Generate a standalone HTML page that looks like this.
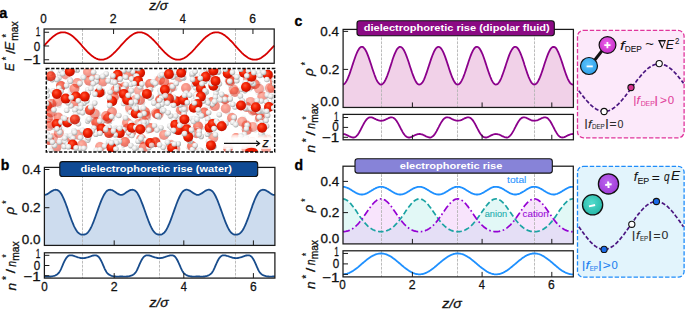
<!DOCTYPE html>
<html><head><meta charset="utf-8"><style>
html,body{margin:0;padding:0;background:#fff;width:685px;height:309px;overflow:hidden}
svg{display:block;font-family:"Liberation Sans", sans-serif}
</style></head><body>
<svg width="685" height="309" viewBox="0 0 685 309">
<defs><radialGradient id="gO" cx="40%" cy="35%" r="65%"><stop offset="0" stop-color="#ff5535"/><stop offset="0.5" stop-color="#f01e00"/><stop offset="1" stop-color="#c01000"/></radialGradient><radialGradient id="gH" cx="40%" cy="35%" r="65%"><stop offset="0" stop-color="#ffffff"/><stop offset="0.55" stop-color="#e6e6e6"/><stop offset="1" stop-color="#a6a6a6"/></radialGradient></defs>
<line x1="82.50" y1="29.00" x2="82.50" y2="63.30" stroke="#b4b4b4" stroke-width="0.9" stroke-dasharray="2.8,1.2"/>
<line x1="158.50" y1="29.00" x2="158.50" y2="63.30" stroke="#b4b4b4" stroke-width="0.9" stroke-dasharray="2.8,1.2"/>
<line x1="235.50" y1="29.00" x2="235.50" y2="63.30" stroke="#b4b4b4" stroke-width="0.9" stroke-dasharray="2.8,1.2"/>
<path d="M44.1,45.8L44.8,45.0L45.5,44.2L46.2,43.4L46.9,42.7L47.6,41.9L48.3,41.2L49.0,40.4L49.7,39.7L50.4,39.0L51.1,38.4L51.8,37.7L52.5,37.1L53.2,36.5L53.9,36.0L54.6,35.5L55.3,35.0L56.0,34.5L56.7,34.1L57.3,33.7L58.0,33.4L58.7,33.1L59.4,32.9L60.1,32.6L60.8,32.5L61.5,32.4L62.2,32.3L62.9,32.3L63.6,32.3L64.3,32.3L65.0,32.4L65.7,32.6L66.4,32.8L67.1,33.0L67.8,33.3L68.5,33.6L69.2,34.0L69.9,34.4L70.6,34.8L71.3,35.3L72.0,35.8L72.7,36.3L73.4,36.9L74.1,37.5L74.8,38.1L75.5,38.8L76.2,39.5L76.9,40.2L77.6,40.9L78.3,41.6L79.0,42.4L79.7,43.1L80.4,43.9L81.1,44.7L81.8,45.5L82.4,46.3L83.1,47.0L83.8,47.8L84.5,48.6L85.2,49.4L85.9,50.1L86.6,50.9L87.3,51.6L88.0,52.3L88.7,53.0L89.4,53.7L90.1,54.3L90.8,54.9L91.5,55.5L92.2,56.0L92.9,56.6L93.6,57.0L94.3,57.5L95.0,57.9L95.7,58.3L96.4,58.6L97.1,58.9L97.8,59.2L98.5,59.4L99.2,59.5L99.9,59.6L100.6,59.7L101.3,59.7L102.0,59.7L102.7,59.7L103.4,59.6L104.1,59.4L104.8,59.2L105.5,59.0L106.2,58.7L106.9,58.4L107.6,58.0L108.2,57.6L108.9,57.2L109.6,56.7L110.3,56.2L111.0,55.7L111.7,55.1L112.4,54.5L113.1,53.9L113.8,53.2L114.5,52.5L115.2,51.8L115.9,51.1L116.6,50.4L117.3,49.6L118.0,48.8L118.7,48.1L119.4,47.3L120.1,46.5L120.8,45.7L121.5,44.9L122.2,44.1L122.9,43.4L123.6,42.6L124.3,41.9L125.0,41.1L125.7,40.4L126.4,39.7L127.1,39.0L127.8,38.3L128.5,37.7L129.2,37.1L129.9,36.5L130.6,35.9L131.3,35.4L132.0,34.9L132.7,34.5L133.4,34.1L134.0,33.7L134.7,33.4L135.4,33.1L136.1,32.8L136.8,32.6L137.5,32.5L138.2,32.4L138.9,32.3L139.6,32.3L140.3,32.3L141.0,32.3L141.7,32.4L142.4,32.6L143.1,32.8L143.8,33.0L144.5,33.3L145.2,33.6L145.9,34.0L146.6,34.4L147.3,34.8L148.0,35.3L148.7,35.8L149.4,36.4L150.1,36.9L150.8,37.5L151.5,38.2L152.2,38.8L152.9,39.5L153.6,40.2L154.3,40.9L155.0,41.7L155.7,42.4L156.4,43.2L157.1,44.0L157.8,44.7L158.5,45.5L159.1,46.3L159.8,47.1L160.5,47.9L161.2,48.7L161.9,49.4L162.6,50.2L163.3,50.9L164.0,51.6L164.7,52.4L165.4,53.0L166.1,53.7L166.8,54.3L167.5,54.9L168.2,55.5L168.9,56.1L169.6,56.6L170.3,57.1L171.0,57.5L171.7,57.9L172.4,58.3L173.1,58.6L173.8,58.9L174.5,59.2L175.2,59.4L175.9,59.5L176.6,59.7L177.3,59.7L178.0,59.7L178.7,59.7L179.4,59.7L180.1,59.6L180.8,59.4L181.5,59.2L182.2,59.0L182.9,58.7L183.6,58.4L184.3,58.0L184.9,57.6L185.6,57.2L186.3,56.7L187.0,56.2L187.7,55.6L188.4,55.0L189.1,54.4L189.8,53.8L190.5,53.1L191.2,52.5L191.9,51.8L192.6,51.0L193.3,50.3L194.0,49.5L194.7,48.8L195.4,48.0L196.1,47.2L196.8,46.4L197.5,45.7L198.2,44.9L198.9,44.1L199.6,43.3L200.3,42.6L201.0,41.8L201.7,41.1L202.4,40.3L203.1,39.6L203.8,38.9L204.5,38.3L205.2,37.6L205.9,37.0L206.6,36.4L207.3,35.9L208.0,35.4L208.7,34.9L209.4,34.5L210.1,34.0L210.7,33.7L211.4,33.3L212.1,33.1L212.8,32.8L213.5,32.6L214.2,32.5L214.9,32.3L215.6,32.3L216.3,32.3L217.0,32.3L217.7,32.3L218.4,32.4L219.1,32.6L219.8,32.8L220.5,33.0L221.2,33.3L221.9,33.6L222.6,34.0L223.3,34.4L224.0,34.9L224.7,35.3L225.4,35.9L226.1,36.4L226.8,37.0L227.5,37.6L228.2,38.2L228.9,38.9L229.6,39.6L230.3,40.3L231.0,41.0L231.7,41.7L232.4,42.5L233.1,43.2L233.8,44.0L234.5,44.8L235.2,45.6L235.9,46.4L236.5,47.2L237.2,47.9L237.9,48.7L238.6,49.5L239.3,50.2L240.0,51.0L240.7,51.7L241.4,52.4L242.1,53.1L242.8,53.7L243.5,54.4L244.2,55.0L244.9,55.6L245.6,56.1L246.3,56.6L247.0,57.1L247.7,57.6L248.4,58.0L249.1,58.3L249.8,58.7L250.5,58.9L251.2,59.2L251.9,59.4L252.6,59.5L253.3,59.7L254.0,59.7L254.7,59.7L255.4,59.7L256.1,59.7L256.8,59.5L257.5,59.4L258.2,59.2L258.9,59.0L259.6,58.7L260.3,58.3L261.0,58.0L261.6,57.6L262.3,57.1L263.0,56.6L263.7,56.1L264.4,55.6L265.1,55.0L265.8,54.4L266.5,53.8L267.2,53.1L267.9,52.4L268.6,51.7L269.3,51.0L270.0,50.2L270.7,49.5L271.4,48.7L272.1,47.9L272.8,47.2L273.5,46.4L274.2,45.6" fill="none" stroke="#d60000" stroke-width="1.8"/>
<rect x="44.10" y="29.00" width="230.10" height="34.30" fill="none" stroke="#1a1a1a" stroke-width="1.25"/>
<line x1="44.10" y1="32.25" x2="49.10" y2="32.25" stroke="#1a1a1a" stroke-width="1.0"/>
<line x1="44.10" y1="46.00" x2="49.10" y2="46.00" stroke="#1a1a1a" stroke-width="1.0"/>
<line x1="44.10" y1="59.75" x2="49.10" y2="59.75" stroke="#1a1a1a" stroke-width="1.0"/>
<line x1="113.58" y1="29.00" x2="113.58" y2="34.00" stroke="#1a1a1a" stroke-width="1.0"/>
<line x1="183.26" y1="29.00" x2="183.26" y2="34.00" stroke="#1a1a1a" stroke-width="1.0"/>
<line x1="252.94" y1="29.00" x2="252.94" y2="34.00" stroke="#1a1a1a" stroke-width="1.0"/>
<text x="40.23" y="22.50" font-size="12.6" font-weight="normal" font-style="normal" fill="#111" stroke="#111" stroke-width="0.28" textLength="6.49" lengthAdjust="spacingAndGlyphs">0</text>
<text x="109.76" y="22.50" font-size="12.6" font-weight="normal" font-style="normal" fill="#111" stroke="#111" stroke-width="0.28" textLength="6.85" lengthAdjust="spacingAndGlyphs">2</text>
<text x="179.84" y="22.50" font-size="12.6" font-weight="normal" font-style="normal" fill="#111" stroke="#111" stroke-width="0.28" textLength="6.17" lengthAdjust="spacingAndGlyphs">4</text>
<text x="249.14" y="22.50" font-size="12.6" font-weight="normal" font-style="normal" fill="#111" stroke="#111" stroke-width="0.28" textLength="6.70" lengthAdjust="spacingAndGlyphs">6</text>
<text x="149.27" y="9.60" font-size="12.5" font-weight="normal" font-style="italic" fill="#111" stroke="#111" stroke-width="0.28" textLength="18.57" lengthAdjust="spacingAndGlyphs">z/σ</text>
<text x="35.68" y="36.30" font-size="12.6" font-weight="normal" font-style="normal" fill="#111" stroke="#111" stroke-width="0.28" textLength="4.60" lengthAdjust="spacingAndGlyphs">1</text>
<text x="33.83" y="50.80" font-size="12.6" font-weight="normal" font-style="normal" fill="#111" stroke="#111" stroke-width="0.28" textLength="6.49" lengthAdjust="spacingAndGlyphs">0</text>
<text x="23.34" y="64.30" font-size="12.6" font-weight="normal" font-style="normal" fill="#111" stroke="#111" stroke-width="0.28" textLength="17.24" lengthAdjust="spacingAndGlyphs">−1</text>
<text x="-0.80" y="18.10" font-size="14.5" text-anchor="start" font-weight="bold" font-style="normal" fill="#000" stroke="#000" stroke-width="0.35">a</text>
<text transform="rotate(-90)" x="-71.16" y="14.31" font-size="13.5" font-weight="normal" font-style="italic" fill="#111" stroke="#111" stroke-width="0.28" textLength="8.07" lengthAdjust="spacingAndGlyphs">E</text>
<text transform="rotate(-90)" x="-50.39" y="14.31" font-size="13.5" font-weight="normal" font-style="italic" fill="#111" stroke="#111" stroke-width="0.28" textLength="8.69" lengthAdjust="spacingAndGlyphs">E</text>
<text transform="rotate(-90)" x="-60.13" y="9.80" font-size="10" font-weight="normal" font-style="normal" fill="#111" stroke="#111" stroke-width="0.28" textLength="3.46" lengthAdjust="spacingAndGlyphs">*</text>
<text transform="rotate(-90)" x="-53.80" y="15.19" font-size="13.5" font-weight="normal" font-style="normal" fill="#111" stroke="#111" stroke-width="0.28" textLength="3.77" lengthAdjust="spacingAndGlyphs">/</text>
<text transform="rotate(-90)" x="-37.43" y="9.80" font-size="10" font-weight="normal" font-style="normal" fill="#111" stroke="#111" stroke-width="0.28" textLength="3.46" lengthAdjust="spacingAndGlyphs">*</text>
<text transform="rotate(-90)" x="-40.67" y="18.40" font-size="10" font-weight="normal" font-style="normal" fill="#111" stroke="#111" stroke-width="0.28" textLength="19.36" lengthAdjust="spacingAndGlyphs">max</text>
<clipPath id="mc"><rect x="46.3" y="68.4" width="228.39999999999998" height="83.5"/></clipPath>
<g clip-path="url(#mc)">
<g opacity="0.46"><circle cx="81.0" cy="81.4" r="2.3" fill="url(#gH)"/><circle cx="77.6" cy="87.0" r="2.3" fill="url(#gH)"/><circle cx="77.3" cy="83.0" r="5.0" fill="url(#gO)"/></g>
<g opacity="0.55"><circle cx="49.1" cy="100.8" r="2.3" fill="url(#gH)"/><circle cx="55.2" cy="102.8" r="2.3" fill="url(#gH)"/><circle cx="51.4" cy="104.0" r="5.0" fill="url(#gO)"/></g>
<g opacity="0.51"><circle cx="98.7" cy="77.5" r="2.3" fill="url(#gH)"/><circle cx="95.1" cy="82.9" r="2.3" fill="url(#gH)"/><circle cx="95.0" cy="78.9" r="5.0" fill="url(#gO)"/></g>
<g opacity="0.44"><circle cx="59.1" cy="89.5" r="2.3" fill="url(#gH)"/><circle cx="58.3" cy="83.1" r="2.3" fill="url(#gH)"/><circle cx="61.0" cy="86.0" r="5.0" fill="url(#gO)"/></g>
<g opacity="0.43"><circle cx="55.4" cy="131.1" r="2.3" fill="url(#gH)"/><circle cx="61.9" cy="130.5" r="2.3" fill="url(#gH)"/><circle cx="58.9" cy="133.1" r="5.0" fill="url(#gO)"/></g>
<g opacity="0.53"><circle cx="49.3" cy="110.5" r="2.3" fill="url(#gH)"/><circle cx="45.1" cy="105.4" r="2.3" fill="url(#gH)"/><circle cx="49.0" cy="106.5" r="5.0" fill="url(#gO)"/></g>
<g opacity="0.55"><circle cx="65.1" cy="146.1" r="2.3" fill="url(#gH)"/><circle cx="62.3" cy="140.2" r="2.3" fill="url(#gH)"/><circle cx="65.8" cy="142.2" r="5.0" fill="url(#gO)"/></g>
<g opacity="0.64"><circle cx="45.6" cy="137.9" r="2.3" fill="url(#gH)"/><circle cx="52.1" cy="137.4" r="2.3" fill="url(#gH)"/><circle cx="49.0" cy="140.0" r="5.0" fill="url(#gO)"/></g>
<g opacity="0.56"><circle cx="131.3" cy="77.8" r="2.3" fill="url(#gH)"/><circle cx="124.9" cy="76.4" r="2.3" fill="url(#gH)"/><circle cx="128.6" cy="74.8" r="5.0" fill="url(#gO)"/></g>
<g opacity="0.47"><circle cx="98.9" cy="80.5" r="2.3" fill="url(#gH)"/><circle cx="105.0" cy="78.3" r="2.3" fill="url(#gH)"/><circle cx="102.7" cy="81.6" r="5.0" fill="url(#gO)"/></g>
<g opacity="0.64"><circle cx="110.0" cy="115.5" r="2.3" fill="url(#gH)"/><circle cx="109.9" cy="122.0" r="2.3" fill="url(#gH)"/><circle cx="107.6" cy="118.7" r="5.0" fill="url(#gO)"/></g>
<g opacity="0.48"><circle cx="114.4" cy="115.2" r="2.3" fill="url(#gH)"/><circle cx="108.2" cy="113.2" r="2.3" fill="url(#gH)"/><circle cx="112.0" cy="112.0" r="5.0" fill="url(#gO)"/></g>
<g opacity="0.55"><circle cx="144.8" cy="108.0" r="2.3" fill="url(#gH)"/><circle cx="148.9" cy="113.1" r="2.3" fill="url(#gH)"/><circle cx="145.0" cy="112.0" r="5.0" fill="url(#gO)"/></g>
<g opacity="0.59"><circle cx="123.3" cy="145.6" r="2.3" fill="url(#gH)"/><circle cx="122.1" cy="139.2" r="2.3" fill="url(#gH)"/><circle cx="125.0" cy="142.0" r="5.0" fill="url(#gO)"/></g>
<g opacity="0.58"><circle cx="160.1" cy="111.4" r="2.3" fill="url(#gH)"/><circle cx="158.9" cy="117.8" r="2.3" fill="url(#gH)"/><circle cx="157.2" cy="114.2" r="5.0" fill="url(#gO)"/></g>
<g opacity="0.42"><circle cx="159.3" cy="118.0" r="2.3" fill="url(#gH)"/><circle cx="154.7" cy="113.5" r="2.3" fill="url(#gH)"/><circle cx="158.6" cy="114.1" r="5.0" fill="url(#gO)"/></g>
<g opacity="0.63"><circle cx="200.2" cy="112.4" r="2.3" fill="url(#gH)"/><circle cx="205.7" cy="108.9" r="2.3" fill="url(#gH)"/><circle cx="204.2" cy="112.6" r="5.0" fill="url(#gO)"/></g>
<g opacity="0.56"><circle cx="201.9" cy="127.7" r="2.3" fill="url(#gH)"/><circle cx="195.6" cy="129.4" r="2.3" fill="url(#gH)"/><circle cx="198.1" cy="126.3" r="5.0" fill="url(#gO)"/></g>
<g opacity="0.59"><circle cx="194.4" cy="149.2" r="2.3" fill="url(#gH)"/><circle cx="188.2" cy="147.3" r="2.3" fill="url(#gH)"/><circle cx="192.0" cy="146.0" r="5.0" fill="url(#gO)"/></g>
<g opacity="0.45"><circle cx="156.4" cy="78.3" r="2.3" fill="url(#gH)"/><circle cx="162.8" cy="77.1" r="2.3" fill="url(#gH)"/><circle cx="160.0" cy="80.0" r="5.0" fill="url(#gO)"/></g>
<g opacity="0.56"><circle cx="253.2" cy="80.7" r="2.3" fill="url(#gH)"/><circle cx="258.9" cy="83.8" r="2.3" fill="url(#gH)"/><circle cx="254.9" cy="84.3" r="5.0" fill="url(#gO)"/></g>
<g opacity="0.61"><circle cx="221.1" cy="98.4" r="2.3" fill="url(#gH)"/><circle cx="227.0" cy="95.7" r="2.3" fill="url(#gH)"/><circle cx="225.0" cy="99.2" r="5.0" fill="url(#gO)"/></g>
<g opacity="0.59"><circle cx="211.3" cy="105.9" r="2.3" fill="url(#gH)"/><circle cx="208.5" cy="100.1" r="2.3" fill="url(#gH)"/><circle cx="212.0" cy="102.0" r="5.0" fill="url(#gO)"/></g>
<g opacity="0.43"><circle cx="261.7" cy="92.5" r="2.3" fill="url(#gH)"/><circle cx="266.2" cy="97.2" r="2.3" fill="url(#gH)"/><circle cx="262.3" cy="96.5" r="5.0" fill="url(#gO)"/></g>
<g opacity="0.50"><circle cx="245.5" cy="126.3" r="2.3" fill="url(#gH)"/><circle cx="250.8" cy="130.1" r="2.3" fill="url(#gH)"/><circle cx="246.8" cy="130.1" r="5.0" fill="url(#gO)"/></g>
<g opacity="0.44"><circle cx="211.4" cy="141.2" r="2.3" fill="url(#gH)"/><circle cx="210.6" cy="134.8" r="2.3" fill="url(#gH)"/><circle cx="213.3" cy="137.7" r="5.0" fill="url(#gO)"/></g>
<g opacity="0.47"><circle cx="246.8" cy="148.0" r="2.3" fill="url(#gH)"/><circle cx="252.9" cy="146.0" r="2.3" fill="url(#gH)"/><circle cx="250.6" cy="149.2" r="5.0" fill="url(#gO)"/></g>
<g opacity="0.47"><circle cx="234.2" cy="88.1" r="2.3" fill="url(#gH)"/><circle cx="239.0" cy="92.6" r="2.3" fill="url(#gH)"/><circle cx="235.0" cy="92.0" r="5.0" fill="url(#gO)"/></g>
<g opacity="0.50"><circle cx="228.6" cy="120.1" r="2.3" fill="url(#gH)"/><circle cx="231.1" cy="114.1" r="2.3" fill="url(#gH)"/><circle cx="232.0" cy="118.0" r="5.0" fill="url(#gO)"/></g>
<g opacity="0.45"><circle cx="264.1" cy="141.0" r="2.3" fill="url(#gH)"/><circle cx="268.4" cy="136.0" r="2.3" fill="url(#gH)"/><circle cx="268.0" cy="140.0" r="5.0" fill="url(#gO)"/></g>
<g opacity="0.59"><circle cx="153.9" cy="128.7" r="2.3" fill="url(#gH)"/><circle cx="148.0" cy="131.5" r="2.3" fill="url(#gH)"/><circle cx="150.0" cy="128.0" r="5.0" fill="url(#gO)"/></g>
<g opacity="0.54"><circle cx="86.8" cy="107.6" r="2.3" fill="url(#gH)"/><circle cx="93.3" cy="107.7" r="2.3" fill="url(#gH)"/><circle cx="90.0" cy="110.0" r="5.0" fill="url(#gO)"/></g>
<g opacity="0.45"><circle cx="82.5" cy="141.0" r="2.3" fill="url(#gH)"/><circle cx="85.6" cy="146.8" r="2.3" fill="url(#gH)"/><circle cx="82.0" cy="145.0" r="5.0" fill="url(#gO)"/></g>
<g opacity="0.44"><circle cx="98.8" cy="143.2" r="2.3" fill="url(#gH)"/><circle cx="104.0" cy="147.1" r="2.3" fill="url(#gH)"/><circle cx="100.0" cy="147.0" r="5.0" fill="url(#gO)"/></g>
<g opacity="0.56"><circle cx="141.5" cy="96.3" r="2.3" fill="url(#gH)"/><circle cx="143.0" cy="102.7" r="2.3" fill="url(#gH)"/><circle cx="140.0" cy="100.0" r="5.0" fill="url(#gO)"/></g>
<g opacity="0.64"><circle cx="156.2" cy="101.1" r="2.3" fill="url(#gH)"/><circle cx="160.2" cy="96.0" r="2.3" fill="url(#gH)"/><circle cx="160.0" cy="100.0" r="5.0" fill="url(#gO)"/></g>
<g opacity="0.60"><circle cx="225.4" cy="145.0" r="2.3" fill="url(#gH)"/><circle cx="231.7" cy="146.5" r="2.3" fill="url(#gH)"/><circle cx="228.0" cy="148.0" r="5.0" fill="url(#gO)"/></g>
<g opacity="0.49"><circle cx="239.3" cy="135.7" r="2.3" fill="url(#gH)"/><circle cx="237.1" cy="141.8" r="2.3" fill="url(#gH)"/><circle cx="236.0" cy="138.0" r="5.0" fill="url(#gO)"/></g>
<g opacity="0.45"><circle cx="91.7" cy="70.4" r="2.3" fill="url(#gH)"/><circle cx="88.3" cy="76.0" r="2.3" fill="url(#gH)"/><circle cx="88.0" cy="72.0" r="5.0" fill="url(#gO)"/></g>
<g opacity="0.61"><circle cx="153.7" cy="85.5" r="2.3" fill="url(#gH)"/><circle cx="147.4" cy="87.0" r="2.3" fill="url(#gH)"/><circle cx="150.0" cy="84.0" r="5.0" fill="url(#gO)"/></g>
<g opacity="0.47"><circle cx="190.0" cy="87.4" r="2.3" fill="url(#gH)"/><circle cx="185.3" cy="91.9" r="2.3" fill="url(#gH)"/><circle cx="186.0" cy="88.0" r="5.0" fill="url(#gO)"/></g>
<g opacity="0.61"><circle cx="115.8" cy="91.4" r="2.3" fill="url(#gH)"/><circle cx="115.5" cy="84.9" r="2.3" fill="url(#gH)"/><circle cx="118.0" cy="88.0" r="5.0" fill="url(#gO)"/></g>
<g opacity="0.58"><circle cx="97.6" cy="118.3" r="2.3" fill="url(#gH)"/><circle cx="99.0" cy="124.7" r="2.3" fill="url(#gH)"/><circle cx="96.0" cy="122.0" r="5.0" fill="url(#gO)"/></g>
<g opacity="0.54"><circle cx="233.7" cy="81.5" r="2.3" fill="url(#gH)"/><circle cx="227.4" cy="83.0" r="2.3" fill="url(#gH)"/><circle cx="230.0" cy="80.0" r="5.0" fill="url(#gO)"/></g>
<g opacity="0.41"><circle cx="266.2" cy="86.7" r="2.3" fill="url(#gH)"/><circle cx="272.5" cy="84.9" r="2.3" fill="url(#gH)"/><circle cx="270.0" cy="88.0" r="5.0" fill="url(#gO)"/></g>
<g opacity="0.49"><circle cx="44.1" cy="117.3" r="2.3" fill="url(#gH)"/><circle cx="50.0" cy="114.5" r="2.3" fill="url(#gH)"/><circle cx="48.0" cy="118.0" r="5.0" fill="url(#gO)"/></g>
<g opacity="0.57"><circle cx="256.3" cy="119.5" r="2.3" fill="url(#gH)"/><circle cx="259.8" cy="114.0" r="2.3" fill="url(#gH)"/><circle cx="260.0" cy="118.0" r="5.0" fill="url(#gO)"/></g>
<g opacity="0.53"><circle cx="177.0" cy="109.6" r="2.3" fill="url(#gH)"/><circle cx="182.7" cy="106.4" r="2.3" fill="url(#gH)"/><circle cx="181.0" cy="110.0" r="5.0" fill="url(#gO)"/></g>
<g opacity="0.45"><circle cx="160.7" cy="137.3" r="2.3" fill="url(#gH)"/><circle cx="162.9" cy="131.2" r="2.3" fill="url(#gH)"/><circle cx="164.0" cy="135.0" r="5.0" fill="url(#gO)"/></g>
<g opacity="0.43"><circle cx="127.8" cy="111.3" r="2.3" fill="url(#gH)"/><circle cx="127.6" cy="104.8" r="2.3" fill="url(#gH)"/><circle cx="130.0" cy="108.0" r="5.0" fill="url(#gO)"/></g>
<g opacity="0.40"><circle cx="153.2" cy="110.4" r="2.5" fill="url(#gH)"/><circle cx="159.7" cy="111.4" r="2.5" fill="url(#gH)"/><circle cx="156.1" cy="113.2" r="5.0" fill="url(#gO)"/></g>
<g opacity="0.49"><circle cx="54.5" cy="113.8" r="2.5" fill="url(#gH)"/><circle cx="48.3" cy="115.6" r="2.5" fill="url(#gH)"/><circle cx="50.8" cy="112.5" r="5.0" fill="url(#gO)"/></g>
<g opacity="0.40"><circle cx="135.3" cy="96.2" r="2.5" fill="url(#gH)"/><circle cx="138.8" cy="101.7" r="2.5" fill="url(#gH)"/><circle cx="135.1" cy="100.2" r="5.0" fill="url(#gO)"/></g>
<g opacity="0.32"><circle cx="124.1" cy="101.0" r="2.5" fill="url(#gH)"/><circle cx="123.3" cy="94.5" r="2.5" fill="url(#gH)"/><circle cx="126.0" cy="97.5" r="5.0" fill="url(#gO)"/></g>
<g opacity="0.49"><circle cx="167.8" cy="147.4" r="2.5" fill="url(#gH)"/><circle cx="170.3" cy="141.4" r="2.5" fill="url(#gH)"/><circle cx="171.2" cy="145.3" r="5.0" fill="url(#gO)"/></g>
<g opacity="0.50"><circle cx="259.3" cy="136.5" r="2.5" fill="url(#gH)"/><circle cx="265.8" cy="136.3" r="2.5" fill="url(#gH)"/><circle cx="262.6" cy="138.7" r="5.0" fill="url(#gO)"/></g>
<g opacity="0.39"><circle cx="231.7" cy="93.1" r="2.5" fill="url(#gH)"/><circle cx="230.9" cy="86.6" r="2.5" fill="url(#gH)"/><circle cx="233.6" cy="89.6" r="5.0" fill="url(#gO)"/></g>
<g opacity="0.45"><circle cx="108.1" cy="119.6" r="2.5" fill="url(#gH)"/><circle cx="102.2" cy="116.9" r="2.5" fill="url(#gH)"/><circle cx="106.1" cy="116.1" r="5.0" fill="url(#gO)"/></g>
<g opacity="0.40"><circle cx="178.3" cy="81.0" r="2.5" fill="url(#gH)"/><circle cx="176.0" cy="74.9" r="2.5" fill="url(#gH)"/><circle cx="179.3" cy="77.1" r="5.0" fill="url(#gO)"/></g>
<g opacity="0.43"><circle cx="211.7" cy="76.2" r="2.5" fill="url(#gH)"/><circle cx="206.0" cy="79.4" r="2.5" fill="url(#gH)"/><circle cx="207.7" cy="75.8" r="5.0" fill="url(#gO)"/></g>
<g opacity="0.35"><circle cx="140.4" cy="127.6" r="2.5" fill="url(#gH)"/><circle cx="134.7" cy="124.4" r="2.5" fill="url(#gH)"/><circle cx="138.7" cy="124.0" r="5.0" fill="url(#gO)"/></g>
<g opacity="0.37"><circle cx="263.1" cy="88.7" r="2.5" fill="url(#gH)"/><circle cx="257.9" cy="92.6" r="2.5" fill="url(#gH)"/><circle cx="259.1" cy="88.8" r="5.0" fill="url(#gO)"/></g>
<g opacity="0.53"><circle cx="120.9" cy="89.8" r="2.5" fill="url(#gH)"/><circle cx="122.4" cy="83.5" r="2.5" fill="url(#gH)"/><circle cx="123.9" cy="87.2" r="5.0" fill="url(#gO)"/></g>
<g opacity="0.52"><circle cx="71.1" cy="102.6" r="2.5" fill="url(#gH)"/><circle cx="76.8" cy="99.4" r="2.5" fill="url(#gH)"/><circle cx="75.1" cy="103.1" r="5.0" fill="url(#gO)"/></g>
<g opacity="0.52"><circle cx="271.6" cy="83.0" r="2.5" fill="url(#gH)"/><circle cx="273.1" cy="76.7" r="2.5" fill="url(#gH)"/><circle cx="274.7" cy="80.4" r="5.0" fill="url(#gO)"/></g>
<g opacity="0.49"><circle cx="62.4" cy="118.1" r="2.5" fill="url(#gH)"/><circle cx="56.6" cy="121.1" r="2.5" fill="url(#gH)"/><circle cx="58.4" cy="117.5" r="5.0" fill="url(#gO)"/></g>
<g opacity="0.32"><circle cx="263.0" cy="110.2" r="2.5" fill="url(#gH)"/><circle cx="262.6" cy="116.7" r="2.5" fill="url(#gH)"/><circle cx="260.5" cy="113.3" r="5.0" fill="url(#gO)"/></g>
<g opacity="0.47"><circle cx="144.7" cy="141.2" r="2.5" fill="url(#gH)"/><circle cx="138.2" cy="141.7" r="2.5" fill="url(#gH)"/><circle cx="141.2" cy="139.1" r="5.0" fill="url(#gO)"/></g>
<g opacity="0.38"><circle cx="135.1" cy="89.2" r="2.5" fill="url(#gH)"/><circle cx="141.3" cy="87.4" r="2.5" fill="url(#gH)"/><circle cx="138.9" cy="90.5" r="5.0" fill="url(#gO)"/></g>
<g opacity="0.50"><circle cx="129.0" cy="135.6" r="2.5" fill="url(#gH)"/><circle cx="128.8" cy="129.1" r="2.5" fill="url(#gH)"/><circle cx="131.2" cy="132.3" r="5.0" fill="url(#gO)"/></g>
<g opacity="0.52"><circle cx="163.2" cy="85.6" r="2.5" fill="url(#gH)"/><circle cx="160.9" cy="79.5" r="2.5" fill="url(#gH)"/><circle cx="164.2" cy="81.8" r="5.0" fill="url(#gO)"/></g>
<g opacity="0.39"><circle cx="177.7" cy="145.7" r="2.5" fill="url(#gH)"/><circle cx="177.6" cy="152.2" r="2.5" fill="url(#gH)"/><circle cx="175.3" cy="149.0" r="5.0" fill="url(#gO)"/></g>
<g opacity="0.47"><circle cx="218.6" cy="127.8" r="2.5" fill="url(#gH)"/><circle cx="221.0" cy="121.8" r="2.5" fill="url(#gH)"/><circle cx="222.0" cy="125.7" r="5.0" fill="url(#gO)"/></g>
<g opacity="0.44"><circle cx="243.3" cy="127.9" r="2.5" fill="url(#gH)"/><circle cx="245.2" cy="121.7" r="2.5" fill="url(#gH)"/><circle cx="246.5" cy="125.5" r="5.0" fill="url(#gO)"/></g>
<g opacity="0.45"><circle cx="194.5" cy="95.0" r="2.5" fill="url(#gH)"/><circle cx="200.2" cy="91.8" r="2.5" fill="url(#gH)"/><circle cx="198.5" cy="95.4" r="5.0" fill="url(#gO)"/></g>
<g opacity="0.43"><circle cx="228.6" cy="105.7" r="2.5" fill="url(#gH)"/><circle cx="227.5" cy="112.1" r="2.5" fill="url(#gH)"/><circle cx="225.8" cy="108.5" r="5.0" fill="url(#gO)"/></g>
<g opacity="0.40"><circle cx="238.2" cy="122.0" r="2.5" fill="url(#gH)"/><circle cx="243.3" cy="118.0" r="2.5" fill="url(#gH)"/><circle cx="242.2" cy="121.8" r="5.0" fill="url(#gO)"/></g>
<g opacity="0.52"><circle cx="131.3" cy="126.6" r="2.5" fill="url(#gH)"/><circle cx="128.3" cy="132.4" r="2.5" fill="url(#gH)"/><circle cx="127.7" cy="128.4" r="5.0" fill="url(#gO)"/></g>
<g opacity="0.33"><circle cx="250.4" cy="148.4" r="2.5" fill="url(#gH)"/><circle cx="245.5" cy="152.7" r="2.5" fill="url(#gH)"/><circle cx="246.4" cy="148.8" r="5.0" fill="url(#gO)"/></g>
<g opacity="0.40"><circle cx="253.4" cy="104.6" r="2.5" fill="url(#gH)"/><circle cx="247.0" cy="103.8" r="2.5" fill="url(#gH)"/><circle cx="250.5" cy="101.9" r="5.0" fill="url(#gO)"/></g>
<g opacity="0.47"><circle cx="194.9" cy="85.3" r="2.5" fill="url(#gH)"/><circle cx="194.3" cy="78.8" r="2.5" fill="url(#gH)"/><circle cx="196.9" cy="81.9" r="5.0" fill="url(#gO)"/></g>
<g opacity="0.41"><circle cx="208.8" cy="66.1" r="2.5" fill="url(#gH)"/><circle cx="214.8" cy="68.5" r="2.5" fill="url(#gH)"/><circle cx="210.9" cy="69.4" r="5.0" fill="url(#gO)"/></g>
<g opacity="0.52"><circle cx="148.6" cy="118.3" r="2.5" fill="url(#gH)"/><circle cx="142.2" cy="117.0" r="2.5" fill="url(#gH)"/><circle cx="145.8" cy="115.4" r="5.0" fill="url(#gO)"/></g>
<g opacity="0.45"><circle cx="98.7" cy="114.1" r="2.5" fill="url(#gH)"/><circle cx="93.1" cy="117.3" r="2.5" fill="url(#gH)"/><circle cx="94.8" cy="113.7" r="5.0" fill="url(#gO)"/></g>
<g opacity="0.46"><circle cx="256.3" cy="141.7" r="2.5" fill="url(#gH)"/><circle cx="251.4" cy="146.0" r="2.5" fill="url(#gH)"/><circle cx="252.3" cy="142.1" r="5.0" fill="url(#gO)"/></g>
<g opacity="0.48"><circle cx="249.8" cy="89.1" r="2.5" fill="url(#gH)"/><circle cx="246.5" cy="83.5" r="2.5" fill="url(#gH)"/><circle cx="250.2" cy="85.1" r="5.0" fill="url(#gO)"/></g>
<g opacity="0.47"><circle cx="210.9" cy="106.4" r="2.5" fill="url(#gH)"/><circle cx="215.9" cy="102.2" r="2.5" fill="url(#gH)"/><circle cx="214.9" cy="106.1" r="5.0" fill="url(#gO)"/></g>
<g opacity="0.47"><circle cx="123.4" cy="124.6" r="2.5" fill="url(#gH)"/><circle cx="126.4" cy="118.9" r="2.5" fill="url(#gH)"/><circle cx="127.0" cy="122.8" r="5.0" fill="url(#gO)"/></g>
<g opacity="0.53"><circle cx="162.3" cy="100.4" r="2.5" fill="url(#gH)"/><circle cx="159.7" cy="94.4" r="2.5" fill="url(#gH)"/><circle cx="163.2" cy="96.5" r="5.0" fill="url(#gO)"/></g>
<g opacity="0.51"><circle cx="91.7" cy="77.7" r="2.5" fill="url(#gH)"/><circle cx="91.2" cy="84.2" r="2.5" fill="url(#gH)"/><circle cx="89.1" cy="80.8" r="5.0" fill="url(#gO)"/></g>
<g opacity="0.35"><circle cx="275.1" cy="90.8" r="2.5" fill="url(#gH)"/><circle cx="268.6" cy="90.1" r="2.5" fill="url(#gH)"/><circle cx="272.1" cy="88.1" r="5.0" fill="url(#gO)"/></g>
<g opacity="0.35"><circle cx="181.4" cy="105.4" r="2.5" fill="url(#gH)"/><circle cx="187.3" cy="108.2" r="2.5" fill="url(#gH)"/><circle cx="183.4" cy="108.9" r="5.0" fill="url(#gO)"/></g>
<g opacity="0.50"><circle cx="244.6" cy="103.8" r="2.5" fill="url(#gH)"/><circle cx="250.7" cy="106.1" r="2.5" fill="url(#gH)"/><circle cx="246.8" cy="107.1" r="5.0" fill="url(#gO)"/></g>
<g opacity="0.44"><circle cx="250.5" cy="111.1" r="2.5" fill="url(#gH)"/><circle cx="254.6" cy="106.1" r="2.5" fill="url(#gH)"/><circle cx="254.3" cy="110.1" r="5.0" fill="url(#gO)"/></g>
<g opacity="0.53"><circle cx="90.4" cy="106.3" r="2.5" fill="url(#gH)"/><circle cx="93.3" cy="112.2" r="2.5" fill="url(#gH)"/><circle cx="89.8" cy="110.3" r="5.0" fill="url(#gO)"/></g>
<g opacity="0.33"><circle cx="53.0" cy="127.4" r="2.5" fill="url(#gH)"/><circle cx="47.2" cy="124.3" r="2.5" fill="url(#gH)"/><circle cx="51.2" cy="123.8" r="5.0" fill="url(#gO)"/></g>
<g opacity="0.43"><circle cx="79.6" cy="131.0" r="2.5" fill="url(#gH)"/><circle cx="81.2" cy="137.3" r="2.5" fill="url(#gH)"/><circle cx="78.1" cy="134.8" r="5.0" fill="url(#gO)"/></g>
<g opacity="0.49"><circle cx="132.1" cy="107.4" r="2.5" fill="url(#gH)"/><circle cx="137.9" cy="110.5" r="2.5" fill="url(#gH)"/><circle cx="133.9" cy="111.0" r="5.0" fill="url(#gO)"/></g>
<g opacity="0.42"><circle cx="60.1" cy="82.2" r="2.5" fill="url(#gH)"/><circle cx="64.9" cy="86.6" r="2.5" fill="url(#gH)"/><circle cx="60.9" cy="86.1" r="5.0" fill="url(#gO)"/></g>
<g opacity="0.48"><circle cx="192.5" cy="133.7" r="2.5" fill="url(#gH)"/><circle cx="197.5" cy="129.4" r="2.5" fill="url(#gH)"/><circle cx="196.5" cy="133.3" r="5.0" fill="url(#gO)"/></g>
<g opacity="0.55"><circle cx="174.8" cy="88.4" r="2.5" fill="url(#gH)"/><circle cx="168.8" cy="90.9" r="2.5" fill="url(#gH)"/><circle cx="170.9" cy="87.5" r="5.0" fill="url(#gO)"/></g>
<g opacity="0.36"><circle cx="48.2" cy="122.1" r="2.5" fill="url(#gH)"/><circle cx="52.6" cy="126.9" r="2.5" fill="url(#gH)"/><circle cx="48.7" cy="126.1" r="5.0" fill="url(#gO)"/></g>
<g opacity="0.42"><circle cx="59.1" cy="105.3" r="2.5" fill="url(#gH)"/><circle cx="53.4" cy="102.2" r="2.5" fill="url(#gH)"/><circle cx="57.4" cy="101.7" r="5.0" fill="url(#gO)"/></g>
<g opacity="0.54"><circle cx="147.8" cy="146.3" r="2.5" fill="url(#gH)"/><circle cx="143.4" cy="151.0" r="2.5" fill="url(#gH)"/><circle cx="143.9" cy="147.1" r="5.0" fill="url(#gO)"/></g>
<g opacity="0.48"><circle cx="58.4" cy="150.4" r="2.5" fill="url(#gH)"/><circle cx="52.8" cy="147.1" r="2.5" fill="url(#gH)"/><circle cx="56.7" cy="146.7" r="5.0" fill="url(#gO)"/></g>
<g opacity="0.46"><circle cx="43.1" cy="105.1" r="2.5" fill="url(#gH)"/><circle cx="48.9" cy="102.2" r="2.5" fill="url(#gH)"/><circle cx="47.0" cy="105.7" r="5.0" fill="url(#gO)"/></g>
<g opacity="0.45"><circle cx="230.5" cy="85.2" r="2.5" fill="url(#gH)"/><circle cx="226.7" cy="79.9" r="2.5" fill="url(#gH)"/><circle cx="230.5" cy="81.2" r="5.0" fill="url(#gO)"/></g>
<g opacity="0.36"><circle cx="52.5" cy="142.2" r="2.5" fill="url(#gH)"/><circle cx="49.2" cy="136.5" r="2.5" fill="url(#gH)"/><circle cx="52.9" cy="138.2" r="5.0" fill="url(#gO)"/></g>
<g opacity="0.36"><circle cx="100.3" cy="120.3" r="2.5" fill="url(#gH)"/><circle cx="98.4" cy="126.5" r="2.5" fill="url(#gH)"/><circle cx="97.1" cy="122.8" r="5.0" fill="url(#gO)"/></g>
<g opacity="0.45"><circle cx="112.2" cy="88.1" r="2.5" fill="url(#gH)"/><circle cx="118.7" cy="87.3" r="2.5" fill="url(#gH)"/><circle cx="115.7" cy="90.0" r="5.0" fill="url(#gO)"/></g>
<g opacity="0.38"><circle cx="255.3" cy="130.1" r="2.5" fill="url(#gH)"/><circle cx="249.0" cy="128.3" r="2.5" fill="url(#gH)"/><circle cx="252.8" cy="126.9" r="5.0" fill="url(#gO)"/></g>
<g opacity="0.48"><circle cx="70.6" cy="89.8" r="2.5" fill="url(#gH)"/><circle cx="74.6" cy="84.7" r="2.5" fill="url(#gH)"/><circle cx="74.4" cy="88.7" r="5.0" fill="url(#gO)"/></g>
<g opacity="0.54"><circle cx="111.6" cy="93.9" r="2.5" fill="url(#gH)"/><circle cx="117.7" cy="96.0" r="2.5" fill="url(#gH)"/><circle cx="113.9" cy="97.1" r="5.0" fill="url(#gO)"/></g>
<g opacity="0.42"><circle cx="62.5" cy="71.8" r="2.5" fill="url(#gH)"/><circle cx="69.0" cy="72.2" r="2.5" fill="url(#gH)"/><circle cx="65.6" cy="74.4" r="5.0" fill="url(#gO)"/></g>
<g opacity="0.32"><circle cx="140.3" cy="118.8" r="2.5" fill="url(#gH)"/><circle cx="146.8" cy="119.2" r="2.5" fill="url(#gH)"/><circle cx="143.4" cy="121.3" r="5.0" fill="url(#gO)"/></g>
<g opacity="0.42"><circle cx="265.6" cy="152.4" r="2.5" fill="url(#gH)"/><circle cx="262.3" cy="146.7" r="2.5" fill="url(#gH)"/><circle cx="266.0" cy="148.4" r="5.0" fill="url(#gO)"/></g>
<g opacity="0.43"><circle cx="112.3" cy="118.8" r="2.5" fill="url(#gH)"/><circle cx="106.0" cy="120.6" r="2.5" fill="url(#gH)"/><circle cx="108.5" cy="117.5" r="5.0" fill="url(#gO)"/></g>
<g opacity="0.34"><circle cx="251.1" cy="107.1" r="2.5" fill="url(#gH)"/><circle cx="256.8" cy="110.1" r="2.5" fill="url(#gH)"/><circle cx="252.8" cy="110.7" r="5.0" fill="url(#gO)"/></g>
<g opacity="0.48"><circle cx="251.8" cy="80.2" r="2.5" fill="url(#gH)"/><circle cx="245.5" cy="81.7" r="2.5" fill="url(#gH)"/><circle cx="248.1" cy="78.7" r="5.0" fill="url(#gO)"/></g>
<g opacity="0.50"><circle cx="119.0" cy="76.8" r="2.5" fill="url(#gH)"/><circle cx="115.6" cy="82.3" r="2.5" fill="url(#gH)"/><circle cx="115.3" cy="78.3" r="5.0" fill="url(#gO)"/></g>
<circle cx="50.8" cy="73.1" r="2.8" fill="url(#gH)"/>
<circle cx="262.3" cy="133.7" r="2.8" fill="url(#gH)"/>
<circle cx="130.9" cy="84.5" r="2.8" fill="url(#gH)"/>
<circle cx="244.4" cy="134.2" r="2.8" fill="url(#gH)"/>
<circle cx="199.0" cy="112.7" r="2.8" fill="url(#gH)"/>
<circle cx="166.3" cy="150.1" r="2.8" fill="url(#gH)"/>
<circle cx="165.6" cy="75.4" r="2.8" fill="url(#gH)"/>
<circle cx="63.4" cy="118.1" r="2.8" fill="url(#gH)"/>
<circle cx="213.6" cy="120.9" r="2.8" fill="url(#gH)"/>
<circle cx="216.0" cy="93.0" r="2.8" fill="url(#gH)"/>
<circle cx="131.1" cy="90.6" r="2.8" fill="url(#gH)"/>
<circle cx="131.4" cy="90.7" r="2.8" fill="url(#gH)"/>
<circle cx="236.8" cy="80.7" r="2.8" fill="url(#gH)"/>
<circle cx="93.8" cy="128.0" r="2.8" fill="url(#gH)"/>
<circle cx="137.2" cy="96.9" r="2.8" fill="url(#gH)"/>
<circle cx="268.9" cy="143.0" r="2.8" fill="url(#gH)"/>
<circle cx="96.3" cy="81.4" r="2.8" fill="url(#gH)"/>
<circle cx="158.8" cy="116.3" r="2.8" fill="url(#gH)"/>
<circle cx="125.5" cy="117.8" r="2.8" fill="url(#gH)"/>
<circle cx="201.2" cy="136.4" r="2.8" fill="url(#gH)"/>
<circle cx="101.6" cy="122.3" r="2.8" fill="url(#gH)"/>
<circle cx="59.6" cy="73.8" r="2.8" fill="url(#gH)"/>
<circle cx="58.9" cy="78.1" r="2.8" fill="url(#gH)"/>
<circle cx="224.9" cy="99.4" r="2.8" fill="url(#gH)"/>
<circle cx="158.9" cy="106.1" r="2.8" fill="url(#gH)"/>
<circle cx="93.6" cy="72.2" r="2.8" fill="url(#gH)"/>
<circle cx="87.8" cy="140.1" r="2.8" fill="url(#gH)"/>
<circle cx="123.6" cy="103.5" r="2.8" fill="url(#gH)"/>
<circle cx="106.7" cy="130.3" r="2.8" fill="url(#gH)"/>
<circle cx="206.7" cy="100.4" r="2.8" fill="url(#gH)"/>
<circle cx="162.0" cy="101.5" r="2.8" fill="url(#gH)"/>
<circle cx="177.2" cy="118.0" r="2.8" fill="url(#gH)"/>
<circle cx="178.2" cy="143.7" r="2.8" fill="url(#gH)"/>
<circle cx="263.3" cy="72.7" r="2.8" fill="url(#gH)"/>
<circle cx="133.0" cy="71.8" r="2.8" fill="url(#gH)"/>
<circle cx="131.9" cy="135.5" r="2.8" fill="url(#gH)"/>
<circle cx="201.5" cy="115.8" r="2.8" fill="url(#gH)"/>
<circle cx="66.0" cy="136.1" r="2.8" fill="url(#gH)"/>
<circle cx="186.2" cy="93.7" r="2.8" fill="url(#gH)"/>
<circle cx="225.7" cy="71.7" r="2.8" fill="url(#gH)"/>
<circle cx="89.1" cy="134.3" r="2.8" fill="url(#gH)"/>
<circle cx="56.8" cy="79.4" r="2.8" fill="url(#gH)"/>
<circle cx="160.9" cy="127.7" r="2.8" fill="url(#gH)"/>
<circle cx="180.9" cy="71.5" r="2.8" fill="url(#gH)"/>
<circle cx="109.1" cy="127.4" r="2.8" fill="url(#gH)"/>
<circle cx="125.9" cy="84.6" r="2.8" fill="url(#gH)"/>
<circle cx="46.8" cy="90.3" r="2.8" fill="url(#gH)"/>
<circle cx="258.9" cy="72.5" r="2.8" fill="url(#gH)"/>
<circle cx="172.6" cy="144.4" r="2.8" fill="url(#gH)"/>
<circle cx="206.3" cy="91.9" r="2.8" fill="url(#gH)"/>
<circle cx="194.4" cy="78.4" r="2.8" fill="url(#gH)"/>
<circle cx="160.2" cy="90.4" r="2.8" fill="url(#gH)"/>
<circle cx="246.3" cy="140.7" r="2.8" fill="url(#gH)"/>
<circle cx="220.3" cy="99.8" r="2.8" fill="url(#gH)"/>
<circle cx="228.3" cy="150.2" r="2.8" fill="url(#gH)"/>
<circle cx="130.7" cy="112.3" r="2.8" fill="url(#gH)"/>
<circle cx="83.4" cy="77.4" r="2.8" fill="url(#gH)"/>
<circle cx="210.8" cy="73.4" r="2.8" fill="url(#gH)"/>
<circle cx="183.6" cy="77.9" r="2.8" fill="url(#gH)"/>
<circle cx="199.1" cy="131.3" r="2.8" fill="url(#gH)"/>
<circle cx="261.2" cy="101.0" r="2.8" fill="url(#gH)"/>
<circle cx="135.3" cy="101.8" r="2.8" fill="url(#gH)"/>
<circle cx="207.5" cy="134.2" r="2.8" fill="url(#gH)"/>
<circle cx="72.7" cy="95.5" r="2.8" fill="url(#gH)"/>
<circle cx="58.9" cy="88.0" r="2.8" fill="url(#gH)"/>
<circle cx="213.9" cy="146.6" r="2.8" fill="url(#gH)"/>
<circle cx="270.2" cy="74.1" r="2.8" fill="url(#gH)"/>
<circle cx="138.1" cy="141.2" r="2.8" fill="url(#gH)"/>
<circle cx="161.6" cy="97.6" r="2.8" fill="url(#gH)"/>
<circle cx="225.0" cy="140.6" r="2.8" fill="url(#gH)"/>
<circle cx="79.6" cy="111.6" r="2.8" fill="url(#gH)"/>
<circle cx="79.9" cy="83.4" r="2.8" fill="url(#gH)"/>
<circle cx="167.5" cy="89.5" r="2.8" fill="url(#gH)"/>
<circle cx="230.2" cy="98.9" r="2.8" fill="url(#gH)"/>
<circle cx="87.7" cy="120.9" r="2.8" fill="url(#gH)"/>
<circle cx="106.1" cy="73.9" r="2.8" fill="url(#gH)"/>
<circle cx="274.5" cy="83.8" r="2.8" fill="url(#gH)"/>
<circle cx="76.3" cy="108.5" r="2.8" fill="url(#gH)"/>
<circle cx="47.2" cy="134.3" r="2.8" fill="url(#gH)"/>
<circle cx="63.5" cy="71.7" r="2.8" fill="url(#gH)"/>
<circle cx="266.9" cy="111.5" r="2.8" fill="url(#gH)"/>
<circle cx="258.4" cy="143.3" r="2.8" fill="url(#gH)"/>
<circle cx="213.9" cy="70.9" r="2.8" fill="url(#gH)"/>
<circle cx="193.3" cy="73.8" r="2.8" fill="url(#gH)"/>
<circle cx="48.7" cy="138.9" r="2.8" fill="url(#gH)"/>
<circle cx="116.4" cy="130.8" r="2.8" fill="url(#gH)"/>
<circle cx="167.3" cy="133.9" r="2.8" fill="url(#gH)"/>
<circle cx="192.4" cy="149.6" r="2.8" fill="url(#gH)"/>
<circle cx="154.7" cy="139.6" r="2.8" fill="url(#gH)"/>
<circle cx="234.0" cy="117.4" r="2.8" fill="url(#gH)"/>
<circle cx="161.9" cy="104.3" r="2.8" fill="url(#gH)"/>
<circle cx="193.9" cy="84.8" r="2.8" fill="url(#gH)"/>
<circle cx="146.6" cy="122.4" r="2.8" fill="url(#gH)"/>
<circle cx="116.5" cy="86.5" r="2.8" fill="url(#gH)"/>
<circle cx="70.6" cy="135.6" r="2.8" fill="url(#gH)"/>
<circle cx="246.3" cy="138.0" r="2.8" fill="url(#gH)"/>
<circle cx="207.7" cy="118.9" r="2.8" fill="url(#gH)"/>
<circle cx="59.5" cy="141.9" r="2.8" fill="url(#gH)"/>
<circle cx="154.5" cy="125.7" r="2.8" fill="url(#gH)"/>
<circle cx="74.0" cy="130.7" r="2.8" fill="url(#gH)"/>
<circle cx="79.8" cy="148.4" r="2.8" fill="url(#gH)"/>
<circle cx="208.6" cy="112.7" r="2.8" fill="url(#gH)"/>
<circle cx="195.5" cy="87.6" r="2.8" fill="url(#gH)"/>
<circle cx="160.3" cy="75.6" r="2.8" fill="url(#gH)"/>
<circle cx="110.1" cy="92.2" r="2.8" fill="url(#gH)"/>
<circle cx="84.0" cy="103.1" r="2.8" fill="url(#gH)"/>
<circle cx="60.7" cy="70.6" r="2.8" fill="url(#gH)"/>
<circle cx="122.3" cy="151.2" r="2.8" fill="url(#gH)"/>
<circle cx="212.4" cy="104.1" r="2.8" fill="url(#gH)"/>
<circle cx="91.8" cy="78.5" r="2.8" fill="url(#gH)"/>
<circle cx="141.4" cy="123.0" r="2.8" fill="url(#gH)"/>
<circle cx="235.0" cy="107.0" r="2.8" fill="url(#gH)"/>
<circle cx="240.9" cy="136.1" r="2.8" fill="url(#gH)"/>
<circle cx="240.4" cy="96.1" r="2.8" fill="url(#gH)"/>
<circle cx="153.0" cy="81.8" r="2.8" fill="url(#gH)"/>
<circle cx="179.8" cy="71.9" r="2.8" fill="url(#gH)"/>
<circle cx="153.5" cy="82.1" r="2.8" fill="url(#gH)"/>
<circle cx="155.4" cy="83.5" r="2.8" fill="url(#gH)"/>
<circle cx="46.6" cy="103.6" r="2.8" fill="url(#gH)"/>
<circle cx="144.1" cy="113.6" r="2.8" fill="url(#gH)"/>
<circle cx="74.8" cy="110.0" r="2.8" fill="url(#gH)"/>
<circle cx="114.7" cy="75.2" r="2.8" fill="url(#gH)"/>
<circle cx="140.0" cy="124.1" r="2.8" fill="url(#gH)"/>
<circle cx="115.5" cy="128.0" r="2.8" fill="url(#gH)"/>
<circle cx="226.5" cy="69.6" r="2.8" fill="url(#gH)"/>
<circle cx="95.5" cy="92.1" r="2.8" fill="url(#gH)"/>
<circle cx="181.6" cy="109.1" r="2.8" fill="url(#gH)"/>
<circle cx="176.0" cy="74.6" r="2.8" fill="url(#gH)"/>
<circle cx="111.9" cy="81.8" r="2.8" fill="url(#gH)"/>
<circle cx="216.7" cy="125.5" r="2.8" fill="url(#gH)"/>
<circle cx="115.9" cy="141.6" r="2.8" fill="url(#gH)"/>
<circle cx="77.3" cy="69.9" r="2.8" fill="url(#gH)"/>
<circle cx="131.6" cy="124.2" r="2.8" fill="url(#gH)"/>
<circle cx="262.4" cy="110.9" r="2.8" fill="url(#gH)"/>
<circle cx="77.5" cy="118.3" r="2.8" fill="url(#gH)"/>
<circle cx="50.1" cy="136.7" r="2.8" fill="url(#gH)"/>
<circle cx="119.9" cy="76.9" r="2.8" fill="url(#gH)"/>
<circle cx="80.4" cy="137.6" r="2.8" fill="url(#gH)"/>
<circle cx="253.3" cy="83.8" r="2.8" fill="url(#gH)"/>
<circle cx="274.3" cy="140.2" r="2.8" fill="url(#gH)"/>
<circle cx="121.5" cy="72.7" r="2.8" fill="url(#gH)"/>
<circle cx="80.8" cy="104.8" r="2.8" fill="url(#gH)"/>
<circle cx="93.2" cy="83.6" r="2.8" fill="url(#gH)"/>
<circle cx="108.6" cy="141.7" r="2.8" fill="url(#gH)"/>
<circle cx="54.6" cy="145.4" r="2.8" fill="url(#gH)"/>
<circle cx="148.9" cy="130.0" r="2.8" fill="url(#gH)"/>
<circle cx="163.2" cy="147.3" r="2.8" fill="url(#gH)"/>
<circle cx="87.7" cy="89.7" r="2.8" fill="url(#gH)"/>
<circle cx="162.4" cy="110.8" r="2.8" fill="url(#gH)"/>
<circle cx="121.9" cy="93.9" r="2.8" fill="url(#gH)"/>
<circle cx="66.7" cy="110.3" r="2.8" fill="url(#gH)"/>
<circle cx="236.0" cy="140.8" r="2.8" fill="url(#gH)"/>
<circle cx="141.0" cy="150.2" r="2.8" fill="url(#gH)"/>
<circle cx="267.2" cy="95.1" r="2.8" fill="url(#gH)"/>
<circle cx="72.9" cy="138.2" r="2.8" fill="url(#gH)"/>
<circle cx="261.2" cy="122.6" r="2.8" fill="url(#gH)"/>
<circle cx="266.6" cy="108.3" r="2.8" fill="url(#gH)"/>
<circle cx="165.9" cy="74.6" r="2.8" fill="url(#gH)"/>
<circle cx="130.8" cy="145.6" r="2.8" fill="url(#gH)"/>
<circle cx="69.9" cy="79.9" r="2.8" fill="url(#gH)"/>
<circle cx="53.9" cy="109.8" r="2.8" fill="url(#gH)"/>
<circle cx="184.1" cy="112.9" r="2.8" fill="url(#gH)"/>
<circle cx="247.1" cy="125.2" r="2.8" fill="url(#gH)"/>
<circle cx="191.8" cy="118.7" r="2.8" fill="url(#gH)"/>
<circle cx="161.9" cy="74.6" r="2.8" fill="url(#gH)"/>
<circle cx="68.5" cy="122.2" r="2.8" fill="url(#gH)"/>
<circle cx="94.7" cy="103.1" r="2.8" fill="url(#gH)"/>
<circle cx="194.2" cy="118.5" r="2.8" fill="url(#gH)"/>
<circle cx="102.1" cy="90.7" r="2.8" fill="url(#gH)"/>
<circle cx="78.4" cy="123.7" r="2.8" fill="url(#gH)"/>
<circle cx="210.7" cy="79.4" r="2.8" fill="url(#gH)"/>
<circle cx="108.1" cy="80.8" r="2.8" fill="url(#gH)"/>
<circle cx="186.1" cy="93.1" r="2.8" fill="url(#gH)"/>
<circle cx="245.0" cy="90.6" r="2.8" fill="url(#gH)"/>
<circle cx="193.5" cy="121.5" r="2.8" fill="url(#gH)"/>
<circle cx="261.4" cy="128.8" r="2.8" fill="url(#gH)"/>
<circle cx="259.4" cy="117.2" r="2.8" fill="url(#gH)"/>
<circle cx="47.1" cy="95.7" r="2.8" fill="url(#gH)"/>
<circle cx="215.4" cy="97.0" r="2.8" fill="url(#gH)"/>
<circle cx="196.6" cy="78.2" r="2.8" fill="url(#gH)"/>
<circle cx="194.0" cy="100.6" r="2.8" fill="url(#gH)"/>
<circle cx="262.4" cy="74.4" r="2.8" fill="url(#gH)"/>
<circle cx="128.7" cy="132.5" r="2.8" fill="url(#gH)"/>
<circle cx="135.9" cy="107.0" r="2.8" fill="url(#gH)"/>
<circle cx="122.7" cy="76.5" r="2.8" fill="url(#gH)"/>
<circle cx="119.4" cy="141.6" r="2.8" fill="url(#gH)"/>
<circle cx="221.6" cy="94.3" r="2.8" fill="url(#gH)"/>
<circle cx="199.0" cy="134.7" r="2.8" fill="url(#gH)"/>
<circle cx="228.3" cy="73.0" r="2.8" fill="url(#gH)"/>
<circle cx="83.8" cy="148.2" r="2.8" fill="url(#gH)"/>
<circle cx="110.2" cy="133.4" r="2.8" fill="url(#gH)"/>
<circle cx="190.3" cy="141.2" r="2.8" fill="url(#gH)"/>
<circle cx="64.2" cy="146.4" r="2.8" fill="url(#gH)"/>
<circle cx="246.4" cy="88.3" r="2.8" fill="url(#gH)"/>
<circle cx="208.7" cy="68.9" r="2.8" fill="url(#gH)"/>
<circle cx="243.9" cy="103.0" r="2.8" fill="url(#gH)"/>
<circle cx="215.4" cy="134.8" r="2.8" fill="url(#gH)"/>
<circle cx="52.4" cy="142.1" r="2.8" fill="url(#gH)"/>
<circle cx="70.3" cy="81.3" r="2.8" fill="url(#gH)"/>
<circle cx="150.5" cy="89.6" r="2.8" fill="url(#gH)"/>
<circle cx="194.3" cy="84.3" r="2.8" fill="url(#gH)"/>
<circle cx="188.6" cy="132.0" r="2.8" fill="url(#gH)"/>
<circle cx="266.4" cy="101.7" r="2.8" fill="url(#gH)"/>
<circle cx="111.6" cy="116.6" r="2.8" fill="url(#gH)"/>
<circle cx="195.1" cy="145.5" r="2.8" fill="url(#gH)"/>
<circle cx="180.1" cy="105.0" r="2.8" fill="url(#gH)"/>
<circle cx="114.3" cy="129.0" r="2.8" fill="url(#gH)"/>
<circle cx="191.9" cy="74.4" r="2.8" fill="url(#gH)"/>
<circle cx="114.7" cy="82.4" r="2.8" fill="url(#gH)"/>
<circle cx="159.5" cy="100.2" r="2.8" fill="url(#gH)"/>
<circle cx="82.6" cy="112.6" r="2.8" fill="url(#gH)"/>
<circle cx="196.9" cy="96.9" r="2.8" fill="url(#gH)"/>
<circle cx="236.9" cy="76.9" r="2.8" fill="url(#gH)"/>
<circle cx="59.4" cy="127.5" r="2.8" fill="url(#gH)"/>
<circle cx="174.9" cy="131.2" r="2.8" fill="url(#gH)"/>
<circle cx="259.8" cy="111.1" r="2.8" fill="url(#gH)"/>
<circle cx="232.9" cy="122.5" r="2.8" fill="url(#gH)"/>
<circle cx="163.7" cy="110.4" r="2.8" fill="url(#gH)"/>
<circle cx="272.9" cy="97.3" r="2.8" fill="url(#gH)"/>
<circle cx="143.3" cy="108.0" r="2.8" fill="url(#gH)"/>
<circle cx="192.4" cy="73.5" r="2.8" fill="url(#gH)"/>
<circle cx="195.1" cy="71.6" r="2.8" fill="url(#gH)"/>
<circle cx="133.0" cy="105.3" r="2.8" fill="url(#gH)"/>
<circle cx="175.6" cy="116.1" r="2.8" fill="url(#gH)"/>
<circle cx="184.2" cy="70.4" r="2.8" fill="url(#gH)"/>
<circle cx="121.3" cy="130.0" r="2.8" fill="url(#gH)"/>
<circle cx="141.6" cy="137.4" r="2.8" fill="url(#gH)"/>
<circle cx="170.5" cy="115.9" r="2.8" fill="url(#gH)"/>
<circle cx="200.8" cy="150.5" r="2.8" fill="url(#gH)"/>
<circle cx="47.2" cy="78.3" r="2.8" fill="url(#gH)"/>
<circle cx="66.6" cy="85.6" r="2.8" fill="url(#gH)"/>
<circle cx="51.0" cy="150.9" r="2.8" fill="url(#gH)"/>
<circle cx="80.6" cy="108.0" r="2.8" fill="url(#gH)"/>
<circle cx="247.7" cy="108.0" r="2.8" fill="url(#gH)"/>
<circle cx="102.7" cy="92.8" r="2.8" fill="url(#gH)"/>
<circle cx="142.7" cy="94.1" r="2.8" fill="url(#gH)"/>
<circle cx="153.8" cy="102.9" r="2.8" fill="url(#gH)"/>
<circle cx="64.9" cy="141.4" r="2.8" fill="url(#gH)"/>
<circle cx="267.6" cy="115.4" r="2.8" fill="url(#gH)"/>
<circle cx="67.9" cy="144.3" r="2.8" fill="url(#gH)"/>
<circle cx="129.1" cy="100.3" r="2.8" fill="url(#gH)"/>
<circle cx="104.6" cy="146.0" r="2.8" fill="url(#gH)"/>
<circle cx="204.4" cy="93.5" r="2.8" fill="url(#gH)"/>
<circle cx="130.7" cy="103.7" r="2.8" fill="url(#gH)"/>
<circle cx="133.2" cy="124.5" r="2.8" fill="url(#gH)"/>
<circle cx="263.2" cy="72.0" r="2.8" fill="url(#gH)"/>
<circle cx="240.0" cy="139.3" r="2.8" fill="url(#gH)"/>
<circle cx="96.3" cy="150.1" r="2.8" fill="url(#gH)"/>
<circle cx="246.4" cy="128.7" r="2.8" fill="url(#gH)"/>
<circle cx="70.7" cy="105.8" r="2.8" fill="url(#gH)"/>
<circle cx="219.3" cy="114.7" r="2.8" fill="url(#gH)"/>
<circle cx="59.7" cy="132.2" r="2.8" fill="url(#gH)"/>
<circle cx="140.0" cy="86.8" r="2.8" fill="url(#gH)"/>
<circle cx="125.7" cy="77.1" r="2.8" fill="url(#gH)"/>
<circle cx="128.8" cy="69.7" r="2.8" fill="url(#gH)"/>
<circle cx="274.3" cy="79.8" r="2.8" fill="url(#gH)"/>
<circle cx="123.7" cy="93.5" r="2.8" fill="url(#gH)"/>
<circle cx="151.3" cy="96.7" r="2.8" fill="url(#gH)"/>
<circle cx="249.0" cy="84.0" r="2.8" fill="url(#gH)"/>
<circle cx="274.0" cy="101.2" r="2.8" fill="url(#gH)"/>
<circle cx="270.8" cy="96.3" r="2.8" fill="url(#gH)"/>
<circle cx="64.7" cy="138.0" r="2.8" fill="url(#gH)"/>
<circle cx="82.5" cy="130.4" r="2.8" fill="url(#gH)"/>
<circle cx="247.4" cy="86.6" r="2.8" fill="url(#gH)"/>
<circle cx="118.8" cy="115.5" r="2.8" fill="url(#gH)"/>
<circle cx="244.8" cy="139.8" r="2.8" fill="url(#gH)"/>
<circle cx="157.4" cy="115.7" r="2.8" fill="url(#gH)"/>
<circle cx="229.8" cy="81.3" r="2.8" fill="url(#gH)"/>
<circle cx="259.1" cy="140.5" r="2.8" fill="url(#gH)"/>
<circle cx="99.7" cy="120.9" r="2.8" fill="url(#gH)"/>
<circle cx="213.6" cy="122.5" r="2.8" fill="url(#gH)"/>
<circle cx="62.8" cy="73.6" r="2.8" fill="url(#gH)"/>
<circle cx="97.2" cy="77.1" r="2.8" fill="url(#gH)"/>
<circle cx="157.0" cy="130.0" r="2.8" fill="url(#gH)"/>
<circle cx="177.9" cy="144.0" r="2.8" fill="url(#gH)"/>
<circle cx="158.3" cy="105.9" r="2.8" fill="url(#gH)"/>
<circle cx="75.4" cy="148.0" r="2.8" fill="url(#gH)"/>
<circle cx="199.9" cy="150.3" r="2.8" fill="url(#gH)"/>
<circle cx="259.8" cy="75.5" r="2.8" fill="url(#gH)"/>
<circle cx="184.1" cy="109.1" r="2.8" fill="url(#gH)"/>
<circle cx="218.6" cy="72.1" r="2.8" fill="url(#gH)"/>
<circle cx="196.9" cy="119.4" r="2.8" fill="url(#gH)"/>
<circle cx="131.6" cy="78.9" r="2.8" fill="url(#gH)"/>
<circle cx="203.0" cy="72.4" r="2.8" fill="url(#gH)"/>
<circle cx="123.4" cy="70.7" r="2.8" fill="url(#gH)"/>
<circle cx="116.5" cy="89.2" r="2.8" fill="url(#gH)"/>
<circle cx="187.7" cy="125.5" r="2.8" fill="url(#gH)"/>
<circle cx="208.0" cy="102.7" r="2.8" fill="url(#gH)"/>
<circle cx="218.6" cy="123.5" r="2.8" fill="url(#gH)"/>
<circle cx="168.3" cy="133.5" r="2.8" fill="url(#gH)"/>
<circle cx="268.2" cy="108.5" r="2.8" fill="url(#gH)"/>
<circle cx="266.0" cy="120.5" r="2.8" fill="url(#gH)"/>
<circle cx="134.7" cy="108.2" r="2.8" fill="url(#gH)"/>
<circle cx="196.0" cy="94.7" r="2.8" fill="url(#gH)"/>
<circle cx="257.1" cy="100.6" r="2.8" fill="url(#gH)"/>
<circle cx="189.0" cy="140.2" r="2.8" fill="url(#gH)"/>
<circle cx="235.8" cy="124.6" r="2.8" fill="url(#gH)"/>
<circle cx="209.4" cy="131.6" r="2.8" fill="url(#gH)"/>
<circle cx="180.4" cy="104.5" r="2.8" fill="url(#gH)"/>
<circle cx="251.5" cy="81.8" r="2.8" fill="url(#gH)"/>
<circle cx="75.7" cy="94.5" r="2.8" fill="url(#gH)"/>
<circle cx="99.9" cy="149.7" r="2.8" fill="url(#gH)"/>
<circle cx="167.5" cy="142.3" r="2.8" fill="url(#gH)"/>
<circle cx="172.5" cy="86.5" r="2.8" fill="url(#gH)"/>
<circle cx="246.1" cy="142.0" r="2.8" fill="url(#gH)"/>
<circle cx="74.6" cy="132.4" r="2.8" fill="url(#gH)"/>
<circle cx="176.2" cy="83.4" r="2.8" fill="url(#gH)"/>
<circle cx="123.4" cy="129.7" r="2.8" fill="url(#gH)"/>
<circle cx="89.0" cy="119.1" r="2.8" fill="url(#gH)"/>
<circle cx="168.1" cy="112.7" r="2.8" fill="url(#gH)"/>
<circle cx="87.9" cy="137.3" r="2.8" fill="url(#gH)"/>
<circle cx="169.7" cy="126.0" r="2.8" fill="url(#gH)"/>
<circle cx="189.6" cy="95.1" r="2.8" fill="url(#gH)"/>
<circle cx="214.6" cy="101.6" r="2.8" fill="url(#gH)"/>
<circle cx="257.0" cy="106.6" r="2.8" fill="url(#gH)"/>
<circle cx="90.7" cy="107.2" r="2.8" fill="url(#gH)"/>
<circle cx="136.3" cy="147.8" r="2.8" fill="url(#gH)"/>
<circle cx="116.6" cy="142.7" r="2.8" fill="url(#gH)"/>
<circle cx="52.2" cy="79.6" r="2.8" fill="url(#gH)"/>
<circle cx="113.6" cy="130.3" r="2.8" fill="url(#gH)"/>
<circle cx="183.8" cy="103.2" r="2.8" fill="url(#gH)"/>
<circle cx="140.8" cy="138.7" r="2.8" fill="url(#gH)"/>
<circle cx="95.9" cy="134.2" r="2.8" fill="url(#gH)"/>
<circle cx="131.5" cy="126.2" r="2.8" fill="url(#gH)"/>
<circle cx="232.8" cy="104.3" r="2.8" fill="url(#gH)"/>
<circle cx="90.8" cy="88.5" r="2.8" fill="url(#gH)"/>
<circle cx="102.7" cy="76.4" r="2.8" fill="url(#gH)"/>
<circle cx="143.9" cy="122.2" r="2.8" fill="url(#gH)"/>
<circle cx="134.7" cy="148.3" r="2.8" fill="url(#gH)"/>
<circle cx="260.9" cy="133.3" r="2.8" fill="url(#gH)"/>
<g><circle cx="66.8" cy="67.7" r="2.8" fill="url(#gH)"/><circle cx="74.3" cy="69.8" r="2.8" fill="url(#gH)"/><circle cx="69.8" cy="71.4" r="5.0" fill="url(#gO)"/></g>
<g><circle cx="53.1" cy="90.9" r="2.8" fill="url(#gH)"/><circle cx="60.9" cy="91.3" r="2.8" fill="url(#gH)"/><circle cx="56.9" cy="93.9" r="5.0" fill="url(#gO)"/></g>
<g><circle cx="69.0" cy="95.1" r="2.8" fill="url(#gH)"/><circle cx="68.0" cy="102.8" r="2.8" fill="url(#gH)"/><circle cx="65.7" cy="98.6" r="5.0" fill="url(#gO)"/></g>
<g><circle cx="75.9" cy="96.6" r="5.0" fill="url(#gO)"/><circle cx="78.3" cy="100.7" r="2.8" fill="url(#gH)"/><circle cx="71.2" cy="97.5" r="2.8" fill="url(#gH)"/></g>
<g><circle cx="88.3" cy="93.3" r="2.8" fill="url(#gH)"/><circle cx="86.8" cy="101.0" r="2.8" fill="url(#gH)"/><circle cx="84.8" cy="96.6" r="5.0" fill="url(#gO)"/></g>
<g><circle cx="99.5" cy="92.5" r="5.0" fill="url(#gO)"/><circle cx="95.0" cy="94.1" r="2.8" fill="url(#gH)"/><circle cx="99.4" cy="87.7" r="2.8" fill="url(#gH)"/></g>
<g opacity="0.8"><circle cx="46.7" cy="78.7" r="2.8" fill="url(#gH)"/><circle cx="49.7" cy="71.5" r="2.8" fill="url(#gH)"/><circle cx="50.8" cy="76.2" r="5.0" fill="url(#gO)"/></g>
<g><circle cx="56.6" cy="124.0" r="5.0" fill="url(#gO)"/><circle cx="61.0" cy="122.1" r="2.8" fill="url(#gH)"/><circle cx="57.0" cy="128.8" r="2.8" fill="url(#gH)"/></g>
<g><circle cx="67.3" cy="122.5" r="5.0" fill="url(#gO)"/><circle cx="64.6" cy="118.5" r="2.8" fill="url(#gH)"/><circle cx="71.9" cy="121.2" r="2.8" fill="url(#gH)"/></g>
<g opacity="0.85"><circle cx="70.2" cy="120.3" r="2.8" fill="url(#gH)"/><circle cx="75.5" cy="114.6" r="2.8" fill="url(#gH)"/><circle cx="74.9" cy="119.4" r="5.0" fill="url(#gO)"/></g>
<g><circle cx="92.1" cy="130.9" r="2.8" fill="url(#gH)"/><circle cx="88.5" cy="137.8" r="2.8" fill="url(#gH)"/><circle cx="87.8" cy="133.1" r="5.0" fill="url(#gO)"/></g>
<g><circle cx="72.6" cy="144.5" r="5.0" fill="url(#gO)"/><circle cx="76.1" cy="147.8" r="2.8" fill="url(#gH)"/><circle cx="68.4" cy="146.8" r="2.8" fill="url(#gH)"/></g>
<g><circle cx="101.5" cy="128.6" r="5.0" fill="url(#gO)"/><circle cx="106.3" cy="128.5" r="2.8" fill="url(#gH)"/><circle cx="100.0" cy="133.2" r="2.8" fill="url(#gH)"/></g>
<g><circle cx="117.7" cy="74.8" r="5.0" fill="url(#gO)"/><circle cx="120.2" cy="78.9" r="2.8" fill="url(#gH)"/><circle cx="113.0" cy="75.8" r="2.8" fill="url(#gH)"/></g>
<g><circle cx="140.1" cy="72.8" r="5.0" fill="url(#gO)"/><circle cx="136.6" cy="76.1" r="2.8" fill="url(#gH)"/><circle cx="138.1" cy="68.4" r="2.8" fill="url(#gH)"/></g>
<g><circle cx="138.1" cy="80.9" r="5.0" fill="url(#gO)"/><circle cx="141.9" cy="83.9" r="2.8" fill="url(#gH)"/><circle cx="134.1" cy="83.5" r="2.8" fill="url(#gH)"/></g>
<g><circle cx="123.4" cy="89.1" r="2.8" fill="url(#gH)"/><circle cx="128.5" cy="95.0" r="2.8" fill="url(#gH)"/><circle cx="123.8" cy="93.9" r="5.0" fill="url(#gO)"/></g>
<g><circle cx="127.2" cy="100.0" r="5.0" fill="url(#gO)"/><circle cx="128.2" cy="95.3" r="2.8" fill="url(#gH)"/><circle cx="131.3" cy="102.4" r="2.8" fill="url(#gH)"/></g>
<g><circle cx="149.6" cy="90.0" r="2.8" fill="url(#gH)"/><circle cx="149.8" cy="97.8" r="2.8" fill="url(#gH)"/><circle cx="146.9" cy="93.9" r="5.0" fill="url(#gO)"/></g>
<g><circle cx="112.2" cy="101.3" r="5.0" fill="url(#gO)"/><circle cx="109.7" cy="105.4" r="2.8" fill="url(#gH)"/><circle cx="109.2" cy="97.6" r="2.8" fill="url(#gH)"/></g>
<g><circle cx="119.8" cy="133.1" r="5.0" fill="url(#gO)"/><circle cx="115.3" cy="134.8" r="2.8" fill="url(#gH)"/><circle cx="119.7" cy="128.3" r="2.8" fill="url(#gH)"/></g>
<g><circle cx="130.8" cy="123.1" r="2.8" fill="url(#gH)"/><circle cx="136.7" cy="128.3" r="2.8" fill="url(#gH)"/><circle cx="131.9" cy="127.8" r="5.0" fill="url(#gO)"/></g>
<g><circle cx="135.9" cy="127.4" r="2.8" fill="url(#gH)"/><circle cx="143.6" cy="125.8" r="2.8" fill="url(#gH)"/><circle cx="140.3" cy="129.3" r="5.0" fill="url(#gO)"/></g>
<g><circle cx="135.7" cy="113.4" r="5.0" fill="url(#gO)"/><circle cx="136.0" cy="108.6" r="2.8" fill="url(#gH)"/><circle cx="140.1" cy="115.3" r="2.8" fill="url(#gH)"/></g>
<g><circle cx="148.9" cy="147.6" r="2.8" fill="url(#gH)"/><circle cx="146.2" cy="140.3" r="2.8" fill="url(#gH)"/><circle cx="150.2" cy="143.0" r="5.0" fill="url(#gO)"/></g>
<g><circle cx="111.4" cy="147.6" r="5.0" fill="url(#gO)"/><circle cx="111.4" cy="142.8" r="2.8" fill="url(#gH)"/><circle cx="115.9" cy="149.1" r="2.8" fill="url(#gH)"/></g>
<g opacity="0.8"><circle cx="109.1" cy="133.1" r="5.0" fill="url(#gO)"/><circle cx="105.6" cy="129.8" r="2.8" fill="url(#gH)"/><circle cx="113.4" cy="130.9" r="2.8" fill="url(#gH)"/></g>
<g><circle cx="170.4" cy="69.5" r="2.8" fill="url(#gH)"/><circle cx="172.9" cy="76.9" r="2.8" fill="url(#gH)"/><circle cx="169.0" cy="74.1" r="5.0" fill="url(#gO)"/></g>
<g><circle cx="182.4" cy="77.4" r="2.8" fill="url(#gH)"/><circle cx="176.4" cy="72.5" r="2.8" fill="url(#gH)"/><circle cx="181.2" cy="72.8" r="5.0" fill="url(#gO)"/></g>
<g><circle cx="204.6" cy="81.5" r="2.8" fill="url(#gH)"/><circle cx="201.6" cy="74.2" r="2.8" fill="url(#gH)"/><circle cx="205.7" cy="76.8" r="5.0" fill="url(#gO)"/></g>
<g><circle cx="196.9" cy="81.6" r="5.0" fill="url(#gO)"/><circle cx="192.6" cy="79.4" r="2.8" fill="url(#gH)"/><circle cx="200.3" cy="78.2" r="2.8" fill="url(#gH)"/></g>
<g><circle cx="200.9" cy="88.4" r="5.0" fill="url(#gO)"/><circle cx="201.9" cy="83.7" r="2.8" fill="url(#gH)"/><circle cx="205.0" cy="90.9" r="2.8" fill="url(#gH)"/></g>
<g><circle cx="168.8" cy="92.6" r="2.8" fill="url(#gH)"/><circle cx="161.0" cy="92.6" r="2.8" fill="url(#gH)"/><circle cx="164.9" cy="89.8" r="5.0" fill="url(#gO)"/></g>
<g><circle cx="176.4" cy="101.3" r="5.0" fill="url(#gO)"/><circle cx="173.6" cy="105.2" r="2.8" fill="url(#gH)"/><circle cx="173.6" cy="97.4" r="2.8" fill="url(#gH)"/></g>
<g><circle cx="183.3" cy="100.0" r="5.0" fill="url(#gO)"/><circle cx="184.5" cy="95.3" r="2.8" fill="url(#gH)"/><circle cx="187.3" cy="102.6" r="2.8" fill="url(#gH)"/></g>
<g><circle cx="203.1" cy="100.9" r="2.8" fill="url(#gH)"/><circle cx="196.1" cy="97.3" r="2.8" fill="url(#gH)"/><circle cx="200.9" cy="96.6" r="5.0" fill="url(#gO)"/></g>
<g><circle cx="193.2" cy="106.2" r="2.8" fill="url(#gH)"/><circle cx="196.8" cy="99.2" r="2.8" fill="url(#gH)"/><circle cx="197.5" cy="104.0" r="5.0" fill="url(#gO)"/></g>
<g opacity="0.85"><circle cx="169.0" cy="98.6" r="5.0" fill="url(#gO)"/><circle cx="167.3" cy="103.1" r="2.8" fill="url(#gH)"/><circle cx="165.3" cy="95.6" r="2.8" fill="url(#gH)"/></g>
<g><circle cx="193.8" cy="107.8" r="5.0" fill="url(#gO)"/><circle cx="194.3" cy="103.0" r="2.8" fill="url(#gH)"/><circle cx="198.2" cy="109.8" r="2.8" fill="url(#gH)"/></g>
<g><circle cx="171.5" cy="127.8" r="2.8" fill="url(#gH)"/><circle cx="173.7" cy="120.3" r="2.8" fill="url(#gH)"/><circle cx="175.3" cy="124.8" r="5.0" fill="url(#gO)"/></g>
<g><circle cx="180.0" cy="121.2" r="2.8" fill="url(#gH)"/><circle cx="184.1" cy="114.6" r="2.8" fill="url(#gH)"/><circle cx="184.4" cy="119.4" r="5.0" fill="url(#gO)"/></g>
<g><circle cx="178.3" cy="130.1" r="5.0" fill="url(#gO)"/><circle cx="173.5" cy="130.2" r="2.8" fill="url(#gH)"/><circle cx="179.8" cy="125.5" r="2.8" fill="url(#gH)"/></g>
<g><circle cx="184.4" cy="134.0" r="2.8" fill="url(#gH)"/><circle cx="192.2" cy="134.2" r="2.8" fill="url(#gH)"/><circle cx="188.2" cy="136.9" r="5.0" fill="url(#gO)"/></g>
<g><circle cx="186.7" cy="129.3" r="5.0" fill="url(#gO)"/><circle cx="191.5" cy="129.9" r="2.8" fill="url(#gH)"/><circle cx="184.6" cy="133.6" r="2.8" fill="url(#gH)"/></g>
<g><circle cx="172.2" cy="148.3" r="5.0" fill="url(#gO)"/><circle cx="174.3" cy="144.0" r="2.8" fill="url(#gH)"/><circle cx="175.6" cy="151.7" r="2.8" fill="url(#gH)"/></g>
<g><circle cx="207.6" cy="123.4" r="2.8" fill="url(#gH)"/><circle cx="214.3" cy="127.5" r="2.8" fill="url(#gH)"/><circle cx="209.5" cy="127.8" r="5.0" fill="url(#gO)"/></g>
<g opacity="0.8"><circle cx="155.5" cy="142.2" r="5.0" fill="url(#gO)"/><circle cx="159.5" cy="144.8" r="2.8" fill="url(#gH)"/><circle cx="151.7" cy="145.2" r="2.8" fill="url(#gH)"/></g>
<g><circle cx="212.7" cy="66.0" r="2.8" fill="url(#gH)"/><circle cx="218.1" cy="71.6" r="2.8" fill="url(#gH)"/><circle cx="213.4" cy="70.7" r="5.0" fill="url(#gO)"/></g>
<g><circle cx="227.7" cy="73.4" r="5.0" fill="url(#gO)"/><circle cx="225.3" cy="69.3" r="2.8" fill="url(#gH)"/><circle cx="232.4" cy="72.4" r="2.8" fill="url(#gH)"/></g>
<g><circle cx="244.0" cy="72.8" r="5.0" fill="url(#gO)"/><circle cx="240.7" cy="69.3" r="2.8" fill="url(#gH)"/><circle cx="248.4" cy="70.8" r="2.8" fill="url(#gH)"/></g>
<g><circle cx="251.5" cy="76.8" r="5.0" fill="url(#gO)"/><circle cx="246.8" cy="75.8" r="2.8" fill="url(#gH)"/><circle cx="253.9" cy="72.7" r="2.8" fill="url(#gH)"/></g>
<g><circle cx="267.8" cy="74.8" r="5.0" fill="url(#gO)"/><circle cx="266.9" cy="79.5" r="2.8" fill="url(#gH)"/><circle cx="263.6" cy="72.4" r="2.8" fill="url(#gH)"/></g>
<g><circle cx="215.1" cy="81.2" r="2.8" fill="url(#gH)"/><circle cx="217.1" cy="88.8" r="2.8" fill="url(#gH)"/><circle cx="213.4" cy="85.7" r="5.0" fill="url(#gO)"/></g>
<g><circle cx="219.4" cy="83.8" r="2.8" fill="url(#gH)"/><circle cx="211.6" cy="83.6" r="2.8" fill="url(#gH)"/><circle cx="215.5" cy="80.9" r="5.0" fill="url(#gO)"/></g>
<g><circle cx="241.8" cy="89.2" r="2.8" fill="url(#gH)"/><circle cx="245.3" cy="82.3" r="2.8" fill="url(#gH)"/><circle cx="246.0" cy="87.0" r="5.0" fill="url(#gO)"/></g>
<g><circle cx="242.2" cy="100.9" r="2.8" fill="url(#gH)"/><circle cx="245.0" cy="108.2" r="2.8" fill="url(#gH)"/><circle cx="241.0" cy="105.5" r="5.0" fill="url(#gO)"/></g>
<g><circle cx="258.5" cy="111.3" r="2.8" fill="url(#gH)"/><circle cx="251.2" cy="108.6" r="2.8" fill="url(#gH)"/><circle cx="255.8" cy="107.3" r="5.0" fill="url(#gO)"/></g>
<g><circle cx="269.0" cy="107.0" r="5.0" fill="url(#gO)"/><circle cx="273.7" cy="107.8" r="2.8" fill="url(#gH)"/><circle cx="266.7" cy="111.2" r="2.8" fill="url(#gH)"/></g>
<g><circle cx="212.6" cy="124.0" r="5.0" fill="url(#gO)"/><circle cx="216.5" cy="121.2" r="2.8" fill="url(#gH)"/><circle cx="214.0" cy="128.6" r="2.8" fill="url(#gH)"/></g>
<g><circle cx="218.0" cy="123.3" r="2.8" fill="url(#gH)"/><circle cx="225.8" cy="123.7" r="2.8" fill="url(#gH)"/><circle cx="221.7" cy="126.3" r="5.0" fill="url(#gO)"/></g>
<g><circle cx="259.0" cy="124.1" r="2.8" fill="url(#gH)"/><circle cx="266.6" cy="126.1" r="2.8" fill="url(#gH)"/><circle cx="262.1" cy="127.8" r="5.0" fill="url(#gO)"/></g>
<g><circle cx="207.8" cy="149.0" r="2.8" fill="url(#gH)"/><circle cx="208.6" cy="141.2" r="2.8" fill="url(#gH)"/><circle cx="211.0" cy="145.4" r="5.0" fill="url(#gO)"/></g>
</g>
<defs><linearGradient id="wb" x1="0" y1="0" x2="0" y2="1"><stop offset="0" stop-color="#fff" stop-opacity="0.5"/><stop offset="0.25" stop-color="#fff" stop-opacity="0.95"/><stop offset="0.8" stop-color="#fff" stop-opacity="0.95"/><stop offset="1" stop-color="#fff" stop-opacity="0.7"/></linearGradient></defs>
<rect x="221.5" y="134.5" width="53" height="14.5" fill="url(#wb)"/>
<g clip-path="url(#mc)"><ellipse cx="251.5" cy="151.2" rx="6.5" ry="3.5" fill="#e81a00"/></g>
<line x1="224" y1="143.4" x2="259.2" y2="143.4" stroke="#111" stroke-width="1.1"/>
<path d="M256.2,140.8L259.6,143.4L256.2,146.0" fill="none" stroke="#111" stroke-width="1.1"/>
<text x="262.6" y="146.6" font-size="12.5" font-style="italic" fill="#111" stroke="#111" stroke-width="0.25">z</text>
<rect x="46.3" y="68.4" width="228.4" height="83.5" fill="none" stroke="#0a0a0a" stroke-width="1.45" stroke-dasharray="3.3,1.6"/>
<path d="M44.4,194.9L45.1,194.9L45.8,194.7L46.5,194.5L47.2,194.1L47.9,193.7L48.6,193.3L49.3,192.8L50.0,192.3L50.7,191.8L51.4,191.4L52.1,190.9L52.8,190.6L53.5,190.2L54.2,190.0L54.9,189.8L55.6,189.7L56.3,189.8L57.0,189.9L57.7,190.2L58.4,190.6L59.1,191.1L59.8,191.8L60.5,192.7L61.2,193.7L61.9,195.0L62.6,196.3L63.3,197.8L64.0,199.4L64.7,201.1L65.4,202.8L66.1,204.7L66.8,206.6L67.5,208.5L68.1,210.5L68.8,212.5L69.5,214.4L70.2,216.4L70.9,218.3L71.6,220.2L72.3,222.0L73.0,223.7L73.7,225.3L74.4,226.8L75.1,228.2L75.8,229.5L76.5,230.6L77.2,231.6L77.9,232.4L78.6,233.1L79.3,233.6L80.0,234.0L80.7,234.3L81.4,234.5L82.1,234.6L82.8,234.6L83.5,234.6L84.2,234.5L84.9,234.4L85.6,234.1L86.3,233.7L87.0,233.2L87.7,232.6L88.4,231.8L89.1,230.8L89.8,229.7L90.5,228.5L91.2,227.1L91.9,225.6L92.6,224.0L93.3,222.3L94.0,220.5L94.7,218.6L95.4,216.7L96.1,214.8L96.8,212.8L97.5,210.9L98.2,208.9L98.9,206.9L99.6,205.0L100.3,203.2L101.0,201.4L101.7,199.7L102.4,198.1L103.1,196.6L103.8,195.2L104.5,194.0L105.2,192.9L105.9,192.0L106.6,191.2L107.3,190.6L108.0,190.2L108.7,189.9L109.4,189.8L110.1,189.7L110.8,189.8L111.5,190.0L112.2,190.2L112.9,190.5L113.6,190.9L114.2,191.3L114.9,191.7L115.6,192.2L116.3,192.7L117.0,193.2L117.7,193.6L118.4,194.1L119.1,194.4L119.8,194.7L120.5,194.9L121.2,194.9L121.9,194.8L122.6,194.6L123.3,194.3L124.0,194.0L124.7,193.5L125.4,193.1L126.1,192.6L126.8,192.1L127.5,191.6L128.2,191.2L128.9,190.8L129.6,190.4L130.3,190.1L131.0,189.9L131.7,189.8L132.4,189.7L133.1,189.8L133.8,190.0L134.5,190.3L135.2,190.8L135.9,191.4L136.6,192.1L137.3,193.1L138.0,194.2L138.7,195.5L139.4,196.9L140.1,198.4L140.8,200.0L141.5,201.8L142.2,203.6L142.9,205.4L143.6,207.4L144.3,209.3L145.0,211.3L145.7,213.3L146.4,215.2L147.1,217.1L147.8,219.0L148.5,220.9L149.2,222.6L149.9,224.3L150.6,225.9L151.3,227.4L152.0,228.7L152.7,230.0L153.4,231.0L154.1,232.0L154.8,232.7L155.5,233.3L156.2,233.8L156.9,234.2L157.6,234.4L158.3,234.5L159.0,234.6L159.7,234.6L160.3,234.6L161.0,234.5L161.7,234.3L162.4,234.0L163.1,233.5L163.8,233.0L164.5,232.3L165.2,231.4L165.9,230.4L166.6,229.2L167.3,227.9L168.0,226.5L168.7,225.0L169.4,223.3L170.1,221.6L170.8,219.8L171.5,217.9L172.2,216.0L172.9,214.0L173.6,212.1L174.3,210.1L175.0,208.1L175.7,206.2L176.4,204.3L177.1,202.5L177.8,200.7L178.5,199.0L179.2,197.5L179.9,196.0L180.6,194.7L181.3,193.5L182.0,192.5L182.7,191.7L183.4,191.0L184.1,190.5L184.8,190.1L185.5,189.9L186.2,189.7L186.9,189.7L187.6,189.8L188.3,190.0L189.0,190.3L189.7,190.6L190.4,191.0L191.1,191.5L191.8,191.9L192.5,192.4L193.2,192.9L193.9,193.4L194.6,193.8L195.3,194.2L196.0,194.5L196.7,194.8L197.4,194.9L198.1,194.9L198.8,194.8L199.5,194.5L200.2,194.2L200.9,193.8L201.6,193.4L202.3,192.9L203.0,192.4L203.7,191.9L204.4,191.5L205.1,191.0L205.8,190.6L206.4,190.3L207.1,190.0L207.8,189.8L208.5,189.7L209.2,189.7L209.9,189.9L210.6,190.1L211.3,190.5L212.0,191.0L212.7,191.7L213.4,192.5L214.1,193.5L214.8,194.7L215.5,196.0L216.2,197.5L216.9,199.0L217.6,200.7L218.3,202.5L219.0,204.3L219.7,206.2L220.4,208.1L221.1,210.1L221.8,212.0L222.5,214.0L223.2,216.0L223.9,217.9L224.6,219.8L225.3,221.6L226.0,223.3L226.7,225.0L227.4,226.5L228.1,227.9L228.8,229.2L229.5,230.4L230.2,231.4L230.9,232.3L231.6,233.0L232.3,233.5L233.0,234.0L233.7,234.3L234.4,234.5L235.1,234.6L235.8,234.6L236.5,234.6L237.2,234.5L237.9,234.4L238.6,234.2L239.3,233.8L240.0,233.3L240.7,232.7L241.4,232.0L242.1,231.0L242.8,230.0L243.5,228.7L244.2,227.4L244.9,225.9L245.6,224.3L246.3,222.7L247.0,220.9L247.7,219.1L248.4,217.2L249.1,215.2L249.8,213.3L250.5,211.3L251.2,209.3L251.9,207.4L252.5,205.4L253.2,203.6L253.9,201.8L254.6,200.0L255.3,198.4L256.0,196.9L256.7,195.5L257.4,194.2L258.1,193.1L258.8,192.1L259.5,191.4L260.2,190.8L260.9,190.3L261.6,190.0L262.3,189.8L263.0,189.7L263.7,189.8L264.4,189.9L265.1,190.1L265.8,190.4L266.5,190.8L267.2,191.2L267.9,191.6L268.6,192.1L269.3,192.6L270.0,193.1L270.7,193.5L271.4,194.0L272.1,194.3L272.8,194.6L273.5,194.8L274.2,194.9L274.9,194.9L274.90,245.40L44.40,245.40Z" fill="#cddcee" stroke="none"/>
<line x1="82.50" y1="167.40" x2="82.50" y2="245.40" stroke="#b4b4b4" stroke-width="0.9" stroke-dasharray="2.8,1.2"/>
<line x1="159.50" y1="167.40" x2="159.50" y2="245.40" stroke="#b4b4b4" stroke-width="0.9" stroke-dasharray="2.8,1.2"/>
<line x1="235.50" y1="167.40" x2="235.50" y2="245.40" stroke="#b4b4b4" stroke-width="0.9" stroke-dasharray="2.8,1.2"/>
<path d="M44.4,194.9L45.1,194.9L45.8,194.7L46.5,194.5L47.2,194.1L47.9,193.7L48.6,193.3L49.3,192.8L50.0,192.3L50.7,191.8L51.4,191.4L52.1,190.9L52.8,190.6L53.5,190.2L54.2,190.0L54.9,189.8L55.6,189.7L56.3,189.8L57.0,189.9L57.7,190.2L58.4,190.6L59.1,191.1L59.8,191.8L60.5,192.7L61.2,193.7L61.9,195.0L62.6,196.3L63.3,197.8L64.0,199.4L64.7,201.1L65.4,202.8L66.1,204.7L66.8,206.6L67.5,208.5L68.1,210.5L68.8,212.5L69.5,214.4L70.2,216.4L70.9,218.3L71.6,220.2L72.3,222.0L73.0,223.7L73.7,225.3L74.4,226.8L75.1,228.2L75.8,229.5L76.5,230.6L77.2,231.6L77.9,232.4L78.6,233.1L79.3,233.6L80.0,234.0L80.7,234.3L81.4,234.5L82.1,234.6L82.8,234.6L83.5,234.6L84.2,234.5L84.9,234.4L85.6,234.1L86.3,233.7L87.0,233.2L87.7,232.6L88.4,231.8L89.1,230.8L89.8,229.7L90.5,228.5L91.2,227.1L91.9,225.6L92.6,224.0L93.3,222.3L94.0,220.5L94.7,218.6L95.4,216.7L96.1,214.8L96.8,212.8L97.5,210.9L98.2,208.9L98.9,206.9L99.6,205.0L100.3,203.2L101.0,201.4L101.7,199.7L102.4,198.1L103.1,196.6L103.8,195.2L104.5,194.0L105.2,192.9L105.9,192.0L106.6,191.2L107.3,190.6L108.0,190.2L108.7,189.9L109.4,189.8L110.1,189.7L110.8,189.8L111.5,190.0L112.2,190.2L112.9,190.5L113.6,190.9L114.2,191.3L114.9,191.7L115.6,192.2L116.3,192.7L117.0,193.2L117.7,193.6L118.4,194.1L119.1,194.4L119.8,194.7L120.5,194.9L121.2,194.9L121.9,194.8L122.6,194.6L123.3,194.3L124.0,194.0L124.7,193.5L125.4,193.1L126.1,192.6L126.8,192.1L127.5,191.6L128.2,191.2L128.9,190.8L129.6,190.4L130.3,190.1L131.0,189.9L131.7,189.8L132.4,189.7L133.1,189.8L133.8,190.0L134.5,190.3L135.2,190.8L135.9,191.4L136.6,192.1L137.3,193.1L138.0,194.2L138.7,195.5L139.4,196.9L140.1,198.4L140.8,200.0L141.5,201.8L142.2,203.6L142.9,205.4L143.6,207.4L144.3,209.3L145.0,211.3L145.7,213.3L146.4,215.2L147.1,217.1L147.8,219.0L148.5,220.9L149.2,222.6L149.9,224.3L150.6,225.9L151.3,227.4L152.0,228.7L152.7,230.0L153.4,231.0L154.1,232.0L154.8,232.7L155.5,233.3L156.2,233.8L156.9,234.2L157.6,234.4L158.3,234.5L159.0,234.6L159.7,234.6L160.3,234.6L161.0,234.5L161.7,234.3L162.4,234.0L163.1,233.5L163.8,233.0L164.5,232.3L165.2,231.4L165.9,230.4L166.6,229.2L167.3,227.9L168.0,226.5L168.7,225.0L169.4,223.3L170.1,221.6L170.8,219.8L171.5,217.9L172.2,216.0L172.9,214.0L173.6,212.1L174.3,210.1L175.0,208.1L175.7,206.2L176.4,204.3L177.1,202.5L177.8,200.7L178.5,199.0L179.2,197.5L179.9,196.0L180.6,194.7L181.3,193.5L182.0,192.5L182.7,191.7L183.4,191.0L184.1,190.5L184.8,190.1L185.5,189.9L186.2,189.7L186.9,189.7L187.6,189.8L188.3,190.0L189.0,190.3L189.7,190.6L190.4,191.0L191.1,191.5L191.8,191.9L192.5,192.4L193.2,192.9L193.9,193.4L194.6,193.8L195.3,194.2L196.0,194.5L196.7,194.8L197.4,194.9L198.1,194.9L198.8,194.8L199.5,194.5L200.2,194.2L200.9,193.8L201.6,193.4L202.3,192.9L203.0,192.4L203.7,191.9L204.4,191.5L205.1,191.0L205.8,190.6L206.4,190.3L207.1,190.0L207.8,189.8L208.5,189.7L209.2,189.7L209.9,189.9L210.6,190.1L211.3,190.5L212.0,191.0L212.7,191.7L213.4,192.5L214.1,193.5L214.8,194.7L215.5,196.0L216.2,197.5L216.9,199.0L217.6,200.7L218.3,202.5L219.0,204.3L219.7,206.2L220.4,208.1L221.1,210.1L221.8,212.0L222.5,214.0L223.2,216.0L223.9,217.9L224.6,219.8L225.3,221.6L226.0,223.3L226.7,225.0L227.4,226.5L228.1,227.9L228.8,229.2L229.5,230.4L230.2,231.4L230.9,232.3L231.6,233.0L232.3,233.5L233.0,234.0L233.7,234.3L234.4,234.5L235.1,234.6L235.8,234.6L236.5,234.6L237.2,234.5L237.9,234.4L238.6,234.2L239.3,233.8L240.0,233.3L240.7,232.7L241.4,232.0L242.1,231.0L242.8,230.0L243.5,228.7L244.2,227.4L244.9,225.9L245.6,224.3L246.3,222.7L247.0,220.9L247.7,219.1L248.4,217.2L249.1,215.2L249.8,213.3L250.5,211.3L251.2,209.3L251.9,207.4L252.5,205.4L253.2,203.6L253.9,201.8L254.6,200.0L255.3,198.4L256.0,196.9L256.7,195.5L257.4,194.2L258.1,193.1L258.8,192.1L259.5,191.4L260.2,190.8L260.9,190.3L261.6,190.0L262.3,189.8L263.0,189.7L263.7,189.8L264.4,189.9L265.1,190.1L265.8,190.4L266.5,190.8L267.2,191.2L267.9,191.6L268.6,192.1L269.3,192.6L270.0,193.1L270.7,193.5L271.4,194.0L272.1,194.3L272.8,194.6L273.5,194.8L274.2,194.9L274.9,194.9" fill="none" stroke="#184c8c" stroke-width="1.8"/>
<rect x="44.40" y="167.40" width="230.50" height="78.00" fill="none" stroke="#1a1a1a" stroke-width="1.25"/>
<line x1="44.40" y1="169.50" x2="49.40" y2="169.50" stroke="#1a1a1a" stroke-width="1.0"/>
<line x1="44.40" y1="207.70" x2="49.40" y2="207.70" stroke="#1a1a1a" stroke-width="1.0"/>
<line x1="114.20" y1="245.40" x2="114.20" y2="240.40" stroke="#1a1a1a" stroke-width="1.0"/>
<line x1="183.80" y1="245.40" x2="183.80" y2="240.40" stroke="#1a1a1a" stroke-width="1.0"/>
<line x1="253.40" y1="245.40" x2="253.40" y2="240.40" stroke="#1a1a1a" stroke-width="1.0"/>
<text x="22.16" y="174.00" font-size="12.6" font-weight="normal" font-style="normal" fill="#111" stroke="#111" stroke-width="0.28" textLength="18.64" lengthAdjust="spacingAndGlyphs">0.4</text>
<text x="21.66" y="212.00" font-size="12.6" font-weight="normal" font-style="normal" fill="#111" stroke="#111" stroke-width="0.28" textLength="18.93" lengthAdjust="spacingAndGlyphs">0.2</text>
<text x="21.66" y="244.00" font-size="12.6" font-weight="normal" font-style="normal" fill="#111" stroke="#111" stroke-width="0.28" textLength="18.71" lengthAdjust="spacingAndGlyphs">0.0</text>
<rect x="59.8" y="161.6" width="197.9" height="14.9" rx="2.6" fill="#0f4a94" stroke="#111" stroke-width="1.1"/>
<text x="80.56" y="172.20" font-size="9.6" font-weight="bold" font-style="normal" fill="#fff" textLength="151.45" lengthAdjust="spacingAndGlyphs">dielectrophoretic rise (water)</text>
<line x1="82.50" y1="252.80" x2="82.50" y2="278.10" stroke="#b4b4b4" stroke-width="0.9" stroke-dasharray="2.8,1.2"/>
<line x1="159.50" y1="252.80" x2="159.50" y2="278.10" stroke="#b4b4b4" stroke-width="0.9" stroke-dasharray="2.8,1.2"/>
<line x1="235.50" y1="252.80" x2="235.50" y2="278.10" stroke="#b4b4b4" stroke-width="0.9" stroke-dasharray="2.8,1.2"/>
<path d="M44.4,276.5L45.1,276.5L45.8,276.5L46.5,276.5L47.2,276.6L47.9,276.6L48.6,276.6L49.3,276.6L50.0,276.6L50.7,276.5L51.4,276.4L52.1,276.3L52.8,276.2L53.5,276.0L54.2,275.8L54.9,275.6L55.6,275.3L56.3,274.9L57.0,274.5L57.7,273.9L58.4,273.3L59.1,272.4L59.8,271.4L60.5,270.1L61.2,268.6L61.9,267.0L62.6,265.4L63.3,263.7L64.0,262.2L64.7,260.7L65.4,259.4L66.1,258.3L66.8,257.4L67.5,256.6L68.1,256.0L68.8,255.6L69.5,255.4L70.2,255.3L70.9,255.3L71.6,255.3L72.3,255.4L73.0,255.6L73.7,255.8L74.4,256.0L75.1,256.3L75.8,256.5L76.5,256.8L77.2,257.0L77.9,257.3L78.6,257.5L79.3,257.7L80.0,257.8L80.7,258.0L81.4,258.1L82.1,258.1L82.8,258.2L83.5,258.1L84.2,258.1L84.9,258.0L85.6,257.9L86.3,257.7L87.0,257.5L87.7,257.3L88.4,257.1L89.1,256.8L89.8,256.6L90.5,256.3L91.2,256.1L91.9,255.8L92.6,255.6L93.3,255.5L94.0,255.3L94.7,255.3L95.4,255.3L96.1,255.4L96.8,255.6L97.5,256.0L98.2,256.5L98.9,257.2L99.6,258.1L100.3,259.2L101.0,260.5L101.7,261.9L102.4,263.4L103.1,265.1L103.8,266.7L104.5,268.3L105.2,269.8L105.9,271.1L106.6,272.2L107.3,273.1L108.0,273.8L108.7,274.4L109.4,274.8L110.1,275.2L110.8,275.5L111.5,275.8L112.2,276.0L112.9,276.2L113.6,276.3L114.2,276.4L114.9,276.5L115.6,276.5L116.3,276.6L117.0,276.6L117.7,276.6L118.4,276.6L119.1,276.6L119.8,276.5L120.5,276.5L121.2,276.5L121.9,276.5L122.6,276.5L123.3,276.6L124.0,276.6L124.7,276.6L125.4,276.6L126.1,276.6L126.8,276.5L127.5,276.5L128.2,276.4L128.9,276.3L129.6,276.1L130.3,276.0L131.0,275.7L131.7,275.5L132.4,275.1L133.1,274.8L133.8,274.3L134.5,273.7L135.2,273.0L135.9,272.0L136.6,270.9L137.3,269.5L138.0,268.0L138.7,266.4L139.4,264.7L140.1,263.1L140.8,261.6L141.5,260.2L142.2,259.0L142.9,257.9L143.6,257.0L144.3,256.4L145.0,255.9L145.7,255.5L146.4,255.3L147.1,255.3L147.8,255.3L148.5,255.4L149.2,255.5L149.9,255.7L150.6,255.9L151.3,256.1L152.0,256.4L152.7,256.6L153.4,256.9L154.1,257.1L154.8,257.3L155.5,257.5L156.2,257.7L156.9,257.9L157.6,258.0L158.3,258.1L159.0,258.1L159.7,258.2L160.3,258.1L161.0,258.0L161.7,257.9L162.4,257.8L163.1,257.6L163.8,257.4L164.5,257.2L165.2,257.0L165.9,256.7L166.6,256.5L167.3,256.2L168.0,256.0L168.7,255.8L169.4,255.6L170.1,255.4L170.8,255.3L171.5,255.3L172.2,255.3L172.9,255.4L173.6,255.7L174.3,256.1L175.0,256.7L175.7,257.5L176.4,258.5L177.1,259.7L177.8,261.0L178.5,262.5L179.2,264.1L179.9,265.7L180.6,267.4L181.3,268.9L182.0,270.4L182.7,271.6L183.4,272.6L184.1,273.4L184.8,274.1L185.5,274.6L186.2,275.0L186.9,275.3L187.6,275.6L188.3,275.9L189.0,276.1L189.7,276.2L190.4,276.4L191.1,276.5L191.8,276.5L192.5,276.6L193.2,276.6L193.9,276.6L194.6,276.6L195.3,276.6L196.0,276.5L196.7,276.5L197.4,276.5L198.1,276.5L198.8,276.5L199.5,276.5L200.2,276.6L200.9,276.6L201.6,276.6L202.3,276.6L203.0,276.6L203.7,276.5L204.4,276.5L205.1,276.4L205.8,276.2L206.4,276.1L207.1,275.9L207.8,275.6L208.5,275.3L209.2,275.0L209.9,274.6L210.6,274.1L211.3,273.4L212.0,272.6L212.7,271.6L213.4,270.4L214.1,268.9L214.8,267.4L215.5,265.7L216.2,264.1L216.9,262.5L217.6,261.0L218.3,259.7L219.0,258.5L219.7,257.6L220.4,256.8L221.1,256.1L221.8,255.7L222.5,255.4L223.2,255.3L223.9,255.3L224.6,255.3L225.3,255.4L226.0,255.6L226.7,255.8L227.4,256.0L228.1,256.2L228.8,256.5L229.5,256.7L230.2,257.0L230.9,257.2L231.6,257.4L232.3,257.6L233.0,257.8L233.7,257.9L234.4,258.0L235.1,258.1L235.8,258.2L236.5,258.1L237.2,258.1L237.9,258.0L238.6,257.9L239.3,257.7L240.0,257.5L240.7,257.3L241.4,257.1L242.1,256.9L242.8,256.6L243.5,256.4L244.2,256.1L244.9,255.9L245.6,255.7L246.3,255.5L247.0,255.4L247.7,255.3L248.4,255.3L249.1,255.3L249.8,255.5L250.5,255.9L251.2,256.4L251.9,257.0L252.5,257.9L253.2,259.0L253.9,260.2L254.6,261.6L255.3,263.1L256.0,264.7L256.7,266.4L257.4,268.0L258.1,269.5L258.8,270.9L259.5,272.0L260.2,272.9L260.9,273.7L261.6,274.3L262.3,274.8L263.0,275.1L263.7,275.5L264.4,275.7L265.1,276.0L265.8,276.1L266.5,276.3L267.2,276.4L267.9,276.5L268.6,276.5L269.3,276.6L270.0,276.6L270.7,276.6L271.4,276.6L272.1,276.6L272.8,276.5L273.5,276.5L274.2,276.5L274.9,276.5" fill="none" stroke="#184c8c" stroke-width="1.8"/>
<rect x="44.40" y="252.80" width="230.50" height="25.30" fill="none" stroke="#1a1a1a" stroke-width="1.25"/>
<line x1="44.40" y1="255.30" x2="49.40" y2="255.30" stroke="#1a1a1a" stroke-width="1.0"/>
<line x1="44.40" y1="265.50" x2="49.40" y2="265.50" stroke="#1a1a1a" stroke-width="1.0"/>
<line x1="44.40" y1="275.70" x2="49.40" y2="275.70" stroke="#1a1a1a" stroke-width="1.0"/>
<line x1="114.20" y1="278.10" x2="114.20" y2="273.10" stroke="#1a1a1a" stroke-width="1.0"/>
<line x1="183.80" y1="278.10" x2="183.80" y2="273.10" stroke="#1a1a1a" stroke-width="1.0"/>
<line x1="253.40" y1="278.10" x2="253.40" y2="273.10" stroke="#1a1a1a" stroke-width="1.0"/>
<text x="35.68" y="258.10" font-size="12.6" font-weight="normal" font-style="normal" fill="#111" stroke="#111" stroke-width="0.28" textLength="4.60" lengthAdjust="spacingAndGlyphs">1</text>
<text x="33.83" y="269.60" font-size="12.6" font-weight="normal" font-style="normal" fill="#111" stroke="#111" stroke-width="0.28" textLength="6.49" lengthAdjust="spacingAndGlyphs">0</text>
<text x="23.34" y="281.40" font-size="12.6" font-weight="normal" font-style="normal" fill="#111" stroke="#111" stroke-width="0.28" textLength="17.24" lengthAdjust="spacingAndGlyphs">−1</text>
<text x="41.33" y="291.10" font-size="12.6" font-weight="normal" font-style="normal" fill="#111" stroke="#111" stroke-width="0.28" textLength="6.49" lengthAdjust="spacingAndGlyphs">0</text>
<text x="110.78" y="291.10" font-size="12.6" font-weight="normal" font-style="normal" fill="#111" stroke="#111" stroke-width="0.28" textLength="6.85" lengthAdjust="spacingAndGlyphs">2</text>
<text x="180.78" y="291.10" font-size="12.6" font-weight="normal" font-style="normal" fill="#111" stroke="#111" stroke-width="0.28" textLength="6.17" lengthAdjust="spacingAndGlyphs">4</text>
<text x="250.00" y="291.10" font-size="12.6" font-weight="normal" font-style="normal" fill="#111" stroke="#111" stroke-width="0.28" textLength="6.70" lengthAdjust="spacingAndGlyphs">6</text>
<text x="149.47" y="307.40" font-size="12.8" font-weight="normal" font-style="italic" fill="#111" stroke="#111" stroke-width="0.28" textLength="19.06" lengthAdjust="spacingAndGlyphs">z/σ</text>
<text x="0.80" y="169.60" font-size="14" text-anchor="start" font-weight="bold" font-style="normal" fill="#000" stroke="#000" stroke-width="0.35">b</text>
<text transform="rotate(-90)" x="-214.46" y="14.36" font-size="12.7" font-weight="normal" font-style="italic" fill="#111" stroke="#111" stroke-width="0.28" textLength="7.70" lengthAdjust="spacingAndGlyphs">ρ</text>
<text transform="rotate(-90)" x="-203.72" y="10.30" font-size="10" font-weight="normal" font-style="normal" fill="#111" stroke="#111" stroke-width="0.28" textLength="3.13" lengthAdjust="spacingAndGlyphs">*</text>
<text transform="rotate(-90)" x="-290.41" y="15.52" font-size="13" font-weight="normal" font-style="italic" fill="#111" stroke="#111" stroke-width="0.28" textLength="7.64" lengthAdjust="spacingAndGlyphs">n</text>
<text transform="rotate(-90)" x="-266.66" y="15.52" font-size="13" font-weight="normal" font-style="italic" fill="#111" stroke="#111" stroke-width="0.28" textLength="5.84" lengthAdjust="spacingAndGlyphs">n</text>
<text transform="rotate(-90)" x="-280.05" y="10.30" font-size="10" font-weight="normal" font-style="normal" fill="#111" stroke="#111" stroke-width="0.28" textLength="4.00" lengthAdjust="spacingAndGlyphs">*</text>
<text transform="rotate(-90)" x="-273.20" y="15.32" font-size="13" font-weight="normal" font-style="normal" fill="#111" stroke="#111" stroke-width="0.28" textLength="4.27" lengthAdjust="spacingAndGlyphs">/</text>
<text transform="rotate(-90)" x="-257.42" y="10.30" font-size="10" font-weight="normal" font-style="normal" fill="#111" stroke="#111" stroke-width="0.28" textLength="3.03" lengthAdjust="spacingAndGlyphs">*</text>
<text transform="rotate(-90)" x="-260.67" y="18.80" font-size="10" font-weight="normal" font-style="normal" fill="#111" stroke="#111" stroke-width="0.28" textLength="19.36" lengthAdjust="spacingAndGlyphs">max</text>
<path d="M343.1,84.6L343.8,84.3L344.5,83.8L345.2,83.0L345.9,82.1L346.6,80.9L347.3,79.5L348.0,77.9L348.7,76.2L349.4,74.4L350.1,72.4L350.8,70.3L351.5,68.2L352.2,66.0L352.9,63.9L353.6,61.7L354.3,59.7L355.0,57.7L355.7,55.8L356.4,54.0L357.1,52.4L357.8,50.9L358.5,49.7L359.2,48.6L359.8,47.8L360.5,47.2L361.2,46.9L361.9,46.8L362.6,46.9L363.3,47.3L364.0,48.0L364.7,48.8L365.4,49.9L366.1,51.2L366.8,52.7L367.5,54.4L368.2,56.2L368.9,58.1L369.6,60.1L370.3,62.2L371.0,64.3L371.7,66.5L372.4,68.7L373.1,70.8L373.8,72.8L374.5,74.8L375.2,76.6L375.9,78.3L376.6,79.8L377.3,81.2L378.0,82.3L378.7,83.2L379.4,83.9L380.1,84.4L380.8,84.6L381.5,84.5L382.2,84.3L382.9,83.7L383.6,83.0L384.3,82.0L385.0,80.8L385.7,79.4L386.4,77.8L387.1,76.1L387.8,74.2L388.5,72.2L389.2,70.2L389.9,68.0L390.6,65.9L391.3,63.7L392.0,61.6L392.6,59.5L393.3,57.5L394.0,55.6L394.7,53.9L395.4,52.3L396.1,50.8L396.8,49.6L397.5,48.6L398.2,47.8L398.9,47.2L399.6,46.9L400.3,46.8L401.0,47.0L401.7,47.4L402.4,48.0L403.1,48.9L403.8,50.0L404.5,51.3L405.2,52.8L405.9,54.5L406.6,56.3L407.3,58.2L408.0,60.2L408.7,62.3L409.4,64.5L410.1,66.7L410.8,68.8L411.5,70.9L412.2,73.0L412.9,74.9L413.6,76.7L414.3,78.4L415.0,79.9L415.7,81.2L416.4,82.4L417.1,83.3L417.8,84.0L418.5,84.4L419.2,84.6L419.9,84.5L420.6,84.2L421.3,83.7L422.0,82.9L422.7,81.9L423.4,80.7L424.1,79.3L424.8,77.7L425.4,76.0L426.1,74.1L426.8,72.1L427.5,70.0L428.2,67.9L428.9,65.7L429.6,63.6L430.3,61.5L431.0,59.4L431.7,57.4L432.4,55.5L433.1,53.8L433.8,52.2L434.5,50.7L435.2,49.5L435.9,48.5L436.6,47.7L437.3,47.2L438.0,46.9L438.7,46.8L439.4,47.0L440.1,47.4L440.8,48.1L441.5,49.0L442.2,50.1L442.9,51.4L443.6,52.9L444.3,54.6L445.0,56.4L445.7,58.4L446.4,60.4L447.1,62.5L447.8,64.6L448.5,66.8L449.2,69.0L449.9,71.1L450.6,73.1L451.3,75.0L452.0,76.8L452.7,78.5L453.4,80.0L454.1,81.3L454.8,82.4L455.5,83.3L456.2,84.0L456.9,84.4L457.6,84.6L458.2,84.5L458.9,84.2L459.6,83.7L460.3,82.9L461.0,81.8L461.7,80.6L462.4,79.2L463.1,77.6L463.8,75.8L464.5,74.0L465.2,72.0L465.9,69.9L466.6,67.7L467.3,65.6L468.0,63.4L468.7,61.3L469.4,59.2L470.1,57.3L470.8,55.4L471.5,53.6L472.2,52.1L472.9,50.6L473.6,49.4L474.3,48.4L475.0,47.7L475.7,47.1L476.4,46.8L477.1,46.8L477.8,47.0L478.5,47.4L479.2,48.1L479.9,49.0L480.6,50.2L481.3,51.5L482.0,53.0L482.7,54.7L483.4,56.5L484.1,58.5L484.8,60.5L485.5,62.6L486.2,64.8L486.9,67.0L487.6,69.1L488.3,71.2L489.0,73.2L489.7,75.2L490.4,77.0L491.1,78.6L491.7,80.1L492.4,81.4L493.1,82.5L493.8,83.4L494.5,84.0L495.2,84.4L495.9,84.6L496.6,84.5L497.3,84.2L498.0,83.6L498.7,82.8L499.4,81.8L500.1,80.5L500.8,79.1L501.5,77.5L502.2,75.7L502.9,73.8L503.6,71.8L504.3,69.7L505.0,67.6L505.7,65.4L506.4,63.3L507.1,61.2L507.8,59.1L508.5,57.1L509.2,55.2L509.9,53.5L510.6,51.9L511.3,50.6L512.0,49.4L512.7,48.4L513.4,47.6L514.1,47.1L514.8,46.8L515.5,46.8L516.2,47.0L516.9,47.5L517.6,48.2L518.3,49.1L519.0,50.3L519.7,51.6L520.4,53.1L521.1,54.8L521.8,56.7L522.5,58.6L523.2,60.7L523.9,62.8L524.5,64.9L525.2,67.1L525.9,69.2L526.6,71.3L527.3,73.4L528.0,75.3L528.7,77.1L529.4,78.7L530.1,80.2L530.8,81.5L531.5,82.6L532.2,83.4L532.9,84.1L533.6,84.5L534.3,84.6L535.0,84.5L535.7,84.1L536.4,83.6L537.1,82.7L537.8,81.7L538.5,80.4L539.2,79.0L539.9,77.4L540.6,75.6L541.3,73.7L542.0,71.7L542.7,69.6L543.4,67.5L544.1,65.3L544.8,63.1L545.5,61.0L546.2,59.0L546.9,57.0L547.6,55.1L548.3,53.4L549.0,51.8L549.7,50.5L550.4,49.3L551.1,48.3L551.8,47.6L552.5,47.1L553.2,46.8L553.9,46.8L554.6,47.1L555.3,47.5L556.0,48.2L556.7,49.2L557.3,50.4L558.0,51.7L558.7,53.3L559.4,55.0L560.1,56.8L560.8,58.8L561.5,60.8L562.2,62.9L562.9,65.1L563.6,67.3L564.3,69.4L565.0,71.5L565.7,73.5L566.4,75.4L567.1,77.2L567.8,78.8L568.5,80.3L569.2,81.6L569.9,82.6L570.6,83.5L571.3,84.1L572.0,84.5L572.7,84.6L573.4,84.5L573.40,107.45L343.10,107.45Z" fill="#f1d1e8" stroke="none"/>
<line x1="381.50" y1="29.40" x2="381.50" y2="107.45" stroke="#b4b4b4" stroke-width="0.9" stroke-dasharray="2.8,1.2"/>
<line x1="457.50" y1="29.40" x2="457.50" y2="107.45" stroke="#b4b4b4" stroke-width="0.9" stroke-dasharray="2.8,1.2"/>
<line x1="534.50" y1="29.40" x2="534.50" y2="107.45" stroke="#b4b4b4" stroke-width="0.9" stroke-dasharray="2.8,1.2"/>
<path d="M343.1,84.6L343.8,84.3L344.5,83.8L345.2,83.0L345.9,82.1L346.6,80.9L347.3,79.5L348.0,77.9L348.7,76.2L349.4,74.4L350.1,72.4L350.8,70.3L351.5,68.2L352.2,66.0L352.9,63.9L353.6,61.7L354.3,59.7L355.0,57.7L355.7,55.8L356.4,54.0L357.1,52.4L357.8,50.9L358.5,49.7L359.2,48.6L359.8,47.8L360.5,47.2L361.2,46.9L361.9,46.8L362.6,46.9L363.3,47.3L364.0,48.0L364.7,48.8L365.4,49.9L366.1,51.2L366.8,52.7L367.5,54.4L368.2,56.2L368.9,58.1L369.6,60.1L370.3,62.2L371.0,64.3L371.7,66.5L372.4,68.7L373.1,70.8L373.8,72.8L374.5,74.8L375.2,76.6L375.9,78.3L376.6,79.8L377.3,81.2L378.0,82.3L378.7,83.2L379.4,83.9L380.1,84.4L380.8,84.6L381.5,84.5L382.2,84.3L382.9,83.7L383.6,83.0L384.3,82.0L385.0,80.8L385.7,79.4L386.4,77.8L387.1,76.1L387.8,74.2L388.5,72.2L389.2,70.2L389.9,68.0L390.6,65.9L391.3,63.7L392.0,61.6L392.6,59.5L393.3,57.5L394.0,55.6L394.7,53.9L395.4,52.3L396.1,50.8L396.8,49.6L397.5,48.6L398.2,47.8L398.9,47.2L399.6,46.9L400.3,46.8L401.0,47.0L401.7,47.4L402.4,48.0L403.1,48.9L403.8,50.0L404.5,51.3L405.2,52.8L405.9,54.5L406.6,56.3L407.3,58.2L408.0,60.2L408.7,62.3L409.4,64.5L410.1,66.7L410.8,68.8L411.5,70.9L412.2,73.0L412.9,74.9L413.6,76.7L414.3,78.4L415.0,79.9L415.7,81.2L416.4,82.4L417.1,83.3L417.8,84.0L418.5,84.4L419.2,84.6L419.9,84.5L420.6,84.2L421.3,83.7L422.0,82.9L422.7,81.9L423.4,80.7L424.1,79.3L424.8,77.7L425.4,76.0L426.1,74.1L426.8,72.1L427.5,70.0L428.2,67.9L428.9,65.7L429.6,63.6L430.3,61.5L431.0,59.4L431.7,57.4L432.4,55.5L433.1,53.8L433.8,52.2L434.5,50.7L435.2,49.5L435.9,48.5L436.6,47.7L437.3,47.2L438.0,46.9L438.7,46.8L439.4,47.0L440.1,47.4L440.8,48.1L441.5,49.0L442.2,50.1L442.9,51.4L443.6,52.9L444.3,54.6L445.0,56.4L445.7,58.4L446.4,60.4L447.1,62.5L447.8,64.6L448.5,66.8L449.2,69.0L449.9,71.1L450.6,73.1L451.3,75.0L452.0,76.8L452.7,78.5L453.4,80.0L454.1,81.3L454.8,82.4L455.5,83.3L456.2,84.0L456.9,84.4L457.6,84.6L458.2,84.5L458.9,84.2L459.6,83.7L460.3,82.9L461.0,81.8L461.7,80.6L462.4,79.2L463.1,77.6L463.8,75.8L464.5,74.0L465.2,72.0L465.9,69.9L466.6,67.7L467.3,65.6L468.0,63.4L468.7,61.3L469.4,59.2L470.1,57.3L470.8,55.4L471.5,53.6L472.2,52.1L472.9,50.6L473.6,49.4L474.3,48.4L475.0,47.7L475.7,47.1L476.4,46.8L477.1,46.8L477.8,47.0L478.5,47.4L479.2,48.1L479.9,49.0L480.6,50.2L481.3,51.5L482.0,53.0L482.7,54.7L483.4,56.5L484.1,58.5L484.8,60.5L485.5,62.6L486.2,64.8L486.9,67.0L487.6,69.1L488.3,71.2L489.0,73.2L489.7,75.2L490.4,77.0L491.1,78.6L491.7,80.1L492.4,81.4L493.1,82.5L493.8,83.4L494.5,84.0L495.2,84.4L495.9,84.6L496.6,84.5L497.3,84.2L498.0,83.6L498.7,82.8L499.4,81.8L500.1,80.5L500.8,79.1L501.5,77.5L502.2,75.7L502.9,73.8L503.6,71.8L504.3,69.7L505.0,67.6L505.7,65.4L506.4,63.3L507.1,61.2L507.8,59.1L508.5,57.1L509.2,55.2L509.9,53.5L510.6,51.9L511.3,50.6L512.0,49.4L512.7,48.4L513.4,47.6L514.1,47.1L514.8,46.8L515.5,46.8L516.2,47.0L516.9,47.5L517.6,48.2L518.3,49.1L519.0,50.3L519.7,51.6L520.4,53.1L521.1,54.8L521.8,56.7L522.5,58.6L523.2,60.7L523.9,62.8L524.5,64.9L525.2,67.1L525.9,69.2L526.6,71.3L527.3,73.4L528.0,75.3L528.7,77.1L529.4,78.7L530.1,80.2L530.8,81.5L531.5,82.6L532.2,83.4L532.9,84.1L533.6,84.5L534.3,84.6L535.0,84.5L535.7,84.1L536.4,83.6L537.1,82.7L537.8,81.7L538.5,80.4L539.2,79.0L539.9,77.4L540.6,75.6L541.3,73.7L542.0,71.7L542.7,69.6L543.4,67.5L544.1,65.3L544.8,63.1L545.5,61.0L546.2,59.0L546.9,57.0L547.6,55.1L548.3,53.4L549.0,51.8L549.7,50.5L550.4,49.3L551.1,48.3L551.8,47.6L552.5,47.1L553.2,46.8L553.9,46.8L554.6,47.1L555.3,47.5L556.0,48.2L556.7,49.2L557.3,50.4L558.0,51.7L558.7,53.3L559.4,55.0L560.1,56.8L560.8,58.8L561.5,60.8L562.2,62.9L562.9,65.1L563.6,67.3L564.3,69.4L565.0,71.5L565.7,73.5L566.4,75.4L567.1,77.2L567.8,78.8L568.5,80.3L569.2,81.6L569.9,82.6L570.6,83.5L571.3,84.1L572.0,84.5L572.7,84.6L573.4,84.5" fill="none" stroke="#8b008b" stroke-width="1.8"/>
<rect x="343.10" y="29.40" width="230.30" height="78.05" fill="none" stroke="#1a1a1a" stroke-width="1.25"/>
<line x1="343.10" y1="31.40" x2="348.10" y2="31.40" stroke="#1a1a1a" stroke-width="1.0"/>
<line x1="343.10" y1="69.40" x2="348.10" y2="69.40" stroke="#1a1a1a" stroke-width="1.0"/>
<line x1="412.40" y1="107.45" x2="412.40" y2="102.45" stroke="#1a1a1a" stroke-width="1.0"/>
<line x1="482.10" y1="107.45" x2="482.10" y2="102.45" stroke="#1a1a1a" stroke-width="1.0"/>
<line x1="551.80" y1="107.45" x2="551.80" y2="102.45" stroke="#1a1a1a" stroke-width="1.0"/>
<text x="320.36" y="35.80" font-size="12.6" font-weight="normal" font-style="normal" fill="#111" stroke="#111" stroke-width="0.28" textLength="18.64" lengthAdjust="spacingAndGlyphs">0.4</text>
<text x="320.36" y="73.70" font-size="12.6" font-weight="normal" font-style="normal" fill="#111" stroke="#111" stroke-width="0.28" textLength="18.93" lengthAdjust="spacingAndGlyphs">0.2</text>
<text x="320.36" y="105.90" font-size="12.6" font-weight="normal" font-style="normal" fill="#111" stroke="#111" stroke-width="0.28" textLength="18.71" lengthAdjust="spacingAndGlyphs">0.0</text>
<rect x="357.0" y="20.8" width="197.3" height="14.9" rx="2.6" fill="#8b0a84" stroke="#111" stroke-width="1.1"/>
<text x="363.76" y="31.20" font-size="9.6" font-weight="bold" font-style="normal" fill="#fff" textLength="185.95" lengthAdjust="spacingAndGlyphs">dielectrophoretic rise (dipolar fluid)</text>
<line x1="381.50" y1="114.40" x2="381.50" y2="139.80" stroke="#b4b4b4" stroke-width="0.9" stroke-dasharray="2.8,1.2"/>
<line x1="457.50" y1="114.40" x2="457.50" y2="139.80" stroke="#b4b4b4" stroke-width="0.9" stroke-dasharray="2.8,1.2"/>
<line x1="534.50" y1="114.40" x2="534.50" y2="139.80" stroke="#b4b4b4" stroke-width="0.9" stroke-dasharray="2.8,1.2"/>
<path d="M343.1,134.0L343.8,134.1L344.5,134.2L345.2,134.4L345.9,134.7L346.6,134.9L347.3,135.3L348.0,135.6L348.7,136.0L349.4,136.3L350.1,136.6L350.8,137.0L351.5,137.2L352.2,137.4L352.9,137.5L353.6,137.5L354.3,137.3L355.0,137.1L355.7,136.7L356.4,136.1L357.1,135.4L357.8,134.6L358.5,133.6L359.2,132.5L359.8,131.2L360.5,130.0L361.2,128.6L361.9,127.3L362.6,125.9L363.3,124.6L364.0,123.3L364.7,122.1L365.4,121.0L366.1,120.1L366.8,119.2L367.5,118.6L368.2,118.0L368.9,117.7L369.6,117.4L370.3,117.3L371.0,117.3L371.7,117.4L372.4,117.6L373.1,117.9L373.8,118.2L374.5,118.6L375.2,118.9L375.9,119.3L376.6,119.6L377.3,119.9L378.0,120.2L378.7,120.4L379.4,120.6L380.1,120.7L380.8,120.8L381.5,120.8L382.2,120.7L382.9,120.6L383.6,120.4L384.3,120.1L385.0,119.8L385.7,119.5L386.4,119.2L387.1,118.8L387.8,118.5L388.5,118.1L389.2,117.8L389.9,117.6L390.6,117.4L391.3,117.3L392.0,117.3L392.6,117.5L393.3,117.7L394.0,118.2L394.7,118.7L395.4,119.5L396.1,120.3L396.8,121.3L397.5,122.4L398.2,123.6L398.9,124.9L399.6,126.3L400.3,127.6L401.0,129.0L401.7,130.3L402.4,131.6L403.1,132.8L403.8,133.9L404.5,134.8L405.2,135.6L405.9,136.3L406.6,136.8L407.3,137.2L408.0,137.4L408.7,137.5L409.4,137.5L410.1,137.3L410.8,137.1L411.5,136.9L412.2,136.6L412.9,136.2L413.6,135.8L414.3,135.5L415.0,135.2L415.7,134.8L416.4,134.6L417.1,134.4L417.8,134.2L418.5,134.1L419.2,134.0L419.9,134.0L420.6,134.1L421.3,134.3L422.0,134.4L422.7,134.7L423.4,135.0L424.1,135.3L424.8,135.6L425.4,136.0L426.1,136.4L426.8,136.7L427.5,137.0L428.2,137.2L428.9,137.4L429.6,137.5L430.3,137.5L431.0,137.3L431.7,137.0L432.4,136.6L433.1,136.0L433.8,135.3L434.5,134.4L435.2,133.4L435.9,132.3L436.6,131.1L437.3,129.8L438.0,128.4L438.7,127.1L439.4,125.7L440.1,124.4L440.8,123.1L441.5,121.9L442.2,120.9L442.9,119.9L443.6,119.1L444.3,118.5L445.0,118.0L445.7,117.6L446.4,117.4L447.1,117.3L447.8,117.3L448.5,117.5L449.2,117.7L449.9,117.9L450.6,118.3L451.3,118.6L452.0,119.0L452.7,119.3L453.4,119.7L454.1,120.0L454.8,120.2L455.5,120.5L456.2,120.6L456.9,120.7L457.6,120.8L458.2,120.7L458.9,120.7L459.6,120.5L460.3,120.3L461.0,120.1L461.7,119.8L462.4,119.5L463.1,119.1L463.8,118.8L464.5,118.4L465.2,118.1L465.9,117.8L466.6,117.5L467.3,117.4L468.0,117.3L468.7,117.3L469.4,117.5L470.1,117.8L470.8,118.2L471.5,118.8L472.2,119.6L472.9,120.4L473.6,121.5L474.3,122.6L475.0,123.8L475.7,125.1L476.4,126.5L477.1,127.8L477.8,129.2L478.5,130.5L479.2,131.8L479.9,132.9L480.6,134.0L481.3,134.9L482.0,135.7L482.7,136.4L483.4,136.9L484.1,137.2L484.8,137.4L485.5,137.5L486.2,137.5L486.9,137.3L487.6,137.1L488.3,136.8L489.0,136.5L489.7,136.2L490.4,135.8L491.1,135.4L491.7,135.1L492.4,134.8L493.1,134.5L493.8,134.3L494.5,134.2L495.2,134.1L495.9,134.0L496.6,134.1L497.3,134.1L498.0,134.3L498.7,134.5L499.4,134.7L500.1,135.0L500.8,135.3L501.5,135.7L502.2,136.1L502.9,136.4L503.6,136.7L504.3,137.0L505.0,137.3L505.7,137.4L506.4,137.5L507.1,137.5L507.8,137.3L508.5,137.0L509.2,136.5L509.9,135.9L510.6,135.2L511.3,134.3L512.0,133.3L512.7,132.1L513.4,130.9L514.1,129.6L514.8,128.2L515.5,126.9L516.2,125.5L516.9,124.2L517.6,122.9L518.3,121.8L519.0,120.7L519.7,119.8L520.4,119.0L521.1,118.4L521.8,117.9L522.5,117.6L523.2,117.4L523.9,117.3L524.5,117.3L525.2,117.5L525.9,117.7L526.6,118.0L527.3,118.3L528.0,118.7L528.7,119.0L529.4,119.4L530.1,119.7L530.8,120.0L531.5,120.3L532.2,120.5L532.9,120.6L533.6,120.7L534.3,120.8L535.0,120.7L535.7,120.7L536.4,120.5L537.1,120.3L537.8,120.1L538.5,119.8L539.2,119.4L539.9,119.1L540.6,118.7L541.3,118.4L542.0,118.0L542.7,117.8L543.4,117.5L544.1,117.4L544.8,117.3L545.5,117.4L546.2,117.5L546.9,117.8L547.6,118.3L548.3,118.9L549.0,119.7L549.7,120.6L550.4,121.6L551.1,122.8L551.8,124.0L552.5,125.3L553.2,126.7L553.9,128.0L554.6,129.4L555.3,130.7L556.0,131.9L556.7,133.1L557.3,134.1L558.0,135.0L558.7,135.8L559.4,136.4L560.1,136.9L560.8,137.2L561.5,137.4L562.2,137.5L562.9,137.4L563.6,137.3L564.3,137.1L565.0,136.8L565.7,136.5L566.4,136.1L567.1,135.7L567.8,135.4L568.5,135.1L569.2,134.8L569.9,134.5L570.6,134.3L571.3,134.2L572.0,134.1L572.7,134.0L573.4,134.1" fill="none" stroke="#8b008b" stroke-width="1.8"/>
<rect x="343.10" y="114.40" width="230.30" height="25.40" fill="none" stroke="#1a1a1a" stroke-width="1.25"/>
<line x1="343.10" y1="117.50" x2="348.10" y2="117.50" stroke="#1a1a1a" stroke-width="1.0"/>
<line x1="343.10" y1="127.40" x2="348.10" y2="127.40" stroke="#1a1a1a" stroke-width="1.0"/>
<line x1="343.10" y1="137.30" x2="348.10" y2="137.30" stroke="#1a1a1a" stroke-width="1.0"/>
<line x1="412.40" y1="139.80" x2="412.40" y2="134.80" stroke="#1a1a1a" stroke-width="1.0"/>
<line x1="482.10" y1="139.80" x2="482.10" y2="134.80" stroke="#1a1a1a" stroke-width="1.0"/>
<line x1="551.80" y1="139.80" x2="551.80" y2="134.80" stroke="#1a1a1a" stroke-width="1.0"/>
<text x="333.98" y="120.80" font-size="12.6" font-weight="normal" font-style="normal" fill="#111" stroke="#111" stroke-width="0.28" textLength="4.60" lengthAdjust="spacingAndGlyphs">1</text>
<text x="332.33" y="131.00" font-size="12.6" font-weight="normal" font-style="normal" fill="#111" stroke="#111" stroke-width="0.28" textLength="6.49" lengthAdjust="spacingAndGlyphs">0</text>
<text x="321.84" y="141.70" font-size="12.6" font-weight="normal" font-style="normal" fill="#111" stroke="#111" stroke-width="0.28" textLength="17.24" lengthAdjust="spacingAndGlyphs">−1</text>
<text x="294.60" y="25.80" font-size="14" text-anchor="start" font-weight="bold" font-style="normal" fill="#000" stroke="#000" stroke-width="0.35">c</text>
<text transform="rotate(-90)" x="-75.96" y="313.36" font-size="12.7" font-weight="normal" font-style="italic" fill="#111" stroke="#111" stroke-width="0.28" textLength="7.70" lengthAdjust="spacingAndGlyphs">ρ</text>
<text transform="rotate(-90)" x="-65.22" y="309.30" font-size="10" font-weight="normal" font-style="normal" fill="#111" stroke="#111" stroke-width="0.28" textLength="3.13" lengthAdjust="spacingAndGlyphs">*</text>
<text transform="rotate(-90)" x="-152.61" y="314.72" font-size="13" font-weight="normal" font-style="italic" fill="#111" stroke="#111" stroke-width="0.28" textLength="7.64" lengthAdjust="spacingAndGlyphs">n</text>
<text transform="rotate(-90)" x="-128.86" y="314.72" font-size="13" font-weight="normal" font-style="italic" fill="#111" stroke="#111" stroke-width="0.28" textLength="5.84" lengthAdjust="spacingAndGlyphs">n</text>
<text transform="rotate(-90)" x="-142.25" y="309.50" font-size="10" font-weight="normal" font-style="normal" fill="#111" stroke="#111" stroke-width="0.28" textLength="4.00" lengthAdjust="spacingAndGlyphs">*</text>
<text transform="rotate(-90)" x="-135.40" y="314.52" font-size="13" font-weight="normal" font-style="normal" fill="#111" stroke="#111" stroke-width="0.28" textLength="4.27" lengthAdjust="spacingAndGlyphs">/</text>
<text transform="rotate(-90)" x="-119.62" y="309.50" font-size="10" font-weight="normal" font-style="normal" fill="#111" stroke="#111" stroke-width="0.28" textLength="3.03" lengthAdjust="spacingAndGlyphs">*</text>
<text transform="rotate(-90)" x="-122.87" y="318.00" font-size="10" font-weight="normal" font-style="normal" fill="#111" stroke="#111" stroke-width="0.28" textLength="19.36" lengthAdjust="spacingAndGlyphs">max</text>
<path d="M343.0,198.9L343.7,199.0L344.4,199.1L345.1,199.4L345.8,199.7L346.5,200.0L347.2,200.5L347.9,201.0L348.6,201.6L349.3,202.2L350.0,203.0L350.7,203.7L351.4,204.5L352.1,205.4L352.8,206.3L353.5,207.2L354.2,208.1L354.9,209.1L355.6,210.1L356.3,211.1L357.0,212.1L357.7,213.2L358.4,214.2L359.1,215.2L359.7,216.2L360.4,217.2L361.1,218.2L361.8,219.1L362.5,220.0L363.2,220.9L363.9,221.8L364.6,222.6L365.3,223.4L366.0,224.2L366.7,224.9L367.4,225.6L368.1,226.3L368.8,226.9L369.5,227.4L370.2,228.0L370.9,228.4L371.6,228.9L372.3,229.3L373.0,229.7L373.7,230.0L374.4,230.3L375.1,230.6L375.8,230.8L376.5,231.1L377.2,231.2L377.9,231.4L378.6,231.5L379.3,231.6L380.0,231.6L380.7,231.7L381.4,231.7L382.1,231.6L382.8,231.6L383.5,231.5L384.2,231.4L384.9,231.2L385.6,231.1L386.3,230.8L387.0,230.6L387.7,230.3L388.4,230.0L389.1,229.7L389.8,229.3L390.5,228.9L391.2,228.5L391.9,228.0L392.5,227.4L393.2,226.9L393.9,226.3L394.6,225.6L395.3,224.9L396.0,224.2L396.7,223.4L397.4,222.6L398.1,221.8L398.8,220.9L399.5,220.0L400.2,219.1L400.9,218.2L401.6,217.2L402.3,216.2L403.0,215.2L403.7,214.2L404.4,213.2L405.1,212.1L405.8,211.1L406.5,210.1L407.2,209.1L407.9,208.1L408.6,207.2L409.3,206.3L410.0,205.4L410.7,204.5L411.4,203.7L412.1,203.0L412.8,202.2L413.5,201.6L414.2,201.0L414.9,200.5L415.6,200.0L416.3,199.7L417.0,199.4L417.7,199.1L418.4,199.0L419.1,198.9L419.8,198.9L420.5,199.0L421.2,199.2L421.9,199.4L422.6,199.7L423.3,200.1L424.0,200.6L424.7,201.1L425.3,201.7L426.0,202.3L426.7,203.1L427.4,203.8L428.1,204.6L428.8,205.5L429.5,206.4L430.2,207.3L430.9,208.3L431.6,209.3L432.3,210.3L433.0,211.3L433.7,212.3L434.4,213.3L435.1,214.3L435.8,215.3L436.5,216.3L437.2,217.3L437.9,218.3L438.6,219.2L439.3,220.2L440.0,221.1L440.7,221.9L441.4,222.8L442.1,223.5L442.8,224.3L443.5,225.0L444.2,225.7L444.9,226.3L445.6,226.9L446.3,227.5L447.0,228.0L447.7,228.5L448.4,229.0L449.1,229.4L449.8,229.7L450.5,230.1L451.2,230.4L451.9,230.6L452.6,230.9L453.3,231.1L454.0,231.3L454.7,231.4L455.4,231.5L456.1,231.6L456.8,231.6L457.5,231.7L458.1,231.7L458.8,231.6L459.5,231.6L460.2,231.5L460.9,231.4L461.6,231.2L462.3,231.0L463.0,230.8L463.7,230.6L464.4,230.3L465.1,230.0L465.8,229.6L466.5,229.3L467.2,228.8L467.9,228.4L468.6,227.9L469.3,227.4L470.0,226.8L470.7,226.2L471.4,225.5L472.1,224.8L472.8,224.1L473.5,223.3L474.2,222.5L474.9,221.7L475.6,220.8L476.3,219.9L477.0,219.0L477.7,218.0L478.4,217.1L479.1,216.1L479.8,215.1L480.5,214.0L481.2,213.0L481.9,212.0L482.6,211.0L483.3,210.0L484.0,209.0L484.7,208.0L485.4,207.1L486.1,206.1L486.8,205.3L487.5,204.4L488.2,203.6L488.9,202.9L489.6,202.2L490.3,201.5L491.0,200.9L491.6,200.4L492.3,200.0L493.0,199.6L493.7,199.3L494.4,199.1L495.1,199.0L495.8,198.9L496.5,198.9L497.2,199.0L497.9,199.2L498.6,199.4L499.3,199.8L500.0,200.2L500.7,200.6L501.4,201.2L502.1,201.8L502.8,202.4L503.5,203.2L504.2,203.9L504.9,204.7L505.6,205.6L506.3,206.5L507.0,207.4L507.7,208.4L508.4,209.4L509.1,210.4L509.8,211.4L510.5,212.4L511.2,213.4L511.9,214.5L512.6,215.5L513.3,216.5L514.0,217.5L514.7,218.4L515.4,219.4L516.1,220.3L516.8,221.2L517.5,222.0L518.2,222.9L518.9,223.7L519.6,224.4L520.3,225.1L521.0,225.8L521.7,226.4L522.4,227.0L523.1,227.6L523.8,228.1L524.4,228.6L525.1,229.0L525.8,229.4L526.5,229.8L527.2,230.1L527.9,230.4L528.6,230.7L529.3,230.9L530.0,231.1L530.7,231.3L531.4,231.4L532.1,231.5L532.8,231.6L533.5,231.6L534.2,231.7L534.9,231.7L535.6,231.6L536.3,231.6L537.0,231.5L537.7,231.3L538.4,231.2L539.1,231.0L539.8,230.8L540.5,230.5L541.2,230.3L541.9,229.9L542.6,229.6L543.3,229.2L544.0,228.8L544.7,228.3L545.4,227.8L546.1,227.3L546.8,226.7L547.5,226.1L548.2,225.4L548.9,224.7L549.6,224.0L550.3,223.2L551.0,222.4L551.7,221.6L552.4,220.7L553.1,219.8L553.8,218.9L554.5,217.9L555.2,216.9L555.9,215.9L556.6,214.9L557.2,213.9L557.9,212.9L558.6,211.9L559.3,210.8L560.0,209.8L560.7,208.8L561.4,207.9L562.1,206.9L562.8,206.0L563.5,205.1L564.2,204.3L564.9,203.5L565.6,202.8L566.3,202.1L567.0,201.4L567.7,200.9L568.4,200.4L569.1,199.9L569.8,199.6L570.5,199.3L571.2,199.1L571.9,199.0L572.6,198.9L573.3,198.9L573.30,243.90L343.00,243.90Z" fill="#a6ebe3" fill-opacity="0.33" stroke="none"/>
<path d="M343.0,231.7L343.7,231.6L344.4,231.6L345.1,231.5L345.8,231.4L346.5,231.2L347.2,231.1L347.9,230.9L348.6,230.6L349.3,230.4L350.0,230.1L350.7,229.7L351.4,229.3L352.1,228.9L352.8,228.5L353.5,228.0L354.2,227.5L354.9,226.9L355.6,226.3L356.3,225.7L357.0,225.0L357.7,224.3L358.4,223.5L359.1,222.7L359.7,221.9L360.4,221.0L361.1,220.1L361.8,219.2L362.5,218.2L363.2,217.3L363.9,216.3L364.6,215.3L365.3,214.3L366.0,213.2L366.7,212.2L367.4,211.2L368.1,210.2L368.8,209.2L369.5,208.2L370.2,207.3L370.9,206.3L371.6,205.4L372.3,204.6L373.0,203.8L373.7,203.0L374.4,202.3L375.1,201.6L375.8,201.1L376.5,200.5L377.2,200.1L377.9,199.7L378.6,199.4L379.3,199.1L380.0,199.0L380.7,198.9L381.4,198.9L382.1,199.0L382.8,199.1L383.5,199.4L384.2,199.7L384.9,200.1L385.6,200.5L386.3,201.1L387.0,201.6L387.7,202.3L388.4,203.0L389.1,203.8L389.8,204.6L390.5,205.4L391.2,206.3L391.9,207.3L392.5,208.2L393.2,209.2L393.9,210.2L394.6,211.2L395.3,212.2L396.0,213.2L396.7,214.3L397.4,215.3L398.1,216.3L398.8,217.3L399.5,218.2L400.2,219.2L400.9,220.1L401.6,221.0L402.3,221.9L403.0,222.7L403.7,223.5L404.4,224.3L405.1,225.0L405.8,225.7L406.5,226.3L407.2,226.9L407.9,227.5L408.6,228.0L409.3,228.5L410.0,228.9L410.7,229.3L411.4,229.7L412.1,230.1L412.8,230.4L413.5,230.6L414.2,230.9L414.9,231.1L415.6,231.2L416.3,231.4L417.0,231.5L417.7,231.6L418.4,231.6L419.1,231.7L419.8,231.7L420.5,231.6L421.2,231.6L421.9,231.5L422.6,231.4L423.3,231.2L424.0,231.0L424.7,230.8L425.3,230.6L426.0,230.3L426.7,230.0L427.4,229.7L428.1,229.3L428.8,228.9L429.5,228.4L430.2,227.9L430.9,227.4L431.6,226.8L432.3,226.2L433.0,225.6L433.7,224.9L434.4,224.1L435.1,223.4L435.8,222.6L436.5,221.7L437.2,220.9L437.9,220.0L438.6,219.1L439.3,218.1L440.0,217.1L440.7,216.1L441.4,215.1L442.1,214.1L442.8,213.1L443.5,212.1L444.2,211.1L444.9,210.0L445.6,209.1L446.3,208.1L447.0,207.1L447.7,206.2L448.4,205.3L449.1,204.5L449.8,203.7L450.5,202.9L451.2,202.2L451.9,201.6L452.6,201.0L453.3,200.5L454.0,200.0L454.7,199.6L455.4,199.3L456.1,199.1L456.8,199.0L457.5,198.9L458.1,198.9L458.8,199.0L459.5,199.2L460.2,199.4L460.9,199.7L461.6,200.1L462.3,200.6L463.0,201.1L463.7,201.7L464.4,202.4L465.1,203.1L465.8,203.9L466.5,204.7L467.2,205.6L467.9,206.4L468.6,207.4L469.3,208.3L470.0,209.3L470.7,210.3L471.4,211.3L472.1,212.4L472.8,213.4L473.5,214.4L474.2,215.4L474.9,216.4L475.6,217.4L476.3,218.4L477.0,219.3L477.7,220.2L478.4,221.1L479.1,222.0L479.8,222.8L480.5,223.6L481.2,224.4L481.9,225.1L482.6,225.7L483.3,226.4L484.0,227.0L484.7,227.5L485.4,228.1L486.1,228.5L486.8,229.0L487.5,229.4L488.2,229.8L488.9,230.1L489.6,230.4L490.3,230.7L491.0,230.9L491.6,231.1L492.3,231.3L493.0,231.4L493.7,231.5L494.4,231.6L495.1,231.6L495.8,231.7L496.5,231.7L497.2,231.6L497.9,231.6L498.6,231.5L499.3,231.3L500.0,231.2L500.7,231.0L501.4,230.8L502.1,230.6L502.8,230.3L503.5,230.0L504.2,229.6L504.9,229.2L505.6,228.8L506.3,228.4L507.0,227.9L507.7,227.3L508.4,226.7L509.1,226.1L509.8,225.5L510.5,224.8L511.2,224.0L511.9,223.3L512.6,222.5L513.3,221.6L514.0,220.8L514.7,219.9L515.4,218.9L516.1,218.0L516.8,217.0L517.5,216.0L518.2,215.0L518.9,214.0L519.6,213.0L520.3,211.9L521.0,210.9L521.7,209.9L522.4,208.9L523.1,207.9L523.8,207.0L524.4,206.1L525.1,205.2L525.8,204.3L526.5,203.6L527.2,202.8L527.9,202.1L528.6,201.5L529.3,200.9L530.0,200.4L530.7,200.0L531.4,199.6L532.1,199.3L532.8,199.1L533.5,199.0L534.2,198.9L534.9,198.9L535.6,199.0L536.3,199.2L537.0,199.5L537.7,199.8L538.4,200.2L539.1,200.7L539.8,201.2L540.5,201.8L541.2,202.5L541.9,203.2L542.6,204.0L543.3,204.8L544.0,205.7L544.7,206.6L545.4,207.5L546.1,208.5L546.8,209.5L547.5,210.5L548.2,211.5L548.9,212.5L549.6,213.5L550.3,214.5L551.0,215.6L551.7,216.6L552.4,217.5L553.1,218.5L553.8,219.4L554.5,220.4L555.2,221.2L555.9,222.1L556.6,222.9L557.2,223.7L557.9,224.5L558.6,225.2L559.3,225.8L560.0,226.5L560.7,227.1L561.4,227.6L562.1,228.1L562.8,228.6L563.5,229.0L564.2,229.4L564.9,229.8L565.6,230.1L566.3,230.4L567.0,230.7L567.7,230.9L568.4,231.1L569.1,231.3L569.8,231.4L570.5,231.5L571.2,231.6L571.9,231.6L572.6,231.7L573.3,231.7L573.30,243.90L343.00,243.90Z" fill="#ebb5f7" fill-opacity="0.36" stroke="none"/>
<line x1="381.50" y1="166.20" x2="381.50" y2="243.90" stroke="#b4b4b4" stroke-width="0.9" stroke-dasharray="2.8,1.2"/>
<line x1="457.50" y1="166.20" x2="457.50" y2="243.90" stroke="#b4b4b4" stroke-width="0.9" stroke-dasharray="2.8,1.2"/>
<line x1="534.50" y1="166.20" x2="534.50" y2="243.90" stroke="#b4b4b4" stroke-width="0.9" stroke-dasharray="2.8,1.2"/>
<path d="M343.0,186.8L343.7,186.8L344.4,186.9L345.1,187.1L345.8,187.3L346.5,187.5L347.2,187.8L347.9,188.1L348.6,188.4L349.3,188.8L350.0,189.2L350.7,189.6L351.4,190.1L352.1,190.5L352.8,190.9L353.5,191.4L354.2,191.8L354.9,192.2L355.6,192.6L356.3,193.0L357.0,193.3L357.7,193.6L358.4,193.9L359.1,194.1L359.7,194.3L360.4,194.4L361.1,194.5L361.8,194.5L362.5,194.5L363.2,194.4L363.9,194.3L364.6,194.1L365.3,193.9L366.0,193.6L366.7,193.3L367.4,193.0L368.1,192.6L368.8,192.3L369.5,191.8L370.2,191.4L370.9,191.0L371.6,190.5L372.3,190.1L373.0,189.7L373.7,189.2L374.4,188.8L375.1,188.5L375.8,188.1L376.5,187.8L377.2,187.5L377.9,187.3L378.6,187.1L379.3,186.9L380.0,186.8L380.7,186.8L381.4,186.8L382.1,186.8L382.8,186.9L383.5,187.1L384.2,187.3L384.9,187.5L385.6,187.8L386.3,188.1L387.0,188.5L387.7,188.8L388.4,189.2L389.1,189.7L389.8,190.1L390.5,190.5L391.2,191.0L391.9,191.4L392.5,191.8L393.2,192.3L393.9,192.6L394.6,193.0L395.3,193.3L396.0,193.6L396.7,193.9L397.4,194.1L398.1,194.3L398.8,194.4L399.5,194.5L400.2,194.5L400.9,194.5L401.6,194.4L402.3,194.3L403.0,194.1L403.7,193.9L404.4,193.6L405.1,193.3L405.8,193.0L406.5,192.6L407.2,192.2L407.9,191.8L408.6,191.4L409.3,190.9L410.0,190.5L410.7,190.1L411.4,189.6L412.1,189.2L412.8,188.8L413.5,188.4L414.2,188.1L414.9,187.8L415.6,187.5L416.3,187.3L417.0,187.1L417.7,186.9L418.4,186.8L419.1,186.8L419.8,186.8L420.5,186.8L421.2,186.9L421.9,187.1L422.6,187.3L423.3,187.5L424.0,187.8L424.7,188.1L425.3,188.5L426.0,188.9L426.7,189.3L427.4,189.7L428.1,190.1L428.8,190.6L429.5,191.0L430.2,191.4L430.9,191.9L431.6,192.3L432.3,192.7L433.0,193.0L433.7,193.4L434.4,193.7L435.1,193.9L435.8,194.1L436.5,194.3L437.2,194.4L437.9,194.5L438.6,194.5L439.3,194.5L440.0,194.4L440.7,194.3L441.4,194.1L442.1,193.9L442.8,193.6L443.5,193.3L444.2,193.0L444.9,192.6L445.6,192.2L446.3,191.8L447.0,191.4L447.7,190.9L448.4,190.5L449.1,190.0L449.8,189.6L450.5,189.2L451.2,188.8L451.9,188.4L452.6,188.1L453.3,187.7L454.0,187.5L454.7,187.2L455.4,187.0L456.1,186.9L456.8,186.8L457.5,186.8L458.1,186.8L458.8,186.8L459.5,186.9L460.2,187.1L460.9,187.3L461.6,187.5L462.3,187.8L463.0,188.2L463.7,188.5L464.4,188.9L465.1,189.3L465.8,189.7L466.5,190.2L467.2,190.6L467.9,191.0L468.6,191.5L469.3,191.9L470.0,192.3L470.7,192.7L471.4,193.1L472.1,193.4L472.8,193.7L473.5,193.9L474.2,194.1L474.9,194.3L475.6,194.4L476.3,194.5L477.0,194.5L477.7,194.5L478.4,194.4L479.1,194.3L479.8,194.1L480.5,193.8L481.2,193.6L481.9,193.3L482.6,192.9L483.3,192.6L484.0,192.2L484.7,191.8L485.4,191.3L486.1,190.9L486.8,190.4L487.5,190.0L488.2,189.6L488.9,189.2L489.6,188.8L490.3,188.4L491.0,188.0L491.6,187.7L492.3,187.5L493.0,187.2L493.7,187.0L494.4,186.9L495.1,186.8L495.8,186.8L496.5,186.8L497.2,186.8L497.9,187.0L498.6,187.1L499.3,187.3L500.0,187.6L500.7,187.9L501.4,188.2L502.1,188.5L502.8,188.9L503.5,189.3L504.2,189.7L504.9,190.2L505.6,190.6L506.3,191.1L507.0,191.5L507.7,191.9L508.4,192.3L509.1,192.7L509.8,193.1L510.5,193.4L511.2,193.7L511.9,193.9L512.6,194.2L513.3,194.3L514.0,194.4L514.7,194.5L515.4,194.5L516.1,194.5L516.8,194.4L517.5,194.2L518.2,194.1L518.9,193.8L519.6,193.6L520.3,193.3L521.0,192.9L521.7,192.5L522.4,192.1L523.1,191.7L523.8,191.3L524.4,190.9L525.1,190.4L525.8,190.0L526.5,189.5L527.2,189.1L527.9,188.7L528.6,188.4L529.3,188.0L530.0,187.7L530.7,187.4L531.4,187.2L532.1,187.0L532.8,186.9L533.5,186.8L534.2,186.8L534.9,186.8L535.6,186.8L536.3,187.0L537.0,187.1L537.7,187.3L538.4,187.6L539.1,187.9L539.8,188.2L540.5,188.6L541.2,188.9L541.9,189.4L542.6,189.8L543.3,190.2L544.0,190.7L544.7,191.1L545.4,191.5L546.1,192.0L546.8,192.4L547.5,192.7L548.2,193.1L548.9,193.4L549.6,193.7L550.3,194.0L551.0,194.2L551.7,194.3L552.4,194.4L553.1,194.5L553.8,194.5L554.5,194.5L555.2,194.4L555.9,194.2L556.6,194.0L557.2,193.8L557.9,193.5L558.6,193.2L559.3,192.9L560.0,192.5L560.7,192.1L561.4,191.7L562.1,191.3L562.8,190.8L563.5,190.4L564.2,189.9L564.9,189.5L565.6,189.1L566.3,188.7L567.0,188.3L567.7,188.0L568.4,187.7L569.1,187.4L569.8,187.2L570.5,187.0L571.2,186.9L571.9,186.8L572.6,186.8L573.3,186.8" fill="none" stroke="#1e90ff" stroke-width="1.8"/>
<path d="M343.0,198.9L343.7,199.0L344.4,199.1L345.1,199.4L345.8,199.7L346.5,200.0L347.2,200.5L347.9,201.0L348.6,201.6L349.3,202.2L350.0,203.0L350.7,203.7L351.4,204.5L352.1,205.4L352.8,206.3L353.5,207.2L354.2,208.1L354.9,209.1L355.6,210.1L356.3,211.1L357.0,212.1L357.7,213.2L358.4,214.2L359.1,215.2L359.7,216.2L360.4,217.2L361.1,218.2L361.8,219.1L362.5,220.0L363.2,220.9L363.9,221.8L364.6,222.6L365.3,223.4L366.0,224.2L366.7,224.9L367.4,225.6L368.1,226.3L368.8,226.9L369.5,227.4L370.2,228.0L370.9,228.4L371.6,228.9L372.3,229.3L373.0,229.7L373.7,230.0L374.4,230.3L375.1,230.6L375.8,230.8L376.5,231.1L377.2,231.2L377.9,231.4L378.6,231.5L379.3,231.6L380.0,231.6L380.7,231.7L381.4,231.7L382.1,231.6L382.8,231.6L383.5,231.5L384.2,231.4L384.9,231.2L385.6,231.1L386.3,230.8L387.0,230.6L387.7,230.3L388.4,230.0L389.1,229.7L389.8,229.3L390.5,228.9L391.2,228.5L391.9,228.0L392.5,227.4L393.2,226.9L393.9,226.3L394.6,225.6L395.3,224.9L396.0,224.2L396.7,223.4L397.4,222.6L398.1,221.8L398.8,220.9L399.5,220.0L400.2,219.1L400.9,218.2L401.6,217.2L402.3,216.2L403.0,215.2L403.7,214.2L404.4,213.2L405.1,212.1L405.8,211.1L406.5,210.1L407.2,209.1L407.9,208.1L408.6,207.2L409.3,206.3L410.0,205.4L410.7,204.5L411.4,203.7L412.1,203.0L412.8,202.2L413.5,201.6L414.2,201.0L414.9,200.5L415.6,200.0L416.3,199.7L417.0,199.4L417.7,199.1L418.4,199.0L419.1,198.9L419.8,198.9L420.5,199.0L421.2,199.2L421.9,199.4L422.6,199.7L423.3,200.1L424.0,200.6L424.7,201.1L425.3,201.7L426.0,202.3L426.7,203.1L427.4,203.8L428.1,204.6L428.8,205.5L429.5,206.4L430.2,207.3L430.9,208.3L431.6,209.3L432.3,210.3L433.0,211.3L433.7,212.3L434.4,213.3L435.1,214.3L435.8,215.3L436.5,216.3L437.2,217.3L437.9,218.3L438.6,219.2L439.3,220.2L440.0,221.1L440.7,221.9L441.4,222.8L442.1,223.5L442.8,224.3L443.5,225.0L444.2,225.7L444.9,226.3L445.6,226.9L446.3,227.5L447.0,228.0L447.7,228.5L448.4,229.0L449.1,229.4L449.8,229.7L450.5,230.1L451.2,230.4L451.9,230.6L452.6,230.9L453.3,231.1L454.0,231.3L454.7,231.4L455.4,231.5L456.1,231.6L456.8,231.6L457.5,231.7L458.1,231.7L458.8,231.6L459.5,231.6L460.2,231.5L460.9,231.4L461.6,231.2L462.3,231.0L463.0,230.8L463.7,230.6L464.4,230.3L465.1,230.0L465.8,229.6L466.5,229.3L467.2,228.8L467.9,228.4L468.6,227.9L469.3,227.4L470.0,226.8L470.7,226.2L471.4,225.5L472.1,224.8L472.8,224.1L473.5,223.3L474.2,222.5L474.9,221.7L475.6,220.8L476.3,219.9L477.0,219.0L477.7,218.0L478.4,217.1L479.1,216.1L479.8,215.1L480.5,214.0L481.2,213.0L481.9,212.0L482.6,211.0L483.3,210.0L484.0,209.0L484.7,208.0L485.4,207.1L486.1,206.1L486.8,205.3L487.5,204.4L488.2,203.6L488.9,202.9L489.6,202.2L490.3,201.5L491.0,200.9L491.6,200.4L492.3,200.0L493.0,199.6L493.7,199.3L494.4,199.1L495.1,199.0L495.8,198.9L496.5,198.9L497.2,199.0L497.9,199.2L498.6,199.4L499.3,199.8L500.0,200.2L500.7,200.6L501.4,201.2L502.1,201.8L502.8,202.4L503.5,203.2L504.2,203.9L504.9,204.7L505.6,205.6L506.3,206.5L507.0,207.4L507.7,208.4L508.4,209.4L509.1,210.4L509.8,211.4L510.5,212.4L511.2,213.4L511.9,214.5L512.6,215.5L513.3,216.5L514.0,217.5L514.7,218.4L515.4,219.4L516.1,220.3L516.8,221.2L517.5,222.0L518.2,222.9L518.9,223.7L519.6,224.4L520.3,225.1L521.0,225.8L521.7,226.4L522.4,227.0L523.1,227.6L523.8,228.1L524.4,228.6L525.1,229.0L525.8,229.4L526.5,229.8L527.2,230.1L527.9,230.4L528.6,230.7L529.3,230.9L530.0,231.1L530.7,231.3L531.4,231.4L532.1,231.5L532.8,231.6L533.5,231.6L534.2,231.7L534.9,231.7L535.6,231.6L536.3,231.6L537.0,231.5L537.7,231.3L538.4,231.2L539.1,231.0L539.8,230.8L540.5,230.5L541.2,230.3L541.9,229.9L542.6,229.6L543.3,229.2L544.0,228.8L544.7,228.3L545.4,227.8L546.1,227.3L546.8,226.7L547.5,226.1L548.2,225.4L548.9,224.7L549.6,224.0L550.3,223.2L551.0,222.4L551.7,221.6L552.4,220.7L553.1,219.8L553.8,218.9L554.5,217.9L555.2,216.9L555.9,215.9L556.6,214.9L557.2,213.9L557.9,212.9L558.6,211.9L559.3,210.8L560.0,209.8L560.7,208.8L561.4,207.9L562.1,206.9L562.8,206.0L563.5,205.1L564.2,204.3L564.9,203.5L565.6,202.8L566.3,202.1L567.0,201.4L567.7,200.9L568.4,200.4L569.1,199.9L569.8,199.6L570.5,199.3L571.2,199.1L571.9,199.0L572.6,198.9L573.3,198.9" fill="none" stroke="#1aa3a3" stroke-width="1.7" stroke-dasharray="5.6,2.6"/>
<path d="M343.0,231.7L343.7,231.6L344.4,231.6L345.1,231.5L345.8,231.4L346.5,231.2L347.2,231.1L347.9,230.9L348.6,230.6L349.3,230.4L350.0,230.1L350.7,229.7L351.4,229.3L352.1,228.9L352.8,228.5L353.5,228.0L354.2,227.5L354.9,226.9L355.6,226.3L356.3,225.7L357.0,225.0L357.7,224.3L358.4,223.5L359.1,222.7L359.7,221.9L360.4,221.0L361.1,220.1L361.8,219.2L362.5,218.2L363.2,217.3L363.9,216.3L364.6,215.3L365.3,214.3L366.0,213.2L366.7,212.2L367.4,211.2L368.1,210.2L368.8,209.2L369.5,208.2L370.2,207.3L370.9,206.3L371.6,205.4L372.3,204.6L373.0,203.8L373.7,203.0L374.4,202.3L375.1,201.6L375.8,201.1L376.5,200.5L377.2,200.1L377.9,199.7L378.6,199.4L379.3,199.1L380.0,199.0L380.7,198.9L381.4,198.9L382.1,199.0L382.8,199.1L383.5,199.4L384.2,199.7L384.9,200.1L385.6,200.5L386.3,201.1L387.0,201.6L387.7,202.3L388.4,203.0L389.1,203.8L389.8,204.6L390.5,205.4L391.2,206.3L391.9,207.3L392.5,208.2L393.2,209.2L393.9,210.2L394.6,211.2L395.3,212.2L396.0,213.2L396.7,214.3L397.4,215.3L398.1,216.3L398.8,217.3L399.5,218.2L400.2,219.2L400.9,220.1L401.6,221.0L402.3,221.9L403.0,222.7L403.7,223.5L404.4,224.3L405.1,225.0L405.8,225.7L406.5,226.3L407.2,226.9L407.9,227.5L408.6,228.0L409.3,228.5L410.0,228.9L410.7,229.3L411.4,229.7L412.1,230.1L412.8,230.4L413.5,230.6L414.2,230.9L414.9,231.1L415.6,231.2L416.3,231.4L417.0,231.5L417.7,231.6L418.4,231.6L419.1,231.7L419.8,231.7L420.5,231.6L421.2,231.6L421.9,231.5L422.6,231.4L423.3,231.2L424.0,231.0L424.7,230.8L425.3,230.6L426.0,230.3L426.7,230.0L427.4,229.7L428.1,229.3L428.8,228.9L429.5,228.4L430.2,227.9L430.9,227.4L431.6,226.8L432.3,226.2L433.0,225.6L433.7,224.9L434.4,224.1L435.1,223.4L435.8,222.6L436.5,221.7L437.2,220.9L437.9,220.0L438.6,219.1L439.3,218.1L440.0,217.1L440.7,216.1L441.4,215.1L442.1,214.1L442.8,213.1L443.5,212.1L444.2,211.1L444.9,210.0L445.6,209.1L446.3,208.1L447.0,207.1L447.7,206.2L448.4,205.3L449.1,204.5L449.8,203.7L450.5,202.9L451.2,202.2L451.9,201.6L452.6,201.0L453.3,200.5L454.0,200.0L454.7,199.6L455.4,199.3L456.1,199.1L456.8,199.0L457.5,198.9L458.1,198.9L458.8,199.0L459.5,199.2L460.2,199.4L460.9,199.7L461.6,200.1L462.3,200.6L463.0,201.1L463.7,201.7L464.4,202.4L465.1,203.1L465.8,203.9L466.5,204.7L467.2,205.6L467.9,206.4L468.6,207.4L469.3,208.3L470.0,209.3L470.7,210.3L471.4,211.3L472.1,212.4L472.8,213.4L473.5,214.4L474.2,215.4L474.9,216.4L475.6,217.4L476.3,218.4L477.0,219.3L477.7,220.2L478.4,221.1L479.1,222.0L479.8,222.8L480.5,223.6L481.2,224.4L481.9,225.1L482.6,225.7L483.3,226.4L484.0,227.0L484.7,227.5L485.4,228.1L486.1,228.5L486.8,229.0L487.5,229.4L488.2,229.8L488.9,230.1L489.6,230.4L490.3,230.7L491.0,230.9L491.6,231.1L492.3,231.3L493.0,231.4L493.7,231.5L494.4,231.6L495.1,231.6L495.8,231.7L496.5,231.7L497.2,231.6L497.9,231.6L498.6,231.5L499.3,231.3L500.0,231.2L500.7,231.0L501.4,230.8L502.1,230.6L502.8,230.3L503.5,230.0L504.2,229.6L504.9,229.2L505.6,228.8L506.3,228.4L507.0,227.9L507.7,227.3L508.4,226.7L509.1,226.1L509.8,225.5L510.5,224.8L511.2,224.0L511.9,223.3L512.6,222.5L513.3,221.6L514.0,220.8L514.7,219.9L515.4,218.9L516.1,218.0L516.8,217.0L517.5,216.0L518.2,215.0L518.9,214.0L519.6,213.0L520.3,211.9L521.0,210.9L521.7,209.9L522.4,208.9L523.1,207.9L523.8,207.0L524.4,206.1L525.1,205.2L525.8,204.3L526.5,203.6L527.2,202.8L527.9,202.1L528.6,201.5L529.3,200.9L530.0,200.4L530.7,200.0L531.4,199.6L532.1,199.3L532.8,199.1L533.5,199.0L534.2,198.9L534.9,198.9L535.6,199.0L536.3,199.2L537.0,199.5L537.7,199.8L538.4,200.2L539.1,200.7L539.8,201.2L540.5,201.8L541.2,202.5L541.9,203.2L542.6,204.0L543.3,204.8L544.0,205.7L544.7,206.6L545.4,207.5L546.1,208.5L546.8,209.5L547.5,210.5L548.2,211.5L548.9,212.5L549.6,213.5L550.3,214.5L551.0,215.6L551.7,216.6L552.4,217.5L553.1,218.5L553.8,219.4L554.5,220.4L555.2,221.2L555.9,222.1L556.6,222.9L557.2,223.7L557.9,224.5L558.6,225.2L559.3,225.8L560.0,226.5L560.7,227.1L561.4,227.6L562.1,228.1L562.8,228.6L563.5,229.0L564.2,229.4L564.9,229.8L565.6,230.1L566.3,230.4L567.0,230.7L567.7,230.9L568.4,231.1L569.1,231.3L569.8,231.4L570.5,231.5L571.2,231.6L571.9,231.6L572.6,231.7L573.3,231.7" fill="none" stroke="#9400d3" stroke-width="1.7" stroke-dasharray="7,2.6,1.6,2.6"/>
<rect x="343.00" y="166.20" width="230.30" height="77.70" fill="none" stroke="#1a1a1a" stroke-width="1.25"/>
<line x1="343.00" y1="181.40" x2="348.00" y2="181.40" stroke="#1a1a1a" stroke-width="1.0"/>
<line x1="343.00" y1="212.60" x2="348.00" y2="212.60" stroke="#1a1a1a" stroke-width="1.0"/>
<line x1="412.40" y1="243.90" x2="412.40" y2="238.90" stroke="#1a1a1a" stroke-width="1.0"/>
<line x1="482.10" y1="243.90" x2="482.10" y2="238.90" stroke="#1a1a1a" stroke-width="1.0"/>
<line x1="551.80" y1="243.90" x2="551.80" y2="238.90" stroke="#1a1a1a" stroke-width="1.0"/>
<text x="320.46" y="185.90" font-size="12.6" font-weight="normal" font-style="normal" fill="#111" stroke="#111" stroke-width="0.28" textLength="18.64" lengthAdjust="spacingAndGlyphs">0.4</text>
<text x="320.46" y="216.50" font-size="12.6" font-weight="normal" font-style="normal" fill="#111" stroke="#111" stroke-width="0.28" textLength="18.93" lengthAdjust="spacingAndGlyphs">0.2</text>
<text x="320.46" y="243.00" font-size="12.6" font-weight="normal" font-style="normal" fill="#111" stroke="#111" stroke-width="0.28" textLength="18.71" lengthAdjust="spacingAndGlyphs">0.0</text>
<text x="507.05" y="183.30" font-size="9.6" font-weight="normal" font-style="normal" fill="#2b95ff" stroke="#2b95ff" stroke-width="0.1" textLength="19.32" lengthAdjust="spacingAndGlyphs">total</text>
<text x="484.63" y="216.80" font-size="9.8" font-weight="normal" font-style="normal" fill="#22adad" stroke="#22adad" stroke-width="0.1" textLength="22.59" lengthAdjust="spacingAndGlyphs">anion</text>
<text x="522.61" y="216.80" font-size="9.8" font-weight="normal" font-style="normal" fill="#9a10d8" stroke="#9a10d8" stroke-width="0.1" textLength="26.06" lengthAdjust="spacingAndGlyphs">cation</text>
<rect x="355.0" y="158.8" width="197.3" height="14.3" rx="2.6" fill="#8783d8" stroke="#111" stroke-width="1.1"/>
<text x="399.86" y="169.20" font-size="9.6" font-weight="bold" font-style="normal" fill="#fff" textLength="102.44" lengthAdjust="spacingAndGlyphs">electrophoretic rise</text>
<line x1="381.50" y1="250.80" x2="381.50" y2="276.90" stroke="#b4b4b4" stroke-width="0.9" stroke-dasharray="2.8,1.2"/>
<line x1="457.50" y1="250.80" x2="457.50" y2="276.90" stroke="#b4b4b4" stroke-width="0.9" stroke-dasharray="2.8,1.2"/>
<line x1="534.50" y1="250.80" x2="534.50" y2="276.90" stroke="#b4b4b4" stroke-width="0.9" stroke-dasharray="2.8,1.2"/>
<path d="M343.0,274.3L343.7,274.3L344.4,274.2L345.1,274.1L345.8,274.0L346.5,273.9L347.2,273.7L347.9,273.4L348.6,273.2L349.3,272.9L350.0,272.5L350.7,272.2L351.4,271.8L352.1,271.4L352.8,271.0L353.5,270.5L354.2,270.1L354.9,269.6L355.6,269.1L356.3,268.5L357.0,268.0L357.7,267.4L358.4,266.9L359.1,266.3L359.7,265.7L360.4,265.1L361.1,264.5L361.8,263.9L362.5,263.3L363.2,262.7L363.9,262.1L364.6,261.6L365.3,261.0L366.0,260.4L366.7,259.8L367.4,259.3L368.1,258.8L368.8,258.3L369.5,257.8L370.2,257.3L370.9,256.8L371.6,256.4L372.3,256.0L373.0,255.6L373.7,255.3L374.4,255.0L375.1,254.7L375.8,254.4L376.5,254.2L377.2,254.0L377.9,253.8L378.6,253.7L379.3,253.6L380.0,253.5L380.7,253.5L381.4,253.5L382.1,253.5L382.8,253.6L383.5,253.7L384.2,253.8L384.9,254.0L385.6,254.2L386.3,254.4L387.0,254.7L387.7,255.0L388.4,255.3L389.1,255.6L389.8,256.0L390.5,256.4L391.2,256.8L391.9,257.3L392.5,257.8L393.2,258.3L393.9,258.8L394.6,259.3L395.3,259.8L396.0,260.4L396.7,261.0L397.4,261.5L398.1,262.1L398.8,262.7L399.5,263.3L400.2,263.9L400.9,264.5L401.6,265.1L402.3,265.7L403.0,266.3L403.7,266.9L404.4,267.4L405.1,268.0L405.8,268.5L406.5,269.1L407.2,269.6L407.9,270.1L408.6,270.5L409.3,271.0L410.0,271.4L410.7,271.8L411.4,272.2L412.1,272.5L412.8,272.9L413.5,273.2L414.2,273.4L414.9,273.7L415.6,273.8L416.3,274.0L417.0,274.1L417.7,274.2L418.4,274.3L419.1,274.3L419.8,274.3L420.5,274.3L421.2,274.2L421.9,274.1L422.6,274.0L423.3,273.8L424.0,273.6L424.7,273.4L425.3,273.1L426.0,272.8L426.7,272.5L427.4,272.1L428.1,271.8L428.8,271.4L429.5,270.9L430.2,270.5L430.9,270.0L431.6,269.5L432.3,269.0L433.0,268.5L433.7,267.9L434.4,267.4L435.1,266.8L435.8,266.2L436.5,265.6L437.2,265.0L437.9,264.4L438.6,263.8L439.3,263.2L440.0,262.6L440.7,262.1L441.4,261.5L442.1,260.9L442.8,260.3L443.5,259.8L444.2,259.2L444.9,258.7L445.6,258.2L446.3,257.7L447.0,257.2L447.7,256.8L448.4,256.4L449.1,256.0L449.8,255.6L450.5,255.2L451.2,254.9L451.9,254.6L452.6,254.4L453.3,254.1L454.0,253.9L454.7,253.8L455.4,253.6L456.1,253.5L456.8,253.5L457.5,253.5L458.1,253.5L458.8,253.5L459.5,253.6L460.2,253.7L460.9,253.8L461.6,254.0L462.3,254.2L463.0,254.4L463.7,254.7L464.4,255.0L465.1,255.3L465.8,255.7L466.5,256.1L467.2,256.5L467.9,256.9L468.6,257.4L469.3,257.8L470.0,258.3L470.7,258.8L471.4,259.4L472.1,259.9L472.8,260.5L473.5,261.1L474.2,261.6L474.9,262.2L475.6,262.8L476.3,263.4L477.0,264.0L477.7,264.6L478.4,265.2L479.1,265.8L479.8,266.4L480.5,266.9L481.2,267.5L481.9,268.1L482.6,268.6L483.3,269.1L484.0,269.6L484.7,270.1L485.4,270.6L486.1,271.0L486.8,271.5L487.5,271.9L488.2,272.2L488.9,272.6L489.6,272.9L490.3,273.2L491.0,273.5L491.6,273.7L492.3,273.9L493.0,274.0L493.7,274.2L494.4,274.3L495.1,274.3L495.8,274.3L496.5,274.3L497.2,274.3L497.9,274.2L498.6,274.1L499.3,274.0L500.0,273.8L500.7,273.6L501.4,273.4L502.1,273.1L502.8,272.8L503.5,272.5L504.2,272.1L504.9,271.7L505.6,271.3L506.3,270.9L507.0,270.4L507.7,269.9L508.4,269.4L509.1,268.9L509.8,268.4L510.5,267.8L511.2,267.3L511.9,266.7L512.6,266.1L513.3,265.5L514.0,264.9L514.7,264.4L515.4,263.8L516.1,263.2L516.8,262.6L517.5,262.0L518.2,261.4L518.9,260.8L519.6,260.2L520.3,259.7L521.0,259.2L521.7,258.6L522.4,258.1L523.1,257.6L523.8,257.2L524.4,256.7L525.1,256.3L525.8,255.9L526.5,255.5L527.2,255.2L527.9,254.9L528.6,254.6L529.3,254.3L530.0,254.1L530.7,253.9L531.4,253.8L532.1,253.6L532.8,253.5L533.5,253.5L534.2,253.5L534.9,253.5L535.6,253.5L536.3,253.6L537.0,253.7L537.7,253.8L538.4,254.0L539.1,254.2L539.8,254.5L540.5,254.7L541.2,255.0L541.9,255.4L542.6,255.7L543.3,256.1L544.0,256.5L544.7,257.0L545.4,257.4L546.1,257.9L546.8,258.4L547.5,258.9L548.2,259.5L548.9,260.0L549.6,260.6L550.3,261.1L551.0,261.7L551.7,262.3L552.4,262.9L553.1,263.5L553.8,264.1L554.5,264.7L555.2,265.3L555.9,265.9L556.6,266.5L557.2,267.0L557.9,267.6L558.6,268.1L559.3,268.7L560.0,269.2L560.7,269.7L561.4,270.2L562.1,270.7L562.8,271.1L563.5,271.5L564.2,271.9L564.9,272.3L565.6,272.6L566.3,273.0L567.0,273.2L567.7,273.5L568.4,273.7L569.1,273.9L569.8,274.1L570.5,274.2L571.2,274.3L571.9,274.3L572.6,274.3L573.3,274.3" fill="none" stroke="#1e90ff" stroke-width="1.8"/>
<rect x="343.00" y="250.80" width="230.30" height="26.10" fill="none" stroke="#1a1a1a" stroke-width="1.25"/>
<line x1="343.00" y1="253.45" x2="348.00" y2="253.45" stroke="#1a1a1a" stroke-width="1.0"/>
<line x1="343.00" y1="263.90" x2="348.00" y2="263.90" stroke="#1a1a1a" stroke-width="1.0"/>
<line x1="343.00" y1="274.35" x2="348.00" y2="274.35" stroke="#1a1a1a" stroke-width="1.0"/>
<line x1="412.40" y1="276.90" x2="412.40" y2="271.90" stroke="#1a1a1a" stroke-width="1.0"/>
<line x1="482.10" y1="276.90" x2="482.10" y2="271.90" stroke="#1a1a1a" stroke-width="1.0"/>
<line x1="551.80" y1="276.90" x2="551.80" y2="271.90" stroke="#1a1a1a" stroke-width="1.0"/>
<text x="334.28" y="256.10" font-size="12.6" font-weight="normal" font-style="normal" fill="#111" stroke="#111" stroke-width="0.28" textLength="4.60" lengthAdjust="spacingAndGlyphs">1</text>
<text x="332.63" y="268.30" font-size="12.6" font-weight="normal" font-style="normal" fill="#111" stroke="#111" stroke-width="0.28" textLength="6.49" lengthAdjust="spacingAndGlyphs">0</text>
<text x="322.14" y="282.00" font-size="12.6" font-weight="normal" font-style="normal" fill="#111" stroke="#111" stroke-width="0.28" textLength="17.24" lengthAdjust="spacingAndGlyphs">−1</text>
<text x="339.13" y="289.40" font-size="12.6" font-weight="normal" font-style="normal" fill="#111" stroke="#111" stroke-width="0.28" textLength="6.49" lengthAdjust="spacingAndGlyphs">0</text>
<text x="408.68" y="289.40" font-size="12.6" font-weight="normal" font-style="normal" fill="#111" stroke="#111" stroke-width="0.28" textLength="6.85" lengthAdjust="spacingAndGlyphs">2</text>
<text x="478.78" y="289.40" font-size="12.6" font-weight="normal" font-style="normal" fill="#111" stroke="#111" stroke-width="0.28" textLength="6.17" lengthAdjust="spacingAndGlyphs">4</text>
<text x="548.10" y="289.40" font-size="12.6" font-weight="normal" font-style="normal" fill="#111" stroke="#111" stroke-width="0.28" textLength="6.70" lengthAdjust="spacingAndGlyphs">6</text>
<text x="442.27" y="307.50" font-size="12.8" font-weight="normal" font-style="italic" fill="#111" stroke="#111" stroke-width="0.28" textLength="19.45" lengthAdjust="spacingAndGlyphs">z/σ</text>
<text x="294.60" y="169.50" font-size="14" text-anchor="start" font-weight="bold" font-style="normal" fill="#000" stroke="#000" stroke-width="0.35">d</text>
<text transform="rotate(-90)" x="-212.56" y="313.36" font-size="12.7" font-weight="normal" font-style="italic" fill="#111" stroke="#111" stroke-width="0.28" textLength="7.70" lengthAdjust="spacingAndGlyphs">ρ</text>
<text transform="rotate(-90)" x="-201.82" y="309.30" font-size="10" font-weight="normal" font-style="normal" fill="#111" stroke="#111" stroke-width="0.28" textLength="3.13" lengthAdjust="spacingAndGlyphs">*</text>
<text transform="rotate(-90)" x="-289.11" y="314.82" font-size="13" font-weight="normal" font-style="italic" fill="#111" stroke="#111" stroke-width="0.28" textLength="7.64" lengthAdjust="spacingAndGlyphs">n</text>
<text transform="rotate(-90)" x="-265.36" y="314.82" font-size="13" font-weight="normal" font-style="italic" fill="#111" stroke="#111" stroke-width="0.28" textLength="5.84" lengthAdjust="spacingAndGlyphs">n</text>
<text transform="rotate(-90)" x="-278.75" y="309.60" font-size="10" font-weight="normal" font-style="normal" fill="#111" stroke="#111" stroke-width="0.28" textLength="4.00" lengthAdjust="spacingAndGlyphs">*</text>
<text transform="rotate(-90)" x="-271.90" y="314.62" font-size="13" font-weight="normal" font-style="normal" fill="#111" stroke="#111" stroke-width="0.28" textLength="4.27" lengthAdjust="spacingAndGlyphs">/</text>
<text transform="rotate(-90)" x="-256.12" y="309.60" font-size="10" font-weight="normal" font-style="normal" fill="#111" stroke="#111" stroke-width="0.28" textLength="3.03" lengthAdjust="spacingAndGlyphs">*</text>
<text transform="rotate(-90)" x="-259.37" y="318.10" font-size="10" font-weight="normal" font-style="normal" fill="#111" stroke="#111" stroke-width="0.28" textLength="19.36" lengthAdjust="spacingAndGlyphs">max</text>
<defs><radialGradient id="gm" cx="45%" cy="40%" r="60%"><stop offset="0" stop-color="#ea62ea"/><stop offset="1" stop-color="#c82ec8"/></radialGradient><radialGradient id="gb" cx="45%" cy="40%" r="60%"><stop offset="0" stop-color="#5cc4ff"/><stop offset="1" stop-color="#2e9fe8"/></radialGradient><radialGradient id="gp" cx="45%" cy="40%" r="60%"><stop offset="0" stop-color="#bb66ee"/><stop offset="1" stop-color="#a03ad8"/></radialGradient><radialGradient id="gt" cx="45%" cy="40%" r="60%"><stop offset="0" stop-color="#52dccd"/><stop offset="1" stop-color="#26b8a8"/></radialGradient></defs>
<rect x="577.5" y="30.4" width="106.6" height="107.4" rx="6" fill="#fce9fa" stroke="#e0359c" stroke-width="1.3" stroke-dasharray="4.4,1.9"/>
<path d="M578.8,90.7L580.1,92.5L581.5,94.2L582.8,95.9L584.1,97.6L585.4,99.2L586.8,100.8L588.1,102.2L589.4,103.6L590.7,104.9L592.1,106.1L593.4,107.2L594.7,108.2L596.0,109.0L597.4,109.8L598.7,110.4L600.0,110.9L601.3,111.2L602.7,111.4L604.0,111.5L605.3,111.4L606.6,111.3L608.0,110.9L609.3,110.5L610.6,109.9L611.9,109.2L613.3,108.3L614.6,107.4L615.9,106.3L617.2,105.1L618.6,103.8L619.9,102.5L621.2,101.0L622.5,99.5L623.9,97.9L625.2,96.2L626.5,94.5L627.8,92.8L629.2,91.0L630.5,89.2L631.8,87.4L633.1,85.6L634.5,83.8L635.8,82.1L637.1,80.3L638.4,78.6L639.8,77.0L641.1,75.4L642.4,73.9L643.7,72.5L645.1,71.1L646.4,69.9L647.7,68.7L649.0,67.7L650.4,66.8L651.7,66.0L653.0,65.3L654.3,64.7L655.7,64.3L657.0,64.0L658.3,63.8L659.6,63.8L661.0,63.9L662.3,64.2L663.6,64.6L664.9,65.1L666.3,65.7L667.6,66.5L668.9,67.4L670.2,68.4L671.6,69.5L672.9,70.7L674.2,72.0L675.5,73.4L676.9,74.9L678.2,76.5L679.5,78.1L680.8,79.8L682.2,81.5L683.5,83.3" fill="none" stroke="#4a1580" stroke-width="1.7" stroke-dasharray="4,2"/>
<circle cx="604.1" cy="111.5" r="3.1" fill="#fff" stroke="#111" stroke-width="1.1"/>
<circle cx="659.2" cy="63.6" r="3.1" fill="#fff" stroke="#111" stroke-width="1.1"/>
<circle cx="631.0" cy="87.5" r="3.1" fill="#d6338f" stroke="#111" stroke-width="1.1"/>
<line x1="594" y1="61" x2="603" y2="49.5" stroke="#111" stroke-width="2.9"/>
<circle cx="607.5" cy="45.0" r="8.4" fill="url(#gm)" stroke="#111" stroke-width="1.2"/>
<circle cx="589.0" cy="66.0" r="8.5" fill="url(#gb)" stroke="#111" stroke-width="1.2"/>
<path d="M604.3,45.2h6.2M607.4,42.1v6.2" stroke="#fff" stroke-width="1.8"/>
<path d="M586.6,66.4h6.2" stroke="#fff" stroke-width="1.8"/>
<text x="620.12" y="49.72" font-size="13" font-weight="normal" font-style="italic" fill="#111" stroke="#111" stroke-width="0.08" textLength="4.63" lengthAdjust="spacingAndGlyphs">f</text>
<text x="624.74" y="51.65" font-size="9.2" font-weight="normal" font-style="normal" fill="#111" stroke="#111" stroke-width="0.08" textLength="17.09" lengthAdjust="spacingAndGlyphs">DEP</text>
<text x="645.24" y="48.34" font-size="13" font-weight="normal" font-style="normal" fill="#111" stroke="#111" stroke-width="0.08" textLength="8.61" lengthAdjust="spacingAndGlyphs">~</text>
<path fill-rule="evenodd" fill="#111" d="M658.0,39.9H666.0L662.1,49.0Z M660.2,41.4H664.5L662.4,46.4Z"/>
<text x="665.63" y="48.87" font-size="13" font-weight="normal" font-style="italic" fill="#111" stroke="#111" stroke-width="0.08" textLength="8.17" lengthAdjust="spacingAndGlyphs">E</text>
<text x="675.00" y="43.75" font-size="8.5" font-weight="normal" font-style="normal" fill="#111" stroke="#111" stroke-width="0.08" textLength="4.40" lengthAdjust="spacingAndGlyphs">2</text>
<text x="633.38" y="104.14" font-size="11.5" font-weight="normal" font-style="normal" fill="#e23f9a" stroke="#e23f9a" stroke-width="0.08" textLength="3.25" lengthAdjust="spacingAndGlyphs">|</text>
<text x="636.47" y="104.14" font-size="11.5" font-weight="normal" font-style="italic" fill="#e23f9a" stroke="#e23f9a" stroke-width="0.08" textLength="3.45" lengthAdjust="spacingAndGlyphs">f</text>
<text x="640.65" y="105.89" font-size="6.5" font-weight="normal" font-style="normal" fill="#e23f9a" stroke="#e23f9a" stroke-width="0.08" textLength="14.10" lengthAdjust="spacingAndGlyphs">DEP</text>
<text x="654.25" y="104.14" font-size="11.5" font-weight="normal" font-style="normal" fill="#e23f9a" stroke="#e23f9a" stroke-width="0.08" textLength="3.90" lengthAdjust="spacingAndGlyphs">|</text>
<text x="660.10" y="104.37" font-size="11.5" font-weight="normal" font-style="normal" fill="#e23f9a" stroke="#e23f9a" stroke-width="0.08" textLength="6.98" lengthAdjust="spacingAndGlyphs">></text>
<text x="667.84" y="103.85" font-size="11.5" font-weight="normal" font-style="normal" fill="#e23f9a" stroke="#e23f9a" stroke-width="0.08" textLength="6.37" lengthAdjust="spacingAndGlyphs">0</text>
<text x="584.26" y="127.44" font-size="11.5" font-weight="normal" font-style="normal" fill="#2a2a2a" stroke="#2a2a2a" stroke-width="0.08" textLength="3.57" lengthAdjust="spacingAndGlyphs">|</text>
<text x="588.13" y="127.84" font-size="11.5" font-weight="normal" font-style="italic" fill="#2a2a2a" stroke="#2a2a2a" stroke-width="0.08" textLength="3.70" lengthAdjust="spacingAndGlyphs">f</text>
<text x="591.90" y="128.88" font-size="6.5" font-weight="normal" font-style="normal" fill="#2a2a2a" stroke="#2a2a2a" stroke-width="0.08" textLength="12.82" lengthAdjust="spacingAndGlyphs">DEP</text>
<text x="605.05" y="127.44" font-size="11.5" font-weight="normal" font-style="normal" fill="#2a2a2a" stroke="#2a2a2a" stroke-width="0.08" textLength="3.90" lengthAdjust="spacingAndGlyphs">|</text>
<text x="609.50" y="127.64" font-size="11.5" font-weight="normal" font-style="normal" fill="#2a2a2a" stroke="#2a2a2a" stroke-width="0.08" textLength="6.98" lengthAdjust="spacingAndGlyphs">=</text>
<text x="617.38" y="127.55" font-size="11.5" font-weight="normal" font-style="normal" fill="#2a2a2a" stroke="#2a2a2a" stroke-width="0.08" textLength="5.91" lengthAdjust="spacingAndGlyphs">0</text>
<rect x="577.5" y="166.3" width="106.6" height="110.9" rx="6" fill="#e2f4fc" stroke="#1e8cfa" stroke-width="1.3" stroke-dasharray="4.4,1.9"/>
<path d="M578.8,226.7L580.1,228.6L581.5,230.4L582.8,232.3L584.1,234.1L585.4,235.8L586.8,237.5L588.1,239.1L589.4,240.7L590.7,242.1L592.1,243.4L593.4,244.6L594.7,245.7L596.0,246.6L597.4,247.5L598.7,248.1L600.0,248.7L601.3,249.1L602.7,249.3L604.0,249.4L605.3,249.3L606.6,249.1L608.0,248.8L609.3,248.2L610.6,247.6L611.9,246.8L613.3,245.9L614.6,244.8L615.9,243.6L617.2,242.3L618.6,240.9L619.9,239.4L621.2,237.8L622.5,236.2L623.9,234.4L625.2,232.6L626.5,230.8L627.8,228.9L629.2,227.0L630.5,225.1L631.8,223.2L633.1,221.3L634.5,219.5L635.8,217.6L637.1,215.9L638.4,214.1L639.8,212.5L641.1,210.9L642.4,209.5L643.7,208.1L645.1,206.8L646.4,205.7L647.7,204.7L649.0,203.8L650.4,203.1L651.7,202.5L653.0,202.0L654.3,201.7L655.7,201.5L657.0,201.5L658.3,201.7L659.6,202.0L661.0,202.4L662.3,203.0L663.6,203.7L664.9,204.6L666.3,205.6L667.6,206.7L668.9,208.0L670.2,209.3L671.6,210.8L672.9,212.3L674.2,214.0L675.5,215.7L676.9,217.4L678.2,219.3L679.5,221.1L680.8,223.0L682.2,224.9L683.5,226.8" fill="none" stroke="#4a1580" stroke-width="1.7" stroke-dasharray="4,2"/>
<circle cx="604.1" cy="249.4" r="3.1" fill="#1a6ae8" stroke="#111" stroke-width="1.1"/>
<circle cx="656.4" cy="201.5" r="3.1" fill="#1a6ae8" stroke="#111" stroke-width="1.1"/>
<circle cx="631.8" cy="224.3" r="3.1" fill="#fff" stroke="#111" stroke-width="1.1"/>
<circle cx="608.5" cy="183.9" r="10.1" fill="url(#gp)" stroke="#111" stroke-width="1.3"/>
<circle cx="592.6" cy="204.8" r="10.1" fill="url(#gt)" stroke="#111" stroke-width="1.3"/>
<path d="M605.2,184.9l6.4,-0.6M608.1,181.5l0.5,6.5" stroke="#fff" stroke-width="2"/>
<path d="M589.0,206.4l6.1,-1.4" stroke="#fff" stroke-width="2"/>
<text x="633.83" y="180.93" font-size="13" font-weight="normal" font-style="italic" fill="#111" stroke="#111" stroke-width="0.08" textLength="3.70" lengthAdjust="spacingAndGlyphs">f</text>
<text x="637.39" y="184.25" font-size="9.2" font-weight="normal" font-style="normal" fill="#111" stroke="#111" stroke-width="0.08" textLength="11.90" lengthAdjust="spacingAndGlyphs">EP</text>
<text x="651.81" y="181.87" font-size="13" font-weight="normal" font-style="normal" fill="#111" stroke="#111" stroke-width="0.08" textLength="8.07" lengthAdjust="spacingAndGlyphs">=</text>
<text x="663.95" y="181.02" font-size="13" font-weight="normal" font-style="italic" fill="#111" stroke="#111" stroke-width="0.08" textLength="5.51" lengthAdjust="spacingAndGlyphs">q</text>
<text x="671.00" y="180.47" font-size="13" font-weight="normal" font-style="italic" fill="#111" stroke="#111" stroke-width="0.08" textLength="9.00" lengthAdjust="spacingAndGlyphs">E</text>
<text x="631.86" y="239.04" font-size="11.5" font-weight="normal" font-style="normal" fill="#2a2a2a" stroke="#2a2a2a" stroke-width="0.08" textLength="3.57" lengthAdjust="spacingAndGlyphs">|</text>
<text x="636.13" y="239.44" font-size="11.5" font-weight="normal" font-style="italic" fill="#2a2a2a" stroke="#2a2a2a" stroke-width="0.08" textLength="3.70" lengthAdjust="spacingAndGlyphs">f</text>
<text x="639.91" y="241.29" font-size="6.5" font-weight="normal" font-style="normal" fill="#2a2a2a" stroke="#2a2a2a" stroke-width="0.08" textLength="8.23" lengthAdjust="spacingAndGlyphs">EP</text>
<text x="648.14" y="239.04" font-size="11.5" font-weight="normal" font-style="normal" fill="#2a2a2a" stroke="#2a2a2a" stroke-width="0.08" textLength="4.22" lengthAdjust="spacingAndGlyphs">|</text>
<text x="653.50" y="239.63" font-size="11.5" font-weight="normal" font-style="normal" fill="#2a2a2a" stroke="#2a2a2a" stroke-width="0.08" textLength="6.98" lengthAdjust="spacingAndGlyphs">=</text>
<text x="661.61" y="239.15" font-size="11.5" font-weight="normal" font-style="normal" fill="#2a2a2a" stroke="#2a2a2a" stroke-width="0.08" textLength="6.84" lengthAdjust="spacingAndGlyphs">0</text>
<text x="581.66" y="268.54" font-size="11.5" font-weight="normal" font-style="normal" fill="#1a80f0" stroke="#1a80f0" stroke-width="0.08" textLength="3.57" lengthAdjust="spacingAndGlyphs">|</text>
<text x="585.49" y="268.54" font-size="11.5" font-weight="normal" font-style="italic" fill="#1a80f0" stroke="#1a80f0" stroke-width="0.08" textLength="4.04" lengthAdjust="spacingAndGlyphs">f</text>
<text x="589.71" y="270.69" font-size="6.5" font-weight="normal" font-style="normal" fill="#1a80f0" stroke="#1a80f0" stroke-width="0.08" textLength="8.23" lengthAdjust="spacingAndGlyphs">EP</text>
<text x="597.95" y="268.54" font-size="11.5" font-weight="normal" font-style="normal" fill="#1a80f0" stroke="#1a80f0" stroke-width="0.08" textLength="3.90" lengthAdjust="spacingAndGlyphs">|</text>
<text x="602.82" y="268.67" font-size="11.5" font-weight="normal" font-style="normal" fill="#1a80f0" stroke="#1a80f0" stroke-width="0.08" textLength="7.95" lengthAdjust="spacingAndGlyphs">></text>
<text x="611.55" y="268.65" font-size="11.5" font-weight="normal" font-style="normal" fill="#1a80f0" stroke="#1a80f0" stroke-width="0.08" textLength="6.26" lengthAdjust="spacingAndGlyphs">0</text>
</svg>
</body></html>
